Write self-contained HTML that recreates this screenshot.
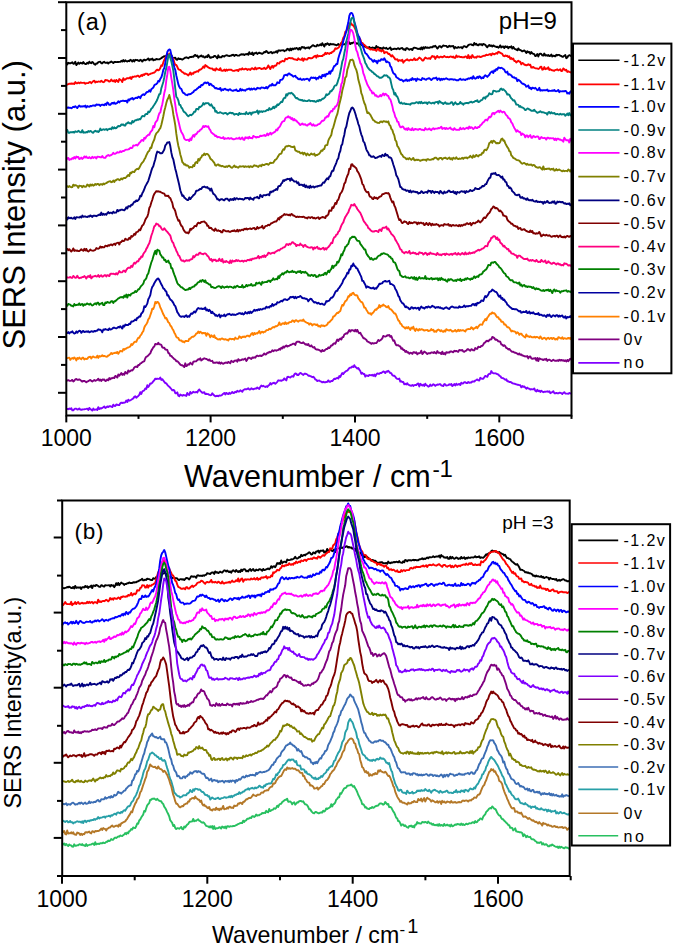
<!DOCTYPE html>
<html><head><meta charset="utf-8"><style>
html,body{margin:0;padding:0;background:#fff;overflow:hidden;width:675px;height:947px;}
svg{display:block;}
text{font-family:"Liberation Sans", sans-serif;fill:#000;}
</style></head><body>
<svg width="675" height="947" viewBox="0 0 675 947">
<rect width="675" height="947" fill="#fff"/>
<path d="M66.3 62.4 L67.3 64.4 L68.3 62.8 L69.3 63.2 L70.3 63.3 L71.3 62.8 L72.3 62.3 L73.3 63.8 L74.3 63.5 L75.3 61.8 L76.3 65.0 L77.3 63.9 L78.3 62.6 L79.3 63.8 L80.3 62.8 L81.3 63.0 L82.3 63.6 L83.3 62.1 L84.3 63.4 L85.3 64.0 L86.3 64.0 L87.3 62.7 L88.3 63.6 L89.3 61.7 L90.3 62.8 L91.3 63.2 L92.3 61.9 L93.3 62.8 L94.3 64.2 L95.3 64.8 L96.3 63.4 L97.3 63.5 L98.3 62.1 L99.3 61.9 L100.3 61.7 L101.3 63.2 L102.3 63.3 L103.3 62.2 L104.3 61.8 L105.3 62.9 L106.3 62.9 L107.3 62.5 L108.3 63.5 L109.3 62.4 L110.3 62.3 L111.3 61.4 L112.3 62.3 L113.3 63.1 L114.3 62.0 L115.3 61.9 L116.3 62.1 L117.3 61.9 L118.3 62.0 L119.3 61.9 L120.3 61.9 L121.3 60.8 L122.3 61.6 L123.3 60.1 L124.3 61.5 L125.3 60.3 L126.3 61.2 L127.3 61.5 L128.3 60.8 L129.3 61.2 L130.3 59.8 L131.3 60.4 L132.3 61.5 L133.3 60.1 L134.3 61.4 L135.3 59.8 L136.3 60.1 L137.3 59.9 L138.3 60.7 L139.3 61.0 L140.3 59.8 L141.3 60.4 L142.3 61.6 L143.3 60.1 L144.3 59.6 L145.3 60.4 L146.3 59.8 L147.3 59.4 L148.3 58.4 L149.3 60.3 L150.3 59.1 L151.3 59.5 L152.3 58.6 L153.3 60.3 L154.3 59.8 L155.3 59.9 L156.3 58.9 L157.3 59.3 L158.3 59.4 L159.3 59.4 L160.3 58.7 L161.3 58.1 L162.3 57.4 L163.3 56.7 L164.3 56.1 L165.3 56.6 L166.3 55.7 L167.3 53.9 L168.3 54.9 L169.3 55.7 L170.3 55.1 L171.3 54.9 L172.3 57.1 L173.3 58.2 L174.3 57.9 L175.3 57.6 L176.3 59.5 L177.3 59.7 L178.3 58.3 L179.3 59.0 L180.3 58.8 L181.3 59.1 L182.3 59.6 L183.3 59.0 L184.3 58.3 L185.3 57.6 L186.3 57.3 L187.3 57.7 L188.3 58.3 L189.3 57.4 L190.3 57.0 L191.3 57.0 L192.3 56.6 L193.3 56.9 L194.3 55.6 L195.3 54.9 L196.3 56.1 L197.3 55.6 L198.3 57.7 L199.3 56.4 L200.3 56.3 L201.3 55.4 L202.3 56.8 L203.3 56.2 L204.3 57.5 L205.3 57.3 L206.3 56.2 L207.3 57.1 L208.3 54.8 L209.3 56.4 L210.3 57.9 L211.3 57.5 L212.3 57.1 L213.3 57.0 L214.3 55.9 L215.3 56.0 L216.3 57.2 L217.3 58.3 L218.3 55.3 L219.3 57.3 L220.3 57.3 L221.3 57.4 L222.3 56.0 L223.3 56.2 L224.3 56.5 L225.3 55.6 L226.3 55.3 L227.3 55.4 L228.3 55.9 L229.3 56.1 L230.3 55.7 L231.3 55.6 L232.3 54.9 L233.3 54.8 L234.3 56.0 L235.3 55.0 L236.3 54.9 L237.3 55.5 L238.3 55.6 L239.3 55.5 L240.3 54.7 L241.3 54.3 L242.3 54.5 L243.3 54.3 L244.3 55.1 L245.3 54.2 L246.3 54.4 L247.3 53.8 L248.3 54.8 L249.3 52.2 L250.3 53.9 L251.3 54.1 L252.3 52.6 L253.3 55.1 L254.3 53.3 L255.3 53.2 L256.3 52.5 L257.3 53.9 L258.3 53.3 L259.3 52.6 L260.3 53.2 L261.3 53.5 L262.3 53.8 L263.3 53.0 L264.3 52.0 L265.3 52.3 L266.3 50.9 L267.3 52.0 L268.3 53.0 L269.3 52.8 L270.3 52.2 L271.3 52.0 L272.3 53.3 L273.3 52.3 L274.3 52.6 L275.3 52.1 L276.3 51.2 L277.3 52.7 L278.3 50.5 L279.3 50.4 L280.3 50.8 L281.3 50.4 L282.3 50.4 L283.3 50.2 L284.3 51.2 L285.3 50.4 L286.3 50.4 L287.3 48.8 L288.3 49.2 L289.3 50.5 L290.3 48.6 L291.3 50.3 L292.3 48.5 L293.3 49.3 L294.3 48.3 L295.3 48.9 L296.3 48.0 L297.3 48.3 L298.3 49.6 L299.3 47.9 L300.3 49.6 L301.3 47.6 L302.3 46.9 L303.3 47.7 L304.3 47.2 L305.3 48.6 L306.3 47.8 L307.3 47.9 L308.3 47.3 L309.3 48.5 L310.3 47.1 L311.3 46.7 L312.3 45.5 L313.3 45.3 L314.3 46.0 L315.3 46.4 L316.3 46.4 L317.3 44.7 L318.3 45.7 L319.3 45.4 L320.3 44.3 L321.3 45.4 L322.3 43.2 L323.3 45.0 L324.3 46.6 L325.3 43.9 L326.3 44.6 L327.3 43.2 L328.3 44.0 L329.3 45.1 L330.3 43.7 L331.3 44.4 L332.3 44.2 L333.3 44.1 L334.3 44.5 L335.3 44.7 L336.3 45.3 L337.3 44.9 L338.3 43.9 L339.3 45.3 L340.3 45.1 L341.3 42.9 L342.3 44.5 L343.3 44.4 L344.3 44.4 L345.3 43.9 L346.3 42.3 L347.3 42.9 L348.3 41.4 L349.3 42.6 L350.3 44.1 L351.3 43.0 L352.3 43.2 L353.3 42.4 L354.3 42.3 L355.3 42.5 L356.3 43.7 L357.3 43.3 L358.3 43.8 L359.3 45.5 L360.3 43.8 L361.3 44.5 L362.3 45.5 L363.3 46.3 L364.3 46.6 L365.3 46.0 L366.3 47.5 L367.3 47.5 L368.3 48.0 L369.3 47.0 L370.3 48.1 L371.3 48.1 L372.3 47.5 L373.3 47.9 L374.3 47.8 L375.3 49.3 L376.3 46.0 L377.3 47.3 L378.3 47.1 L379.3 48.2 L380.3 48.0 L381.3 48.2 L382.3 49.1 L383.3 47.4 L384.3 48.0 L385.3 48.5 L386.3 47.8 L387.3 49.0 L388.3 48.9 L389.3 48.2 L390.3 47.4 L391.3 49.9 L392.3 49.1 L393.3 49.0 L394.3 48.8 L395.3 48.7 L396.3 49.3 L397.3 48.7 L398.3 48.2 L399.3 49.2 L400.3 48.7 L401.3 48.1 L402.3 48.0 L403.3 49.6 L404.3 49.2 L405.3 50.2 L406.3 48.3 L407.3 48.1 L408.3 49.0 L409.3 49.7 L410.3 49.1 L411.3 49.0 L412.3 50.1 L413.3 48.1 L414.3 47.6 L415.3 47.9 L416.3 48.2 L417.3 48.6 L418.3 49.0 L419.3 48.5 L420.3 49.3 L421.3 47.4 L422.3 49.4 L423.3 47.2 L424.3 48.6 L425.3 47.0 L426.3 47.8 L427.3 47.5 L428.3 47.8 L429.3 47.9 L430.3 47.2 L431.3 47.2 L432.3 47.4 L433.3 46.2 L434.3 46.6 L435.3 45.8 L436.3 47.0 L437.3 48.6 L438.3 47.5 L439.3 46.2 L440.3 46.3 L441.3 47.5 L442.3 46.4 L443.3 45.5 L444.3 45.9 L445.3 45.9 L446.3 45.9 L447.3 47.2 L448.3 46.8 L449.3 45.7 L450.3 46.5 L451.3 46.1 L452.3 46.2 L453.3 46.0 L454.3 48.5 L455.3 47.0 L456.3 47.7 L457.3 47.9 L458.3 47.0 L459.3 47.6 L460.3 47.4 L461.3 47.1 L462.3 48.3 L463.3 46.7 L464.3 46.2 L465.3 46.6 L466.3 47.2 L467.3 46.4 L468.3 45.1 L469.3 44.6 L470.3 44.4 L471.3 44.4 L472.3 45.1 L473.3 45.3 L474.3 42.9 L475.3 44.6 L476.3 43.8 L477.3 45.1 L478.3 45.4 L479.3 44.1 L480.3 44.5 L481.3 44.2 L482.3 45.3 L483.3 43.9 L484.3 44.3 L485.3 44.8 L486.3 46.3 L487.3 47.3 L488.3 45.7 L489.3 44.9 L490.3 46.0 L491.3 45.4 L492.3 46.5 L493.3 45.4 L494.3 46.1 L495.3 46.5 L496.3 47.0 L497.3 46.6 L498.3 47.7 L499.3 46.9 L500.3 45.4 L501.3 47.5 L502.3 46.7 L503.3 46.4 L504.3 48.1 L505.3 46.3 L506.3 47.1 L507.3 46.5 L508.3 48.2 L509.3 46.9 L510.3 47.4 L511.3 46.3 L512.3 48.6 L513.3 46.9 L514.3 48.6 L515.3 49.1 L516.3 49.5 L517.3 50.3 L518.3 48.4 L519.3 49.9 L520.3 50.0 L521.3 50.6 L522.3 51.4 L523.3 50.9 L524.3 50.5 L525.3 51.4 L526.3 52.9 L527.3 51.2 L528.3 52.4 L529.3 52.0 L530.3 53.8 L531.3 52.1 L532.3 53.4 L533.3 53.8 L534.3 54.2 L535.3 56.1 L536.3 55.7 L537.3 54.0 L538.3 56.5 L539.3 54.1 L540.3 53.6 L541.3 54.0 L542.3 55.3 L543.3 55.6 L544.3 53.5 L545.3 55.6 L546.3 55.1 L547.3 55.8 L548.3 55.0 L549.3 56.0 L550.3 55.8 L551.3 54.5 L552.3 56.5 L553.3 55.6 L554.3 56.0 L555.3 56.4 L556.3 54.8 L557.3 55.4 L558.3 54.9 L559.3 54.9 L560.3 55.8 L561.3 55.9 L562.3 56.7 L563.3 56.7 L564.3 55.7 L565.3 55.1 L566.3 58.2 L567.3 57.5 L568.3 55.8 L569.3 55.2 L570.3 55.7 L571.3 56.2" stroke="#000000" stroke-width="1.9" fill="none" stroke-linejoin="round"/>
<path d="M66.3 84.7 L67.3 84.6 L68.3 84.2 L69.3 83.6 L70.3 83.9 L71.3 83.5 L72.3 83.7 L73.3 83.5 L74.3 84.0 L75.3 82.1 L76.3 83.2 L77.3 83.2 L78.3 82.5 L79.3 83.2 L80.3 82.5 L81.3 82.7 L82.3 82.9 L83.3 82.9 L84.3 82.6 L85.3 83.8 L86.3 83.1 L87.3 83.1 L88.3 83.0 L89.3 82.2 L90.3 82.0 L91.3 83.2 L92.3 82.2 L93.3 81.1 L94.3 80.7 L95.3 82.4 L96.3 81.6 L97.3 82.0 L98.3 81.5 L99.3 81.6 L100.3 81.7 L101.3 80.8 L102.3 81.6 L103.3 82.2 L104.3 81.9 L105.3 80.0 L106.3 80.2 L107.3 80.2 L108.3 80.9 L109.3 81.6 L110.3 81.1 L111.3 79.5 L112.3 80.8 L113.3 81.3 L114.3 80.2 L115.3 81.9 L116.3 79.9 L117.3 81.2 L118.3 81.9 L119.3 79.1 L120.3 79.7 L121.3 80.3 L122.3 82.1 L123.3 78.2 L124.3 79.9 L125.3 79.5 L126.3 78.7 L127.3 78.2 L128.3 78.2 L129.3 78.2 L130.3 77.2 L131.3 79.0 L132.3 76.8 L133.3 77.0 L134.3 76.5 L135.3 76.4 L136.3 76.6 L137.3 75.7 L138.3 75.8 L139.3 77.0 L140.3 76.3 L141.3 75.1 L142.3 75.9 L143.3 74.4 L144.3 75.0 L145.3 73.6 L146.3 73.7 L147.3 73.7 L148.3 75.1 L149.3 74.1 L150.3 74.0 L151.3 73.4 L152.3 73.2 L153.3 72.8 L154.3 72.6 L155.3 71.6 L156.3 70.2 L157.3 69.6 L158.3 70.4 L159.3 69.7 L160.3 68.1 L161.3 65.3 L162.3 65.8 L163.3 62.4 L164.3 59.8 L165.3 57.8 L166.3 56.3 L167.3 56.8 L168.3 56.0 L169.3 53.6 L170.3 54.9 L171.3 56.8 L172.3 59.5 L173.3 58.4 L174.3 62.6 L175.3 64.8 L176.3 65.0 L177.3 66.8 L178.3 69.2 L179.3 69.8 L180.3 69.9 L181.3 71.2 L182.3 72.2 L183.3 72.5 L184.3 73.7 L185.3 73.5 L186.3 74.0 L187.3 74.6 L188.3 75.4 L189.3 74.2 L190.3 72.5 L191.3 74.7 L192.3 73.2 L193.3 73.8 L194.3 72.1 L195.3 72.3 L196.3 71.6 L197.3 71.2 L198.3 71.7 L199.3 69.7 L200.3 69.7 L201.3 69.2 L202.3 68.2 L203.3 66.4 L204.3 67.8 L205.3 65.1 L206.3 65.9 L207.3 66.6 L208.3 67.4 L209.3 68.0 L210.3 68.3 L211.3 68.6 L212.3 68.4 L213.3 70.0 L214.3 69.3 L215.3 70.6 L216.3 68.3 L217.3 69.3 L218.3 69.6 L219.3 70.0 L220.3 68.2 L221.3 70.6 L222.3 70.7 L223.3 70.5 L224.3 69.6 L225.3 71.0 L226.3 69.5 L227.3 70.6 L228.3 69.8 L229.3 69.8 L230.3 69.7 L231.3 69.8 L232.3 70.6 L233.3 70.9 L234.3 70.8 L235.3 70.4 L236.3 70.2 L237.3 70.0 L238.3 71.0 L239.3 69.3 L240.3 69.1 L241.3 69.6 L242.3 68.3 L243.3 69.3 L244.3 69.4 L245.3 68.7 L246.3 69.0 L247.3 69.9 L248.3 69.1 L249.3 69.3 L250.3 70.0 L251.3 68.7 L252.3 68.2 L253.3 69.0 L254.3 69.3 L255.3 67.5 L256.3 69.3 L257.3 68.5 L258.3 68.3 L259.3 67.9 L260.3 68.3 L261.3 69.0 L262.3 68.6 L263.3 68.7 L264.3 67.7 L265.3 69.0 L266.3 68.6 L267.3 67.5 L268.3 65.4 L269.3 67.3 L270.3 69.1 L271.3 66.8 L272.3 65.9 L273.3 67.7 L274.3 65.6 L275.3 65.9 L276.3 65.4 L277.3 63.0 L278.3 63.4 L279.3 63.5 L280.3 61.6 L281.3 61.8 L282.3 60.8 L283.3 61.2 L284.3 61.4 L285.3 58.8 L286.3 59.0 L287.3 59.2 L288.3 58.2 L289.3 57.9 L290.3 58.2 L291.3 58.3 L292.3 58.1 L293.3 58.9 L294.3 59.4 L295.3 59.5 L296.3 59.6 L297.3 60.1 L298.3 58.3 L299.3 59.3 L300.3 59.6 L301.3 59.9 L302.3 58.3 L303.3 60.8 L304.3 58.6 L305.3 59.4 L306.3 59.5 L307.3 59.6 L308.3 58.0 L309.3 57.9 L310.3 58.3 L311.3 58.2 L312.3 58.1 L313.3 57.1 L314.3 56.4 L315.3 55.7 L316.3 57.7 L317.3 55.2 L318.3 56.5 L319.3 56.0 L320.3 56.1 L321.3 56.0 L322.3 56.1 L323.3 54.8 L324.3 54.9 L325.3 52.8 L326.3 54.1 L327.3 53.0 L328.3 53.3 L329.3 54.0 L330.3 52.8 L331.3 53.1 L332.3 51.7 L333.3 51.6 L334.3 50.5 L335.3 48.3 L336.3 48.9 L337.3 48.4 L338.3 47.8 L339.3 46.6 L340.3 44.9 L341.3 43.7 L342.3 41.0 L343.3 37.7 L344.3 36.2 L345.3 31.9 L346.3 31.2 L347.3 29.0 L348.3 28.0 L349.3 24.8 L350.3 22.8 L351.3 23.6 L352.3 25.3 L353.3 25.2 L354.3 27.1 L355.3 29.2 L356.3 31.7 L357.3 34.9 L358.3 37.5 L359.3 38.1 L360.3 39.4 L361.3 42.6 L362.3 42.9 L363.3 44.2 L364.3 44.9 L365.3 45.8 L366.3 47.0 L367.3 47.3 L368.3 48.4 L369.3 48.7 L370.3 49.5 L371.3 49.1 L372.3 49.5 L373.3 49.9 L374.3 49.9 L375.3 50.0 L376.3 50.9 L377.3 49.2 L378.3 48.7 L379.3 50.7 L380.3 50.1 L381.3 51.5 L382.3 50.6 L383.3 50.2 L384.3 53.2 L385.3 52.3 L386.3 52.2 L387.3 52.5 L388.3 54.1 L389.3 53.8 L390.3 55.2 L391.3 56.5 L392.3 55.2 L393.3 56.7 L394.3 57.9 L395.3 59.4 L396.3 59.6 L397.3 59.2 L398.3 61.2 L399.3 60.2 L400.3 60.4 L401.3 60.8 L402.3 59.7 L403.3 62.7 L404.3 61.3 L405.3 60.5 L406.3 59.9 L407.3 59.3 L408.3 60.4 L409.3 60.6 L410.3 59.7 L411.3 59.8 L412.3 60.2 L413.3 59.7 L414.3 58.2 L415.3 60.0 L416.3 59.6 L417.3 59.9 L418.3 58.7 L419.3 57.6 L420.3 58.2 L421.3 59.2 L422.3 60.5 L423.3 60.6 L424.3 58.9 L425.3 57.5 L426.3 58.2 L427.3 58.6 L428.3 58.5 L429.3 58.1 L430.3 58.9 L431.3 57.1 L432.3 56.0 L433.3 56.9 L434.3 56.5 L435.3 58.9 L436.3 57.0 L437.3 56.0 L438.3 57.4 L439.3 57.6 L440.3 56.8 L441.3 56.8 L442.3 57.4 L443.3 56.9 L444.3 56.0 L445.3 56.9 L446.3 57.2 L447.3 56.8 L448.3 57.2 L449.3 57.1 L450.3 56.5 L451.3 56.6 L452.3 57.3 L453.3 56.5 L454.3 57.8 L455.3 57.9 L456.3 55.5 L457.3 56.9 L458.3 56.4 L459.3 56.5 L460.3 57.1 L461.3 56.9 L462.3 57.4 L463.3 57.2 L464.3 57.3 L465.3 56.4 L466.3 56.7 L467.3 58.1 L468.3 55.1 L469.3 58.3 L470.3 56.6 L471.3 57.9 L472.3 55.1 L473.3 56.7 L474.3 57.6 L475.3 57.1 L476.3 57.8 L477.3 56.3 L478.3 56.6 L479.3 56.4 L480.3 57.1 L481.3 56.9 L482.3 56.3 L483.3 55.9 L484.3 55.6 L485.3 55.7 L486.3 54.6 L487.3 55.1 L488.3 54.8 L489.3 54.3 L490.3 54.0 L491.3 55.3 L492.3 53.4 L493.3 53.9 L494.3 54.4 L495.3 53.7 L496.3 53.0 L497.3 53.7 L498.3 51.8 L499.3 52.1 L500.3 52.9 L501.3 53.4 L502.3 53.9 L503.3 55.9 L504.3 56.2 L505.3 55.4 L506.3 56.1 L507.3 55.7 L508.3 57.1 L509.3 56.3 L510.3 58.9 L511.3 58.0 L512.3 59.3 L513.3 58.5 L514.3 61.0 L515.3 61.0 L516.3 62.5 L517.3 61.5 L518.3 60.7 L519.3 61.7 L520.3 61.8 L521.3 64.3 L522.3 63.0 L523.3 63.3 L524.3 64.7 L525.3 64.8 L526.3 65.3 L527.3 65.0 L528.3 64.2 L529.3 65.0 L530.3 64.7 L531.3 67.6 L532.3 67.6 L533.3 66.9 L534.3 67.9 L535.3 68.2 L536.3 68.4 L537.3 68.5 L538.3 69.0 L539.3 68.5 L540.3 66.9 L541.3 66.6 L542.3 69.7 L543.3 69.3 L544.3 67.1 L545.3 69.2 L546.3 68.5 L547.3 68.8 L548.3 67.3 L549.3 69.9 L550.3 69.3 L551.3 70.0 L552.3 70.3 L553.3 70.5 L554.3 70.8 L555.3 69.9 L556.3 69.9 L557.3 69.3 L558.3 70.3 L559.3 69.8 L560.3 69.2 L561.3 71.1 L562.3 70.8 L563.3 68.4 L564.3 69.2 L565.3 70.5 L566.3 69.8 L567.3 71.9 L568.3 71.3 L569.3 71.8 L570.3 72.2 L571.3 72.7" stroke="#ff0000" stroke-width="1.9" fill="none" stroke-linejoin="round"/>
<path d="M66.3 107.2 L67.3 107.8 L68.3 107.5 L69.3 107.9 L70.3 107.7 L71.3 108.3 L72.3 107.6 L73.3 106.8 L74.3 107.2 L75.3 106.2 L76.3 107.2 L77.3 108.1 L78.3 106.4 L79.3 105.6 L80.3 106.7 L81.3 106.3 L82.3 106.6 L83.3 106.1 L84.3 106.5 L85.3 105.6 L86.3 107.5 L87.3 106.1 L88.3 106.6 L89.3 106.7 L90.3 105.9 L91.3 106.3 L92.3 105.7 L93.3 105.4 L94.3 105.5 L95.3 105.9 L96.3 104.5 L97.3 104.7 L98.3 104.7 L99.3 104.7 L100.3 105.9 L101.3 104.9 L102.3 104.6 L103.3 104.8 L104.3 105.3 L105.3 103.8 L106.3 105.0 L107.3 102.4 L108.3 103.3 L109.3 104.9 L110.3 104.8 L111.3 103.6 L112.3 102.9 L113.3 103.6 L114.3 102.5 L115.3 103.8 L116.3 103.3 L117.3 102.8 L118.3 101.3 L119.3 102.5 L120.3 101.3 L121.3 101.1 L122.3 100.8 L123.3 100.8 L124.3 101.0 L125.3 101.0 L126.3 100.8 L127.3 102.5 L128.3 99.5 L129.3 100.4 L130.3 98.8 L131.3 98.9 L132.3 97.9 L133.3 99.5 L134.3 98.5 L135.3 98.1 L136.3 97.6 L137.3 98.1 L138.3 96.7 L139.3 97.0 L140.3 98.2 L141.3 95.8 L142.3 95.0 L143.3 94.2 L144.3 95.0 L145.3 93.9 L146.3 92.6 L147.3 91.9 L148.3 91.8 L149.3 90.3 L150.3 91.8 L151.3 89.3 L152.3 88.4 L153.3 87.6 L154.3 85.3 L155.3 84.5 L156.3 84.2 L157.3 83.2 L158.3 80.8 L159.3 81.5 L160.3 78.8 L161.3 77.4 L162.3 74.4 L163.3 69.8 L164.3 68.2 L165.3 62.9 L166.3 56.9 L167.3 52.0 L168.3 50.2 L169.3 49.4 L170.3 50.1 L171.3 54.7 L172.3 57.6 L173.3 63.0 L174.3 67.3 L175.3 70.0 L176.3 75.5 L177.3 79.8 L178.3 84.1 L179.3 86.8 L180.3 88.4 L181.3 88.8 L182.3 91.4 L183.3 93.0 L184.3 93.2 L185.3 94.5 L186.3 94.9 L187.3 95.2 L188.3 94.3 L189.3 94.4 L190.3 94.0 L191.3 93.6 L192.3 92.7 L193.3 92.2 L194.3 90.6 L195.3 90.1 L196.3 89.6 L197.3 88.5 L198.3 87.9 L199.3 86.6 L200.3 87.0 L201.3 84.9 L202.3 85.2 L203.3 84.3 L204.3 82.9 L205.3 82.5 L206.3 83.3 L207.3 82.5 L208.3 82.7 L209.3 85.1 L210.3 83.8 L211.3 84.4 L212.3 85.8 L213.3 85.9 L214.3 87.2 L215.3 88.4 L216.3 88.0 L217.3 88.8 L218.3 88.8 L219.3 89.2 L220.3 87.9 L221.3 90.7 L222.3 89.4 L223.3 90.0 L224.3 88.9 L225.3 88.8 L226.3 89.9 L227.3 89.7 L228.3 90.5 L229.3 89.4 L230.3 89.3 L231.3 90.4 L232.3 90.7 L233.3 90.8 L234.3 90.1 L235.3 90.4 L236.3 89.5 L237.3 91.1 L238.3 91.0 L239.3 90.9 L240.3 88.8 L241.3 90.6 L242.3 89.4 L243.3 90.2 L244.3 90.1 L245.3 90.7 L246.3 89.5 L247.3 89.3 L248.3 88.8 L249.3 88.5 L250.3 89.8 L251.3 88.6 L252.3 89.6 L253.3 88.7 L254.3 88.5 L255.3 89.5 L256.3 89.3 L257.3 87.8 L258.3 88.3 L259.3 88.3 L260.3 88.7 L261.3 87.5 L262.3 87.6 L263.3 87.7 L264.3 88.2 L265.3 88.1 L266.3 86.9 L267.3 88.4 L268.3 87.1 L269.3 85.9 L270.3 85.1 L271.3 85.6 L272.3 83.8 L273.3 85.4 L274.3 85.3 L275.3 85.4 L276.3 84.4 L277.3 82.3 L278.3 82.9 L279.3 83.0 L280.3 79.9 L281.3 79.8 L282.3 79.6 L283.3 77.9 L284.3 75.1 L285.3 75.1 L286.3 74.6 L287.3 75.6 L288.3 73.6 L289.3 73.4 L290.3 74.5 L291.3 74.9 L292.3 75.6 L293.3 76.7 L294.3 76.2 L295.3 75.8 L296.3 77.4 L297.3 77.9 L298.3 79.1 L299.3 79.4 L300.3 78.5 L301.3 79.7 L302.3 79.9 L303.3 79.0 L304.3 79.8 L305.3 79.1 L306.3 79.0 L307.3 78.7 L308.3 79.3 L309.3 80.7 L310.3 78.6 L311.3 77.4 L312.3 78.0 L313.3 77.5 L314.3 78.1 L315.3 77.5 L316.3 79.4 L317.3 77.9 L318.3 78.5 L319.3 76.4 L320.3 76.6 L321.3 78.1 L322.3 75.0 L323.3 76.1 L324.3 74.5 L325.3 76.5 L326.3 73.8 L327.3 74.2 L328.3 73.6 L329.3 71.6 L330.3 73.8 L331.3 70.7 L332.3 70.9 L333.3 68.0 L334.3 66.0 L335.3 65.7 L336.3 64.0 L337.3 64.0 L338.3 58.5 L339.3 55.0 L340.3 52.1 L341.3 49.1 L342.3 45.6 L343.3 41.0 L344.3 37.7 L345.3 34.7 L346.3 31.4 L347.3 26.4 L348.3 22.6 L349.3 15.8 L350.3 13.5 L351.3 12.9 L352.3 13.5 L353.3 16.3 L354.3 21.8 L355.3 25.0 L356.3 28.6 L357.3 32.8 L358.3 35.7 L359.3 37.1 L360.3 41.0 L361.3 43.9 L362.3 44.8 L363.3 47.6 L364.3 50.5 L365.3 53.3 L366.3 53.6 L367.3 55.0 L368.3 56.4 L369.3 58.1 L370.3 58.9 L371.3 59.2 L372.3 60.6 L373.3 61.8 L374.3 60.0 L375.3 61.5 L376.3 61.1 L377.3 63.3 L378.3 60.5 L379.3 60.7 L380.3 60.7 L381.3 59.1 L382.3 59.5 L383.3 59.9 L384.3 58.3 L385.3 60.0 L386.3 62.2 L387.3 61.5 L388.3 62.4 L389.3 62.6 L390.3 66.3 L391.3 67.2 L392.3 70.7 L393.3 73.1 L394.3 73.9 L395.3 74.6 L396.3 77.2 L397.3 77.8 L398.3 78.3 L399.3 79.4 L400.3 80.0 L401.3 79.6 L402.3 80.3 L403.3 81.5 L404.3 80.4 L405.3 80.5 L406.3 79.4 L407.3 80.9 L408.3 80.2 L409.3 80.7 L410.3 79.3 L411.3 80.1 L412.3 78.1 L413.3 79.6 L414.3 79.2 L415.3 79.0 L416.3 81.0 L417.3 78.5 L418.3 79.4 L419.3 79.4 L420.3 79.8 L421.3 80.1 L422.3 78.1 L423.3 78.8 L424.3 78.6 L425.3 79.6 L426.3 79.7 L427.3 78.6 L428.3 78.5 L429.3 78.1 L430.3 79.1 L431.3 80.1 L432.3 79.1 L433.3 78.2 L434.3 78.1 L435.3 78.2 L436.3 77.5 L437.3 80.0 L438.3 78.7 L439.3 78.4 L440.3 80.3 L441.3 78.8 L442.3 79.7 L443.3 78.8 L444.3 79.4 L445.3 78.7 L446.3 78.3 L447.3 79.0 L448.3 79.3 L449.3 79.7 L450.3 79.2 L451.3 79.1 L452.3 79.2 L453.3 79.8 L454.3 79.4 L455.3 79.6 L456.3 80.3 L457.3 80.3 L458.3 80.3 L459.3 79.3 L460.3 78.7 L461.3 79.9 L462.3 79.7 L463.3 79.3 L464.3 79.6 L465.3 80.0 L466.3 79.1 L467.3 79.4 L468.3 78.3 L469.3 78.7 L470.3 78.1 L471.3 77.5 L472.3 78.8 L473.3 76.2 L474.3 78.2 L475.3 78.7 L476.3 78.2 L477.3 76.7 L478.3 77.9 L479.3 76.2 L480.3 76.9 L481.3 78.5 L482.3 77.4 L483.3 78.1 L484.3 76.2 L485.3 75.3 L486.3 76.0 L487.3 76.9 L488.3 75.7 L489.3 74.8 L490.3 72.9 L491.3 72.0 L492.3 71.3 L493.3 73.0 L494.3 70.3 L495.3 71.0 L496.3 69.0 L497.3 69.7 L498.3 67.5 L499.3 67.7 L500.3 68.3 L501.3 67.7 L502.3 68.3 L503.3 69.1 L504.3 69.6 L505.3 72.0 L506.3 72.6 L507.3 71.6 L508.3 74.7 L509.3 74.1 L510.3 74.8 L511.3 75.4 L512.3 76.9 L513.3 77.5 L514.3 77.3 L515.3 78.4 L516.3 78.1 L517.3 81.2 L518.3 79.8 L519.3 80.4 L520.3 81.2 L521.3 82.6 L522.3 83.7 L523.3 83.6 L524.3 84.5 L525.3 84.9 L526.3 86.7 L527.3 86.4 L528.3 85.5 L529.3 88.2 L530.3 87.7 L531.3 89.2 L532.3 87.6 L533.3 88.0 L534.3 88.5 L535.3 87.8 L536.3 88.8 L537.3 90.2 L538.3 89.9 L539.3 87.8 L540.3 90.7 L541.3 90.1 L542.3 90.5 L543.3 90.1 L544.3 90.3 L545.3 90.3 L546.3 90.3 L547.3 89.6 L548.3 91.2 L549.3 90.7 L550.3 90.9 L551.3 90.9 L552.3 90.5 L553.3 90.7 L554.3 89.9 L555.3 91.1 L556.3 91.2 L557.3 90.9 L558.3 89.9 L559.3 92.2 L560.3 91.2 L561.3 91.4 L562.3 91.3 L563.3 91.1 L564.3 91.4 L565.3 90.9 L566.3 91.4 L567.3 93.5 L568.3 92.9 L569.3 93.7 L570.3 91.8 L571.3 90.9" stroke="#0000ff" stroke-width="1.9" fill="none" stroke-linejoin="round"/>
<path d="M66.3 131.0 L67.3 130.0 L68.3 132.8 L69.3 132.9 L70.3 132.1 L71.3 132.3 L72.3 132.3 L73.3 131.9 L74.3 132.6 L75.3 131.3 L76.3 131.7 L77.3 131.9 L78.3 130.8 L79.3 131.3 L80.3 132.4 L81.3 132.3 L82.3 130.2 L83.3 132.7 L84.3 132.3 L85.3 132.6 L86.3 132.0 L87.3 132.4 L88.3 131.0 L89.3 131.7 L90.3 131.0 L91.3 131.3 L92.3 132.5 L93.3 132.7 L94.3 131.3 L95.3 130.8 L96.3 131.6 L97.3 131.2 L98.3 132.1 L99.3 131.0 L100.3 128.6 L101.3 130.2 L102.3 129.8 L103.3 129.2 L104.3 129.8 L105.3 129.5 L106.3 129.0 L107.3 130.2 L108.3 129.2 L109.3 129.0 L110.3 128.6 L111.3 129.2 L112.3 127.2 L113.3 128.6 L114.3 127.3 L115.3 128.3 L116.3 128.0 L117.3 127.0 L118.3 126.0 L119.3 126.3 L120.3 126.1 L121.3 124.4 L122.3 124.9 L123.3 124.4 L124.3 125.6 L125.3 125.5 L126.3 123.4 L127.3 123.2 L128.3 122.3 L129.3 123.2 L130.3 123.3 L131.3 123.7 L132.3 121.0 L133.3 122.3 L134.3 121.1 L135.3 120.3 L136.3 120.2 L137.3 119.4 L138.3 119.9 L139.3 119.0 L140.3 119.4 L141.3 117.6 L142.3 116.0 L143.3 116.1 L144.3 116.4 L145.3 114.3 L146.3 114.0 L147.3 114.1 L148.3 111.6 L149.3 112.2 L150.3 110.7 L151.3 108.8 L152.3 107.9 L153.3 106.2 L154.3 104.8 L155.3 103.2 L156.3 101.6 L157.3 99.5 L158.3 96.8 L159.3 94.2 L160.3 93.8 L161.3 88.4 L162.3 85.3 L163.3 82.0 L164.3 77.4 L165.3 71.7 L166.3 68.3 L167.3 62.2 L168.3 56.3 L169.3 54.6 L170.3 58.0 L171.3 61.2 L172.3 65.8 L173.3 70.6 L174.3 79.0 L175.3 88.8 L176.3 96.8 L177.3 98.0 L178.3 100.3 L179.3 104.7 L180.3 104.9 L181.3 107.5 L182.3 108.5 L183.3 110.9 L184.3 112.2 L185.3 112.7 L186.3 114.0 L187.3 115.4 L188.3 116.3 L189.3 115.5 L190.3 114.7 L191.3 115.3 L192.3 114.4 L193.3 113.3 L194.3 111.6 L195.3 111.7 L196.3 108.9 L197.3 108.9 L198.3 109.4 L199.3 106.8 L200.3 107.1 L201.3 106.3 L202.3 105.4 L203.3 103.1 L204.3 104.5 L205.3 103.3 L206.3 103.3 L207.3 103.1 L208.3 103.1 L209.3 104.6 L210.3 105.6 L211.3 104.3 L212.3 106.3 L213.3 108.0 L214.3 107.8 L215.3 111.7 L216.3 111.0 L217.3 112.7 L218.3 112.9 L219.3 112.7 L220.3 112.2 L221.3 112.8 L222.3 113.2 L223.3 113.8 L224.3 113.1 L225.3 113.0 L226.3 113.2 L227.3 114.4 L228.3 113.7 L229.3 113.0 L230.3 112.6 L231.3 113.3 L232.3 113.0 L233.3 113.4 L234.3 114.7 L235.3 114.2 L236.3 113.9 L237.3 114.1 L238.3 115.1 L239.3 112.9 L240.3 114.1 L241.3 113.7 L242.3 113.9 L243.3 113.9 L244.3 113.6 L245.3 114.2 L246.3 112.1 L247.3 113.9 L248.3 114.1 L249.3 112.8 L250.3 112.7 L251.3 114.7 L252.3 112.5 L253.3 112.7 L254.3 112.2 L255.3 112.2 L256.3 111.9 L257.3 110.6 L258.3 113.8 L259.3 111.2 L260.3 111.8 L261.3 111.3 L262.3 112.1 L263.3 111.3 L264.3 111.4 L265.3 111.2 L266.3 110.7 L267.3 109.8 L268.3 110.2 L269.3 108.1 L270.3 109.6 L271.3 109.1 L272.3 108.4 L273.3 106.8 L274.3 108.3 L275.3 106.3 L276.3 106.8 L277.3 104.4 L278.3 105.1 L279.3 103.9 L280.3 102.8 L281.3 101.6 L282.3 102.0 L283.3 99.1 L284.3 97.9 L285.3 97.9 L286.3 94.1 L287.3 95.4 L288.3 93.5 L289.3 93.2 L290.3 93.5 L291.3 92.8 L292.3 93.5 L293.3 94.5 L294.3 95.6 L295.3 97.3 L296.3 98.3 L297.3 98.0 L298.3 99.2 L299.3 99.8 L300.3 99.8 L301.3 100.4 L302.3 100.0 L303.3 101.0 L304.3 100.5 L305.3 100.8 L306.3 101.1 L307.3 101.1 L308.3 100.5 L309.3 100.1 L310.3 101.2 L311.3 100.9 L312.3 100.9 L313.3 101.3 L314.3 100.9 L315.3 101.7 L316.3 101.7 L317.3 100.6 L318.3 101.3 L319.3 99.9 L320.3 100.6 L321.3 99.9 L322.3 98.8 L323.3 98.7 L324.3 98.0 L325.3 96.8 L326.3 94.3 L327.3 95.0 L328.3 94.2 L329.3 93.6 L330.3 91.2 L331.3 91.4 L332.3 89.9 L333.3 88.8 L334.3 86.4 L335.3 85.4 L336.3 85.3 L337.3 83.2 L338.3 79.8 L339.3 77.0 L340.3 72.2 L341.3 67.1 L342.3 61.5 L343.3 58.9 L344.3 53.3 L345.3 48.5 L346.3 41.8 L347.3 37.8 L348.3 33.9 L349.3 28.3 L350.3 22.9 L351.3 18.6 L352.3 17.8 L353.3 18.6 L354.3 22.2 L355.3 26.8 L356.3 30.8 L357.3 35.7 L358.3 40.3 L359.3 44.8 L360.3 47.2 L361.3 50.5 L362.3 54.2 L363.3 56.7 L364.3 59.4 L365.3 63.0 L366.3 64.3 L367.3 66.8 L368.3 68.2 L369.3 69.5 L370.3 70.3 L371.3 70.8 L372.3 72.2 L373.3 72.5 L374.3 74.1 L375.3 74.3 L376.3 75.3 L377.3 76.4 L378.3 76.5 L379.3 77.7 L380.3 77.8 L381.3 77.7 L382.3 77.1 L383.3 76.2 L384.3 75.2 L385.3 75.6 L386.3 75.3 L387.3 75.9 L388.3 77.4 L389.3 77.5 L390.3 79.3 L391.3 83.9 L392.3 88.1 L393.3 90.1 L394.3 94.6 L395.3 93.1 L396.3 95.9 L397.3 96.6 L398.3 99.0 L399.3 102.4 L400.3 103.4 L401.3 102.5 L402.3 103.7 L403.3 103.6 L404.3 103.2 L405.3 104.0 L406.3 103.8 L407.3 104.1 L408.3 104.1 L409.3 104.3 L410.3 104.7 L411.3 103.4 L412.3 103.2 L413.3 103.2 L414.3 103.4 L415.3 102.9 L416.3 102.2 L417.3 102.4 L418.3 103.3 L419.3 101.9 L420.3 103.3 L421.3 101.7 L422.3 103.2 L423.3 103.1 L424.3 102.5 L425.3 102.7 L426.3 102.5 L427.3 103.9 L428.3 102.4 L429.3 102.2 L430.3 103.0 L431.3 103.5 L432.3 102.9 L433.3 102.6 L434.3 103.5 L435.3 102.1 L436.3 102.1 L437.3 101.8 L438.3 103.6 L439.3 101.1 L440.3 101.7 L441.3 102.9 L442.3 103.0 L443.3 104.0 L444.3 103.0 L445.3 102.3 L446.3 103.7 L447.3 103.5 L448.3 103.7 L449.3 103.7 L450.3 103.4 L451.3 102.1 L452.3 102.5 L453.3 104.9 L454.3 103.6 L455.3 102.3 L456.3 103.7 L457.3 104.4 L458.3 104.0 L459.3 103.7 L460.3 101.9 L461.3 103.6 L462.3 103.4 L463.3 104.7 L464.3 103.4 L465.3 103.3 L466.3 102.9 L467.3 103.0 L468.3 103.2 L469.3 102.5 L470.3 102.1 L471.3 101.7 L472.3 102.6 L473.3 102.0 L474.3 101.9 L475.3 100.9 L476.3 101.2 L477.3 100.2 L478.3 102.1 L479.3 101.9 L480.3 100.9 L481.3 100.1 L482.3 99.9 L483.3 97.9 L484.3 97.4 L485.3 98.7 L486.3 96.4 L487.3 96.5 L488.3 95.3 L489.3 93.2 L490.3 93.8 L491.3 94.3 L492.3 94.1 L493.3 90.7 L494.3 90.9 L495.3 91.1 L496.3 91.7 L497.3 91.4 L498.3 91.3 L499.3 91.0 L500.3 89.1 L501.3 88.5 L502.3 89.9 L503.3 89.2 L504.3 90.2 L505.3 91.0 L506.3 92.3 L507.3 94.6 L508.3 94.3 L509.3 94.8 L510.3 96.7 L511.3 98.4 L512.3 99.3 L513.3 100.6 L514.3 100.3 L515.3 102.2 L516.3 104.6 L517.3 104.6 L518.3 104.9 L519.3 106.8 L520.3 106.0 L521.3 107.4 L522.3 107.4 L523.3 108.0 L524.3 108.8 L525.3 110.1 L526.3 109.7 L527.3 108.5 L528.3 108.6 L529.3 109.5 L530.3 109.9 L531.3 110.8 L532.3 110.6 L533.3 110.9 L534.3 109.7 L535.3 111.2 L536.3 111.8 L537.3 112.8 L538.3 112.3 L539.3 112.0 L540.3 111.2 L541.3 112.2 L542.3 112.3 L543.3 112.3 L544.3 112.7 L545.3 113.1 L546.3 113.1 L547.3 114.6 L548.3 112.3 L549.3 111.9 L550.3 113.5 L551.3 112.3 L552.3 113.2 L553.3 113.4 L554.3 112.9 L555.3 114.2 L556.3 114.2 L557.3 113.9 L558.3 114.3 L559.3 114.6 L560.3 113.8 L561.3 114.6 L562.3 114.3 L563.3 114.3 L564.3 114.1 L565.3 115.8 L566.3 114.9 L567.3 113.6 L568.3 115.2 L569.3 113.0 L570.3 115.2 L571.3 115.7" stroke="#008080" stroke-width="1.9" fill="none" stroke-linejoin="round"/>
<path d="M66.3 159.5 L67.3 158.6 L68.3 157.9 L69.3 159.9 L70.3 159.2 L71.3 159.3 L72.3 158.1 L73.3 158.8 L74.3 157.0 L75.3 158.6 L76.3 156.6 L77.3 157.4 L78.3 157.0 L79.3 159.0 L80.3 158.7 L81.3 157.6 L82.3 158.9 L83.3 158.0 L84.3 156.4 L85.3 157.6 L86.3 156.5 L87.3 157.8 L88.3 158.0 L89.3 157.1 L90.3 158.2 L91.3 158.3 L92.3 156.8 L93.3 157.9 L94.3 157.3 L95.3 157.1 L96.3 158.5 L97.3 156.6 L98.3 156.8 L99.3 156.9 L100.3 157.3 L101.3 157.4 L102.3 156.0 L103.3 157.6 L104.3 157.8 L105.3 157.9 L106.3 156.3 L107.3 155.6 L108.3 155.0 L109.3 155.8 L110.3 155.3 L111.3 155.0 L112.3 154.3 L113.3 152.8 L114.3 153.9 L115.3 153.7 L116.3 153.2 L117.3 152.1 L118.3 152.6 L119.3 152.3 L120.3 151.2 L121.3 152.1 L122.3 151.2 L123.3 151.0 L124.3 150.8 L125.3 149.9 L126.3 149.6 L127.3 149.6 L128.3 149.4 L129.3 149.0 L130.3 147.8 L131.3 148.0 L132.3 147.8 L133.3 145.4 L134.3 145.6 L135.3 145.3 L136.3 144.7 L137.3 145.5 L138.3 144.4 L139.3 142.7 L140.3 142.1 L141.3 140.4 L142.3 140.0 L143.3 140.9 L144.3 137.8 L145.3 138.6 L146.3 136.6 L147.3 135.8 L148.3 134.7 L149.3 134.9 L150.3 132.4 L151.3 131.1 L152.3 130.0 L153.3 125.9 L154.3 127.3 L155.3 122.8 L156.3 121.4 L157.3 120.3 L158.3 116.4 L159.3 113.3 L160.3 112.5 L161.3 107.8 L162.3 104.2 L163.3 98.8 L164.3 92.9 L165.3 88.9 L166.3 80.4 L167.3 74.5 L168.3 67.1 L169.3 66.8 L170.3 70.9 L171.3 77.8 L172.3 83.6 L173.3 90.1 L174.3 98.6 L175.3 104.8 L176.3 111.9 L177.3 116.4 L178.3 120.5 L179.3 124.7 L180.3 129.1 L181.3 131.9 L182.3 133.5 L183.3 135.4 L184.3 138.7 L185.3 139.7 L186.3 140.1 L187.3 139.9 L188.3 139.7 L189.3 141.1 L190.3 138.5 L191.3 139.9 L192.3 136.7 L193.3 135.1 L194.3 136.7 L195.3 134.1 L196.3 134.3 L197.3 132.7 L198.3 131.4 L199.3 131.4 L200.3 129.6 L201.3 129.3 L202.3 128.0 L203.3 126.0 L204.3 127.1 L205.3 126.0 L206.3 126.2 L207.3 126.9 L208.3 126.3 L209.3 128.8 L210.3 130.1 L211.3 132.5 L212.3 133.1 L213.3 134.1 L214.3 134.6 L215.3 136.1 L216.3 135.7 L217.3 137.3 L218.3 137.0 L219.3 137.1 L220.3 137.6 L221.3 138.1 L222.3 138.1 L223.3 137.1 L224.3 139.1 L225.3 138.3 L226.3 138.6 L227.3 138.5 L228.3 137.9 L229.3 138.8 L230.3 138.4 L231.3 138.1 L232.3 138.9 L233.3 139.3 L234.3 139.2 L235.3 138.9 L236.3 138.3 L237.3 138.5 L238.3 138.6 L239.3 137.6 L240.3 139.2 L241.3 138.6 L242.3 137.5 L243.3 139.5 L244.3 139.8 L245.3 137.3 L246.3 138.0 L247.3 137.4 L248.3 138.5 L249.3 136.8 L250.3 138.1 L251.3 137.9 L252.3 138.3 L253.3 135.9 L254.3 136.6 L255.3 136.9 L256.3 137.6 L257.3 136.9 L258.3 137.2 L259.3 136.8 L260.3 135.7 L261.3 136.1 L262.3 135.7 L263.3 135.6 L264.3 135.0 L265.3 136.0 L266.3 135.4 L267.3 133.5 L268.3 135.2 L269.3 133.9 L270.3 132.8 L271.3 134.4 L272.3 133.1 L273.3 132.9 L274.3 132.1 L275.3 131.6 L276.3 129.5 L277.3 130.3 L278.3 128.0 L279.3 127.2 L280.3 125.7 L281.3 123.5 L282.3 121.8 L283.3 121.2 L284.3 121.0 L285.3 118.4 L286.3 117.4 L287.3 117.2 L288.3 116.3 L289.3 117.7 L290.3 117.2 L291.3 119.2 L292.3 118.1 L293.3 120.3 L294.3 119.1 L295.3 120.6 L296.3 120.5 L297.3 121.9 L298.3 122.7 L299.3 124.0 L300.3 125.1 L301.3 124.2 L302.3 123.4 L303.3 124.5 L304.3 124.5 L305.3 124.3 L306.3 125.4 L307.3 125.6 L308.3 124.3 L309.3 124.3 L310.3 123.0 L311.3 124.5 L312.3 125.6 L313.3 124.3 L314.3 125.7 L315.3 125.5 L316.3 125.5 L317.3 125.2 L318.3 124.1 L319.3 124.1 L320.3 123.2 L321.3 121.8 L322.3 120.6 L323.3 120.7 L324.3 120.0 L325.3 117.5 L326.3 117.6 L327.3 116.0 L328.3 116.6 L329.3 113.6 L330.3 112.2 L331.3 110.9 L332.3 111.3 L333.3 108.7 L334.3 108.8 L335.3 106.5 L336.3 106.3 L337.3 104.5 L338.3 101.2 L339.3 94.9 L340.3 90.5 L341.3 84.1 L342.3 82.2 L343.3 73.8 L344.3 68.1 L345.3 62.8 L346.3 57.2 L347.3 49.3 L348.3 42.2 L349.3 35.5 L350.3 29.7 L351.3 29.9 L352.3 31.1 L353.3 33.5 L354.3 38.4 L355.3 45.2 L356.3 50.1 L357.3 52.1 L358.3 56.2 L359.3 59.1 L360.3 63.1 L361.3 64.4 L362.3 67.9 L363.3 73.1 L364.3 75.6 L365.3 79.1 L366.3 81.6 L367.3 84.5 L368.3 86.3 L369.3 87.9 L370.3 90.1 L371.3 90.7 L372.3 93.4 L373.3 92.6 L374.3 93.9 L375.3 95.7 L376.3 95.3 L377.3 96.6 L378.3 96.9 L379.3 96.2 L380.3 95.0 L381.3 96.3 L382.3 94.8 L383.3 93.4 L384.3 95.3 L385.3 93.8 L386.3 94.4 L387.3 95.6 L388.3 96.0 L389.3 98.7 L390.3 99.3 L391.3 102.4 L392.3 105.9 L393.3 110.9 L394.3 113.2 L395.3 117.0 L396.3 118.5 L397.3 121.6 L398.3 121.9 L399.3 125.2 L400.3 127.2 L401.3 127.2 L402.3 126.4 L403.3 126.9 L404.3 128.8 L405.3 129.5 L406.3 128.4 L407.3 130.0 L408.3 128.0 L409.3 129.5 L410.3 129.4 L411.3 130.1 L412.3 128.2 L413.3 130.2 L414.3 129.6 L415.3 128.9 L416.3 129.3 L417.3 129.5 L418.3 129.9 L419.3 129.0 L420.3 129.0 L421.3 129.7 L422.3 129.6 L423.3 130.0 L424.3 130.2 L425.3 128.1 L426.3 129.3 L427.3 129.5 L428.3 129.3 L429.3 128.4 L430.3 129.6 L431.3 130.3 L432.3 128.8 L433.3 128.2 L434.3 129.3 L435.3 128.6 L436.3 128.6 L437.3 128.6 L438.3 128.0 L439.3 128.3 L440.3 127.7 L441.3 126.7 L442.3 128.9 L443.3 128.3 L444.3 128.0 L445.3 129.0 L446.3 127.9 L447.3 128.9 L448.3 128.8 L449.3 128.2 L450.3 127.6 L451.3 129.2 L452.3 129.2 L453.3 130.0 L454.3 128.2 L455.3 129.4 L456.3 129.8 L457.3 129.9 L458.3 129.7 L459.3 129.8 L460.3 127.7 L461.3 129.2 L462.3 128.8 L463.3 128.1 L464.3 129.2 L465.3 128.7 L466.3 128.0 L467.3 127.7 L468.3 128.8 L469.3 126.5 L470.3 128.1 L471.3 127.2 L472.3 127.9 L473.3 129.0 L474.3 128.1 L475.3 127.0 L476.3 128.0 L477.3 128.0 L478.3 127.0 L479.3 127.1 L480.3 125.2 L481.3 124.8 L482.3 123.4 L483.3 122.2 L484.3 121.6 L485.3 120.0 L486.3 119.6 L487.3 120.4 L488.3 118.4 L489.3 116.8 L490.3 117.3 L491.3 116.1 L492.3 113.3 L493.3 112.9 L494.3 114.3 L495.3 112.6 L496.3 112.4 L497.3 111.5 L498.3 110.8 L499.3 112.2 L500.3 110.6 L501.3 111.5 L502.3 112.4 L503.3 111.7 L504.3 111.9 L505.3 113.8 L506.3 115.2 L507.3 116.0 L508.3 118.0 L509.3 118.3 L510.3 119.6 L511.3 122.3 L512.3 123.3 L513.3 125.9 L514.3 127.9 L515.3 129.5 L516.3 131.7 L517.3 130.3 L518.3 131.4 L519.3 132.0 L520.3 132.2 L521.3 135.1 L522.3 133.5 L523.3 134.4 L524.3 134.9 L525.3 137.3 L526.3 135.5 L527.3 135.5 L528.3 137.2 L529.3 136.0 L530.3 135.1 L531.3 137.7 L532.3 137.7 L533.3 136.0 L534.3 136.3 L535.3 137.3 L536.3 136.7 L537.3 136.4 L538.3 136.7 L539.3 139.1 L540.3 138.6 L541.3 137.0 L542.3 137.8 L543.3 138.1 L544.3 137.8 L545.3 138.1 L546.3 139.6 L547.3 137.8 L548.3 137.8 L549.3 138.5 L550.3 138.1 L551.3 138.3 L552.3 138.4 L553.3 138.1 L554.3 139.9 L555.3 138.6 L556.3 140.2 L557.3 138.6 L558.3 138.7 L559.3 139.7 L560.3 139.4 L561.3 140.3 L562.3 140.3 L563.3 141.7 L564.3 137.7 L565.3 139.3 L566.3 140.2 L567.3 140.1 L568.3 140.3 L569.3 142.5 L570.3 138.8 L571.3 141.2" stroke="#ff00ff" stroke-width="1.9" fill="none" stroke-linejoin="round"/>
<path d="M66.3 186.0 L67.3 186.2 L68.3 187.0 L69.3 186.1 L70.3 186.8 L71.3 187.2 L72.3 187.1 L73.3 184.7 L74.3 185.7 L75.3 185.1 L76.3 185.5 L77.3 186.0 L78.3 187.8 L79.3 185.7 L80.3 185.9 L81.3 186.0 L82.3 187.3 L83.3 185.7 L84.3 186.5 L85.3 186.8 L86.3 186.6 L87.3 184.5 L88.3 185.0 L89.3 186.5 L90.3 184.5 L91.3 185.5 L92.3 184.4 L93.3 185.7 L94.3 185.2 L95.3 183.9 L96.3 184.7 L97.3 183.9 L98.3 184.0 L99.3 185.2 L100.3 184.3 L101.3 184.1 L102.3 184.8 L103.3 183.5 L104.3 184.3 L105.3 183.4 L106.3 183.1 L107.3 182.4 L108.3 181.8 L109.3 181.4 L110.3 181.3 L111.3 182.2 L112.3 181.8 L113.3 180.6 L114.3 182.0 L115.3 180.3 L116.3 180.2 L117.3 179.1 L118.3 179.2 L119.3 180.2 L120.3 179.6 L121.3 178.4 L122.3 179.4 L123.3 178.1 L124.3 177.8 L125.3 178.1 L126.3 177.1 L127.3 176.0 L128.3 174.9 L129.3 176.1 L130.3 172.6 L131.3 173.3 L132.3 171.7 L133.3 171.8 L134.3 172.1 L135.3 170.3 L136.3 169.4 L137.3 168.7 L138.3 169.3 L139.3 167.9 L140.3 165.9 L141.3 163.9 L142.3 162.7 L143.3 161.7 L144.3 159.6 L145.3 157.9 L146.3 155.4 L147.3 153.3 L148.3 151.6 L149.3 150.7 L150.3 147.7 L151.3 148.0 L152.3 144.0 L153.3 141.6 L154.3 139.5 L155.3 135.6 L156.3 133.4 L157.3 132.4 L158.3 131.3 L159.3 129.5 L160.3 128.2 L161.3 125.0 L162.3 120.7 L163.3 116.3 L164.3 111.1 L165.3 107.3 L166.3 103.1 L167.3 99.7 L168.3 98.0 L169.3 95.0 L170.3 99.1 L171.3 103.6 L172.3 107.4 L173.3 114.2 L174.3 119.5 L175.3 125.4 L176.3 133.7 L177.3 140.3 L178.3 145.7 L179.3 149.5 L180.3 154.4 L181.3 157.8 L182.3 162.0 L183.3 163.1 L184.3 164.7 L185.3 164.3 L186.3 165.6 L187.3 165.4 L188.3 166.0 L189.3 167.7 L190.3 167.0 L191.3 167.1 L192.3 167.3 L193.3 165.1 L194.3 166.0 L195.3 162.8 L196.3 162.1 L197.3 163.0 L198.3 159.0 L199.3 160.5 L200.3 158.3 L201.3 157.4 L202.3 155.2 L203.3 155.3 L204.3 153.6 L205.3 154.9 L206.3 153.9 L207.3 153.9 L208.3 154.8 L209.3 156.2 L210.3 158.5 L211.3 159.5 L212.3 160.3 L213.3 161.7 L214.3 162.9 L215.3 165.3 L216.3 165.7 L217.3 164.7 L218.3 164.4 L219.3 165.7 L220.3 165.4 L221.3 166.3 L222.3 165.9 L223.3 166.4 L224.3 166.8 L225.3 167.0 L226.3 166.2 L227.3 166.9 L228.3 166.0 L229.3 165.6 L230.3 166.7 L231.3 167.5 L232.3 167.7 L233.3 166.7 L234.3 165.5 L235.3 167.0 L236.3 166.6 L237.3 167.3 L238.3 167.7 L239.3 166.5 L240.3 166.3 L241.3 166.6 L242.3 166.4 L243.3 166.2 L244.3 167.1 L245.3 166.3 L246.3 166.7 L247.3 166.6 L248.3 166.3 L249.3 167.2 L250.3 166.3 L251.3 166.5 L252.3 167.1 L253.3 166.3 L254.3 165.2 L255.3 165.8 L256.3 165.7 L257.3 166.4 L258.3 167.0 L259.3 165.7 L260.3 165.3 L261.3 166.3 L262.3 164.5 L263.3 165.0 L264.3 165.0 L265.3 164.3 L266.3 164.0 L267.3 164.0 L268.3 164.8 L269.3 163.8 L270.3 162.6 L271.3 163.0 L272.3 162.9 L273.3 162.8 L274.3 161.1 L275.3 159.6 L276.3 159.3 L277.3 157.8 L278.3 156.1 L279.3 154.4 L280.3 153.9 L281.3 153.6 L282.3 150.9 L283.3 149.3 L284.3 149.7 L285.3 147.0 L286.3 146.2 L287.3 146.3 L288.3 145.8 L289.3 145.9 L290.3 146.2 L291.3 146.9 L292.3 147.0 L293.3 147.1 L294.3 146.4 L295.3 150.3 L296.3 150.8 L297.3 151.5 L298.3 151.8 L299.3 151.8 L300.3 153.3 L301.3 153.2 L302.3 152.5 L303.3 154.4 L304.3 152.7 L305.3 153.6 L306.3 155.4 L307.3 153.6 L308.3 154.4 L309.3 155.2 L310.3 154.5 L311.3 153.5 L312.3 154.3 L313.3 154.6 L314.3 153.6 L315.3 155.8 L316.3 155.0 L317.3 155.0 L318.3 154.3 L319.3 153.7 L320.3 152.3 L321.3 150.5 L322.3 150.9 L323.3 149.2 L324.3 149.0 L325.3 145.6 L326.3 145.1 L327.3 145.1 L328.3 140.6 L329.3 138.4 L330.3 136.8 L331.3 135.0 L332.3 129.7 L333.3 127.3 L334.3 123.7 L335.3 119.9 L336.3 116.6 L337.3 114.2 L338.3 109.6 L339.3 104.3 L340.3 100.4 L341.3 96.3 L342.3 90.6 L343.3 86.7 L344.3 82.7 L345.3 77.5 L346.3 76.6 L347.3 69.8 L348.3 66.9 L349.3 63.1 L350.3 60.0 L351.3 60.0 L352.3 59.5 L353.3 60.8 L354.3 65.1 L355.3 67.6 L356.3 69.8 L357.3 73.4 L358.3 79.6 L359.3 83.2 L360.3 87.0 L361.3 93.1 L362.3 95.5 L363.3 99.7 L364.3 103.0 L365.3 105.0 L366.3 109.2 L367.3 113.1 L368.3 112.4 L369.3 113.7 L370.3 114.7 L371.3 116.6 L372.3 118.5 L373.3 120.2 L374.3 120.6 L375.3 121.9 L376.3 122.1 L377.3 122.7 L378.3 122.9 L379.3 123.0 L380.3 121.7 L381.3 121.5 L382.3 122.2 L383.3 121.3 L384.3 121.3 L385.3 121.7 L386.3 121.5 L387.3 122.3 L388.3 121.3 L389.3 124.7 L390.3 125.6 L391.3 128.9 L392.3 129.9 L393.3 133.1 L394.3 135.4 L395.3 140.2 L396.3 141.3 L397.3 146.0 L398.3 147.2 L399.3 149.1 L400.3 151.9 L401.3 154.2 L402.3 154.9 L403.3 156.7 L404.3 157.4 L405.3 157.8 L406.3 159.2 L407.3 158.4 L408.3 159.3 L409.3 158.0 L410.3 158.9 L411.3 159.9 L412.3 159.0 L413.3 157.9 L414.3 160.2 L415.3 160.2 L416.3 159.6 L417.3 160.0 L418.3 159.7 L419.3 160.3 L420.3 160.9 L421.3 160.3 L422.3 160.0 L423.3 159.7 L424.3 159.9 L425.3 159.6 L426.3 160.7 L427.3 159.1 L428.3 159.3 L429.3 159.9 L430.3 159.8 L431.3 159.6 L432.3 159.0 L433.3 159.3 L434.3 158.0 L435.3 157.8 L436.3 157.8 L437.3 158.9 L438.3 159.6 L439.3 158.1 L440.3 157.9 L441.3 158.0 L442.3 159.5 L443.3 158.3 L444.3 158.1 L445.3 157.6 L446.3 158.4 L447.3 159.0 L448.3 158.2 L449.3 157.6 L450.3 159.2 L451.3 158.3 L452.3 159.7 L453.3 157.7 L454.3 158.4 L455.3 158.8 L456.3 157.3 L457.3 158.7 L458.3 159.1 L459.3 158.5 L460.3 158.9 L461.3 158.6 L462.3 157.8 L463.3 158.9 L464.3 157.7 L465.3 157.9 L466.3 157.5 L467.3 158.4 L468.3 157.4 L469.3 157.2 L470.3 155.8 L471.3 157.0 L472.3 157.8 L473.3 155.3 L474.3 156.9 L475.3 156.4 L476.3 154.9 L477.3 155.7 L478.3 156.4 L479.3 155.2 L480.3 154.8 L481.3 154.7 L482.3 152.8 L483.3 152.8 L484.3 150.2 L485.3 149.6 L486.3 150.2 L487.3 148.7 L488.3 146.6 L489.3 143.0 L490.3 142.5 L491.3 141.0 L492.3 142.9 L493.3 140.7 L494.3 141.1 L495.3 142.1 L496.3 143.3 L497.3 143.0 L498.3 143.3 L499.3 143.1 L500.3 141.7 L501.3 139.0 L502.3 138.5 L503.3 140.7 L504.3 140.5 L505.3 143.4 L506.3 145.2 L507.3 147.1 L508.3 148.3 L509.3 151.1 L510.3 151.6 L511.3 155.5 L512.3 156.2 L513.3 157.9 L514.3 158.4 L515.3 158.9 L516.3 159.8 L517.3 160.1 L518.3 160.3 L519.3 160.6 L520.3 161.9 L521.3 163.0 L522.3 163.8 L523.3 163.2 L524.3 162.9 L525.3 163.7 L526.3 164.7 L527.3 163.8 L528.3 164.8 L529.3 164.6 L530.3 164.7 L531.3 164.5 L532.3 165.7 L533.3 164.9 L534.3 165.1 L535.3 166.4 L536.3 167.2 L537.3 167.5 L538.3 167.7 L539.3 167.1 L540.3 167.5 L541.3 168.7 L542.3 169.7 L543.3 166.4 L544.3 169.5 L545.3 169.0 L546.3 169.0 L547.3 168.6 L548.3 168.8 L549.3 168.5 L550.3 169.7 L551.3 168.9 L552.3 169.5 L553.3 168.6 L554.3 170.7 L555.3 170.4 L556.3 169.1 L557.3 170.3 L558.3 169.8 L559.3 169.5 L560.3 170.2 L561.3 170.8 L562.3 171.4 L563.3 170.5 L564.3 171.2 L565.3 170.9 L566.3 170.9 L567.3 171.2 L568.3 169.4 L569.3 170.2 L570.3 171.6 L571.3 169.5" stroke="#808000" stroke-width="1.9" fill="none" stroke-linejoin="round"/>
<path d="M66.3 217.4 L67.3 219.5 L68.3 217.3 L69.3 218.1 L70.3 218.2 L71.3 217.7 L72.3 218.6 L73.3 218.5 L74.3 217.3 L75.3 219.0 L76.3 217.1 L77.3 217.3 L78.3 217.4 L79.3 217.6 L80.3 216.6 L81.3 217.5 L82.3 215.6 L83.3 216.8 L84.3 216.4 L85.3 216.5 L86.3 216.9 L87.3 217.0 L88.3 216.2 L89.3 216.6 L90.3 215.4 L91.3 216.1 L92.3 216.9 L93.3 215.6 L94.3 215.7 L95.3 215.8 L96.3 216.2 L97.3 215.7 L98.3 215.2 L99.3 214.4 L100.3 215.1 L101.3 212.6 L102.3 214.9 L103.3 213.8 L104.3 214.7 L105.3 214.0 L106.3 214.8 L107.3 213.2 L108.3 212.0 L109.3 213.3 L110.3 212.7 L111.3 212.8 L112.3 213.5 L113.3 211.7 L114.3 212.7 L115.3 212.6 L116.3 212.5 L117.3 209.9 L118.3 211.2 L119.3 210.3 L120.3 210.3 L121.3 209.6 L122.3 209.6 L123.3 210.1 L124.3 210.3 L125.3 209.1 L126.3 207.3 L127.3 208.6 L128.3 206.2 L129.3 206.2 L130.3 206.6 L131.3 204.7 L132.3 204.9 L133.3 203.3 L134.3 201.8 L135.3 201.9 L136.3 200.4 L137.3 201.1 L138.3 200.1 L139.3 198.8 L140.3 195.6 L141.3 196.2 L142.3 193.3 L143.3 191.5 L144.3 189.2 L145.3 186.4 L146.3 184.6 L147.3 182.8 L148.3 180.8 L149.3 177.6 L150.3 174.4 L151.3 170.9 L152.3 167.9 L153.3 166.2 L154.3 162.5 L155.3 159.2 L156.3 154.5 L157.3 151.6 L158.3 152.1 L159.3 152.3 L160.3 153.3 L161.3 153.3 L162.3 153.0 L163.3 151.3 L164.3 149.5 L165.3 145.4 L166.3 144.4 L167.3 142.4 L168.3 142.6 L169.3 142.0 L170.3 146.1 L171.3 152.4 L172.3 157.0 L173.3 159.3 L174.3 164.2 L175.3 168.9 L176.3 172.6 L177.3 177.1 L178.3 181.0 L179.3 185.3 L180.3 190.3 L181.3 193.2 L182.3 195.9 L183.3 195.4 L184.3 197.6 L185.3 198.3 L186.3 199.3 L187.3 200.0 L188.3 200.0 L189.3 197.4 L190.3 199.1 L191.3 197.7 L192.3 196.7 L193.3 195.2 L194.3 194.7 L195.3 193.2 L196.3 190.6 L197.3 190.7 L198.3 190.3 L199.3 189.6 L200.3 188.9 L201.3 189.0 L202.3 187.2 L203.3 187.0 L204.3 186.5 L205.3 187.1 L206.3 187.6 L207.3 187.0 L208.3 188.5 L209.3 188.4 L210.3 190.6 L211.3 188.6 L212.3 191.4 L213.3 193.8 L214.3 194.3 L215.3 195.5 L216.3 197.2 L217.3 199.4 L218.3 199.2 L219.3 200.5 L220.3 199.7 L221.3 199.2 L222.3 199.3 L223.3 200.0 L224.3 200.4 L225.3 199.0 L226.3 198.7 L227.3 198.6 L228.3 199.8 L229.3 200.8 L230.3 199.0 L231.3 199.9 L232.3 199.0 L233.3 200.0 L234.3 198.1 L235.3 199.6 L236.3 198.2 L237.3 198.4 L238.3 199.3 L239.3 198.8 L240.3 198.8 L241.3 199.2 L242.3 198.9 L243.3 199.8 L244.3 199.2 L245.3 197.9 L246.3 198.4 L247.3 198.0 L248.3 198.0 L249.3 199.6 L250.3 197.5 L251.3 198.9 L252.3 199.0 L253.3 199.8 L254.3 197.6 L255.3 197.6 L256.3 197.5 L257.3 196.8 L258.3 198.2 L259.3 198.2 L260.3 194.8 L261.3 196.1 L262.3 197.0 L263.3 195.1 L264.3 195.1 L265.3 195.3 L266.3 195.0 L267.3 194.6 L268.3 194.3 L269.3 195.3 L270.3 191.6 L271.3 192.3 L272.3 191.2 L273.3 191.5 L274.3 190.2 L275.3 190.1 L276.3 188.9 L277.3 189.8 L278.3 186.3 L279.3 186.0 L280.3 185.8 L281.3 183.6 L282.3 182.7 L283.3 180.2 L284.3 180.9 L285.3 179.6 L286.3 179.9 L287.3 178.8 L288.3 179.1 L289.3 178.8 L290.3 180.7 L291.3 178.2 L292.3 180.0 L293.3 180.3 L294.3 181.6 L295.3 181.6 L296.3 181.3 L297.3 183.3 L298.3 182.3 L299.3 185.1 L300.3 184.7 L301.3 184.6 L302.3 185.0 L303.3 186.0 L304.3 184.5 L305.3 187.2 L306.3 185.6 L307.3 187.4 L308.3 186.5 L309.3 188.0 L310.3 185.7 L311.3 187.4 L312.3 186.8 L313.3 186.4 L314.3 187.6 L315.3 186.8 L316.3 186.4 L317.3 186.6 L318.3 185.9 L319.3 185.9 L320.3 185.4 L321.3 185.5 L322.3 183.8 L323.3 182.4 L324.3 182.7 L325.3 180.9 L326.3 179.4 L327.3 178.2 L328.3 179.3 L329.3 176.5 L330.3 176.3 L331.3 172.7 L332.3 170.8 L333.3 170.9 L334.3 167.3 L335.3 165.2 L336.3 162.8 L337.3 159.8 L338.3 158.4 L339.3 153.3 L340.3 151.0 L341.3 145.6 L342.3 144.2 L343.3 138.6 L344.3 134.9 L345.3 129.0 L346.3 126.7 L347.3 121.6 L348.3 117.0 L349.3 113.0 L350.3 111.0 L351.3 108.3 L352.3 107.5 L353.3 108.5 L354.3 110.5 L355.3 113.5 L356.3 117.1 L357.3 120.1 L358.3 124.0 L359.3 126.4 L360.3 131.1 L361.3 134.6 L362.3 136.9 L363.3 141.3 L364.3 142.3 L365.3 145.6 L366.3 149.3 L367.3 151.3 L368.3 152.8 L369.3 155.3 L370.3 155.5 L371.3 156.9 L372.3 156.9 L373.3 156.3 L374.3 157.1 L375.3 158.1 L376.3 157.7 L377.3 157.6 L378.3 156.8 L379.3 156.4 L380.3 156.0 L381.3 156.9 L382.3 154.8 L383.3 155.5 L384.3 156.1 L385.3 153.7 L386.3 155.4 L387.3 154.9 L388.3 156.3 L389.3 157.6 L390.3 157.5 L391.3 158.3 L392.3 161.1 L393.3 164.5 L394.3 167.5 L395.3 170.7 L396.3 175.4 L397.3 176.8 L398.3 179.1 L399.3 182.9 L400.3 187.0 L401.3 187.1 L402.3 189.1 L403.3 189.3 L404.3 189.9 L405.3 189.7 L406.3 191.0 L407.3 190.5 L408.3 190.6 L409.3 192.1 L410.3 190.4 L411.3 192.4 L412.3 191.6 L413.3 191.2 L414.3 191.9 L415.3 191.8 L416.3 192.3 L417.3 191.9 L418.3 193.6 L419.3 193.0 L420.3 193.0 L421.3 191.2 L422.3 191.9 L423.3 193.1 L424.3 192.6 L425.3 192.1 L426.3 192.0 L427.3 192.9 L428.3 190.6 L429.3 191.4 L430.3 191.0 L431.3 192.9 L432.3 190.9 L433.3 191.8 L434.3 193.0 L435.3 191.7 L436.3 192.1 L437.3 191.9 L438.3 192.4 L439.3 193.5 L440.3 190.9 L441.3 191.8 L442.3 193.1 L443.3 193.6 L444.3 191.6 L445.3 192.8 L446.3 192.3 L447.3 192.3 L448.3 190.8 L449.3 190.6 L450.3 192.0 L451.3 191.9 L452.3 192.0 L453.3 191.2 L454.3 193.2 L455.3 192.0 L456.3 194.2 L457.3 192.0 L458.3 192.4 L459.3 192.7 L460.3 191.8 L461.3 191.2 L462.3 191.5 L463.3 191.8 L464.3 191.3 L465.3 193.1 L466.3 191.1 L467.3 191.9 L468.3 191.7 L469.3 191.1 L470.3 189.9 L471.3 190.9 L472.3 191.1 L473.3 190.3 L474.3 189.9 L475.3 188.0 L476.3 188.6 L477.3 189.0 L478.3 189.0 L479.3 189.0 L480.3 187.7 L481.3 187.5 L482.3 185.9 L483.3 186.4 L484.3 185.7 L485.3 184.2 L486.3 184.1 L487.3 181.7 L488.3 179.7 L489.3 177.9 L490.3 177.8 L491.3 173.6 L492.3 174.0 L493.3 173.3 L494.3 173.8 L495.3 172.8 L496.3 174.8 L497.3 175.2 L498.3 174.9 L499.3 175.4 L500.3 176.4 L501.3 177.7 L502.3 176.5 L503.3 179.6 L504.3 179.5 L505.3 181.8 L506.3 182.1 L507.3 185.8 L508.3 185.9 L509.3 188.2 L510.3 187.6 L511.3 188.8 L512.3 191.3 L513.3 192.1 L514.3 193.0 L515.3 194.7 L516.3 195.0 L517.3 195.2 L518.3 194.6 L519.3 194.8 L520.3 197.5 L521.3 197.8 L522.3 197.1 L523.3 198.5 L524.3 198.3 L525.3 198.8 L526.3 199.8 L527.3 198.2 L528.3 199.9 L529.3 200.3 L530.3 200.0 L531.3 200.5 L532.3 199.7 L533.3 200.9 L534.3 201.4 L535.3 201.7 L536.3 200.7 L537.3 202.0 L538.3 201.7 L539.3 202.1 L540.3 201.7 L541.3 202.2 L542.3 202.0 L543.3 203.7 L544.3 201.7 L545.3 202.8 L546.3 202.0 L547.3 200.9 L548.3 202.4 L549.3 203.0 L550.3 202.7 L551.3 202.8 L552.3 201.6 L553.3 202.5 L554.3 201.2 L555.3 203.7 L556.3 203.5 L557.3 201.6 L558.3 202.2 L559.3 201.6 L560.3 202.0 L561.3 202.4 L562.3 201.9 L563.3 202.6 L564.3 203.6 L565.3 203.1 L566.3 204.1 L567.3 203.7 L568.3 204.1 L569.3 203.3 L570.3 205.3 L571.3 203.9" stroke="#000080" stroke-width="1.9" fill="none" stroke-linejoin="round"/>
<path d="M66.3 249.6 L67.3 248.9 L68.3 250.3 L69.3 249.2 L70.3 250.5 L71.3 251.5 L72.3 250.4 L73.3 248.4 L74.3 250.9 L75.3 250.3 L76.3 250.7 L77.3 250.5 L78.3 251.1 L79.3 251.0 L80.3 250.2 L81.3 249.3 L82.3 250.2 L83.3 250.8 L84.3 248.8 L85.3 250.4 L86.3 248.9 L87.3 251.0 L88.3 251.5 L89.3 250.7 L90.3 249.6 L91.3 250.4 L92.3 250.6 L93.3 250.7 L94.3 250.3 L95.3 249.9 L96.3 248.1 L97.3 248.6 L98.3 248.8 L99.3 248.2 L100.3 246.5 L101.3 247.6 L102.3 246.9 L103.3 247.4 L104.3 247.3 L105.3 245.7 L106.3 245.9 L107.3 246.4 L108.3 245.2 L109.3 245.7 L110.3 244.7 L111.3 244.5 L112.3 245.4 L113.3 244.3 L114.3 243.7 L115.3 244.9 L116.3 243.1 L117.3 242.9 L118.3 242.6 L119.3 244.5 L120.3 242.2 L121.3 242.0 L122.3 240.6 L123.3 241.1 L124.3 240.9 L125.3 238.7 L126.3 239.4 L127.3 239.9 L128.3 239.5 L129.3 237.8 L130.3 238.8 L131.3 236.0 L132.3 236.7 L133.3 235.7 L134.3 233.8 L135.3 234.7 L136.3 232.1 L137.3 231.8 L138.3 231.3 L139.3 229.5 L140.3 230.2 L141.3 227.6 L142.3 225.5 L143.3 224.8 L144.3 222.7 L145.3 219.8 L146.3 218.0 L147.3 216.7 L148.3 213.5 L149.3 208.0 L150.3 206.1 L151.3 202.5 L152.3 199.7 L153.3 196.2 L154.3 193.8 L155.3 192.5 L156.3 191.2 L157.3 191.5 L158.3 191.3 L159.3 191.7 L160.3 191.7 L161.3 192.5 L162.3 193.0 L163.3 193.3 L164.3 193.6 L165.3 195.8 L166.3 195.8 L167.3 196.0 L168.3 195.7 L169.3 197.6 L170.3 198.1 L171.3 200.6 L172.3 202.9 L173.3 207.7 L174.3 209.0 L175.3 211.2 L176.3 215.3 L177.3 218.0 L178.3 220.8 L179.3 220.3 L180.3 223.8 L181.3 225.7 L182.3 226.5 L183.3 229.2 L184.3 230.9 L185.3 232.3 L186.3 232.9 L187.3 232.5 L188.3 233.4 L189.3 231.9 L190.3 228.8 L191.3 229.7 L192.3 228.3 L193.3 228.0 L194.3 226.4 L195.3 225.7 L196.3 226.3 L197.3 223.9 L198.3 222.7 L199.3 223.2 L200.3 223.0 L201.3 222.0 L202.3 221.9 L203.3 221.6 L204.3 221.5 L205.3 222.6 L206.3 223.2 L207.3 225.9 L208.3 225.8 L209.3 228.1 L210.3 227.8 L211.3 228.0 L212.3 229.5 L213.3 229.8 L214.3 230.9 L215.3 228.6 L216.3 230.1 L217.3 230.9 L218.3 230.3 L219.3 231.1 L220.3 230.9 L221.3 232.4 L222.3 232.3 L223.3 229.9 L224.3 230.3 L225.3 230.9 L226.3 231.4 L227.3 231.3 L228.3 231.0 L229.3 231.8 L230.3 231.9 L231.3 231.2 L232.3 230.8 L233.3 231.0 L234.3 230.2 L235.3 231.3 L236.3 231.2 L237.3 229.7 L238.3 231.4 L239.3 230.1 L240.3 230.7 L241.3 229.9 L242.3 229.6 L243.3 230.2 L244.3 228.8 L245.3 229.2 L246.3 228.4 L247.3 229.5 L248.3 228.9 L249.3 228.7 L250.3 228.4 L251.3 229.1 L252.3 228.7 L253.3 228.2 L254.3 227.9 L255.3 229.4 L256.3 229.1 L257.3 226.9 L258.3 228.5 L259.3 227.8 L260.3 227.4 L261.3 227.3 L262.3 225.8 L263.3 228.5 L264.3 227.9 L265.3 226.1 L266.3 225.9 L267.3 225.7 L268.3 224.7 L269.3 225.3 L270.3 224.4 L271.3 223.1 L272.3 223.0 L273.3 222.3 L274.3 221.8 L275.3 221.4 L276.3 221.5 L277.3 220.0 L278.3 218.1 L279.3 219.4 L280.3 216.8 L281.3 217.3 L282.3 215.6 L283.3 215.3 L284.3 214.0 L285.3 214.8 L286.3 214.4 L287.3 214.7 L288.3 215.2 L289.3 214.6 L290.3 215.6 L291.3 214.0 L292.3 214.3 L293.3 215.6 L294.3 215.8 L295.3 216.5 L296.3 217.1 L297.3 216.5 L298.3 217.0 L299.3 216.8 L300.3 216.9 L301.3 216.9 L302.3 217.1 L303.3 216.7 L304.3 217.1 L305.3 217.9 L306.3 217.8 L307.3 218.4 L308.3 217.2 L309.3 217.4 L310.3 218.0 L311.3 217.1 L312.3 217.1 L313.3 218.3 L314.3 217.7 L315.3 218.6 L316.3 218.1 L317.3 217.7 L318.3 217.3 L319.3 219.0 L320.3 218.1 L321.3 217.5 L322.3 217.0 L323.3 217.2 L324.3 217.5 L325.3 218.1 L326.3 215.7 L327.3 215.7 L328.3 214.5 L329.3 210.5 L330.3 210.7 L331.3 210.8 L332.3 207.2 L333.3 208.0 L334.3 205.7 L335.3 202.9 L336.3 203.9 L337.3 200.6 L338.3 199.8 L339.3 196.6 L340.3 193.6 L341.3 192.6 L342.3 190.7 L343.3 187.9 L344.3 183.6 L345.3 182.5 L346.3 178.5 L347.3 175.8 L348.3 173.9 L349.3 168.7 L350.3 169.1 L351.3 164.4 L352.3 164.3 L353.3 166.2 L354.3 166.3 L355.3 167.5 L356.3 168.3 L357.3 171.1 L358.3 172.3 L359.3 174.4 L360.3 176.8 L361.3 179.5 L362.3 183.8 L363.3 184.8 L364.3 187.8 L365.3 190.3 L366.3 191.8 L367.3 192.4 L368.3 192.0 L369.3 195.6 L370.3 196.9 L371.3 197.1 L372.3 198.8 L373.3 199.0 L374.3 197.1 L375.3 198.2 L376.3 197.7 L377.3 198.9 L378.3 198.1 L379.3 196.8 L380.3 196.5 L381.3 196.1 L382.3 194.3 L383.3 194.1 L384.3 193.7 L385.3 193.1 L386.3 193.0 L387.3 193.5 L388.3 193.0 L389.3 194.4 L390.3 197.6 L391.3 200.1 L392.3 202.4 L393.3 201.6 L394.3 205.5 L395.3 207.4 L396.3 210.7 L397.3 214.1 L398.3 217.5 L399.3 220.1 L400.3 219.5 L401.3 221.7 L402.3 223.1 L403.3 222.5 L404.3 221.3 L405.3 221.8 L406.3 222.0 L407.3 223.5 L408.3 224.1 L409.3 221.9 L410.3 223.2 L411.3 222.6 L412.3 223.3 L413.3 222.7 L414.3 222.1 L415.3 222.5 L416.3 222.5 L417.3 224.2 L418.3 222.5 L419.3 223.6 L420.3 222.6 L421.3 222.8 L422.3 223.5 L423.3 223.0 L424.3 225.0 L425.3 224.6 L426.3 222.9 L427.3 224.2 L428.3 225.1 L429.3 223.1 L430.3 223.8 L431.3 225.4 L432.3 223.7 L433.3 225.0 L434.3 224.5 L435.3 224.8 L436.3 224.0 L437.3 224.8 L438.3 224.6 L439.3 226.4 L440.3 225.6 L441.3 225.2 L442.3 225.2 L443.3 225.8 L444.3 224.0 L445.3 224.5 L446.3 224.6 L447.3 224.7 L448.3 224.0 L449.3 225.7 L450.3 224.9 L451.3 226.2 L452.3 225.2 L453.3 225.0 L454.3 225.6 L455.3 225.6 L456.3 225.1 L457.3 225.7 L458.3 226.2 L459.3 224.9 L460.3 226.2 L461.3 225.0 L462.3 225.7 L463.3 224.9 L464.3 224.5 L465.3 224.9 L466.3 223.7 L467.3 223.2 L468.3 224.2 L469.3 223.9 L470.3 223.0 L471.3 225.3 L472.3 223.8 L473.3 222.7 L474.3 223.4 L475.3 223.2 L476.3 222.2 L477.3 222.1 L478.3 220.5 L479.3 221.7 L480.3 222.4 L481.3 221.3 L482.3 220.5 L483.3 218.5 L484.3 217.4 L485.3 218.1 L486.3 216.7 L487.3 215.1 L488.3 213.6 L489.3 213.0 L490.3 211.2 L491.3 209.0 L492.3 208.2 L493.3 206.5 L494.3 206.8 L495.3 208.4 L496.3 208.0 L497.3 208.3 L498.3 209.8 L499.3 211.3 L500.3 210.5 L501.3 211.7 L502.3 212.6 L503.3 215.6 L504.3 215.6 L505.3 216.3 L506.3 216.4 L507.3 219.6 L508.3 220.9 L509.3 221.7 L510.3 222.5 L511.3 223.8 L512.3 223.8 L513.3 225.3 L514.3 225.8 L515.3 226.0 L516.3 226.9 L517.3 226.4 L518.3 228.9 L519.3 228.3 L520.3 227.9 L521.3 229.8 L522.3 229.9 L523.3 229.4 L524.3 229.1 L525.3 230.3 L526.3 231.0 L527.3 231.4 L528.3 231.9 L529.3 232.1 L530.3 230.6 L531.3 232.1 L532.3 230.9 L533.3 233.3 L534.3 233.1 L535.3 233.8 L536.3 233.3 L537.3 233.5 L538.3 233.3 L539.3 231.9 L540.3 234.0 L541.3 236.3 L542.3 235.6 L543.3 234.6 L544.3 235.2 L545.3 235.5 L546.3 234.8 L547.3 235.4 L548.3 235.8 L549.3 235.2 L550.3 236.0 L551.3 236.7 L552.3 236.5 L553.3 236.1 L554.3 235.9 L555.3 236.6 L556.3 235.7 L557.3 235.7 L558.3 237.2 L559.3 236.0 L560.3 235.4 L561.3 237.1 L562.3 237.0 L563.3 237.4 L564.3 236.5 L565.3 237.5 L566.3 236.5 L567.3 235.9 L568.3 236.5 L569.3 236.9 L570.3 235.9 L571.3 236.6" stroke="#800000" stroke-width="1.9" fill="none" stroke-linejoin="round"/>
<path d="M66.3 277.8 L67.3 277.3 L68.3 277.6 L69.3 277.5 L70.3 276.9 L71.3 277.7 L72.3 277.9 L73.3 275.9 L74.3 276.9 L75.3 277.9 L76.3 277.6 L77.3 275.8 L78.3 277.4 L79.3 278.2 L80.3 277.8 L81.3 277.7 L82.3 277.0 L83.3 277.1 L84.3 276.1 L85.3 276.9 L86.3 278.6 L87.3 276.8 L88.3 276.1 L89.3 277.1 L90.3 275.2 L91.3 278.4 L92.3 277.1 L93.3 276.4 L94.3 276.2 L95.3 275.8 L96.3 276.5 L97.3 276.4 L98.3 275.1 L99.3 276.9 L100.3 275.9 L101.3 275.2 L102.3 276.7 L103.3 276.4 L104.3 275.3 L105.3 275.2 L106.3 276.4 L107.3 275.1 L108.3 275.4 L109.3 276.1 L110.3 274.0 L111.3 273.6 L112.3 273.9 L113.3 273.8 L114.3 274.0 L115.3 274.5 L116.3 273.2 L117.3 274.5 L118.3 273.0 L119.3 271.1 L120.3 272.2 L121.3 272.4 L122.3 272.4 L123.3 270.6 L124.3 270.7 L125.3 272.0 L126.3 270.0 L127.3 268.6 L128.3 267.6 L129.3 267.7 L130.3 267.7 L131.3 265.8 L132.3 266.9 L133.3 264.5 L134.3 262.7 L135.3 263.7 L136.3 262.3 L137.3 261.2 L138.3 261.3 L139.3 258.8 L140.3 258.7 L141.3 256.5 L142.3 256.8 L143.3 254.1 L144.3 252.5 L145.3 251.3 L146.3 248.9 L147.3 247.4 L148.3 244.9 L149.3 243.3 L150.3 239.8 L151.3 235.8 L152.3 233.0 L153.3 229.8 L154.3 226.3 L155.3 225.6 L156.3 223.5 L157.3 224.1 L158.3 224.5 L159.3 226.4 L160.3 226.2 L161.3 228.3 L162.3 229.7 L163.3 229.7 L164.3 228.2 L165.3 229.6 L166.3 230.8 L167.3 231.9 L168.3 233.2 L169.3 234.3 L170.3 235.6 L171.3 239.3 L172.3 241.9 L173.3 243.0 L174.3 246.2 L175.3 248.0 L176.3 250.7 L177.3 252.5 L178.3 255.3 L179.3 255.8 L180.3 258.3 L181.3 260.4 L182.3 260.8 L183.3 260.4 L184.3 261.6 L185.3 261.0 L186.3 260.1 L187.3 260.7 L188.3 260.3 L189.3 260.7 L190.3 259.5 L191.3 259.4 L192.3 258.9 L193.3 256.1 L194.3 257.3 L195.3 255.8 L196.3 254.5 L197.3 254.7 L198.3 254.8 L199.3 253.0 L200.3 252.7 L201.3 253.8 L202.3 253.9 L203.3 254.3 L204.3 253.4 L205.3 253.4 L206.3 254.3 L207.3 255.8 L208.3 256.3 L209.3 258.4 L210.3 260.0 L211.3 259.0 L212.3 261.4 L213.3 259.8 L214.3 260.0 L215.3 259.6 L216.3 261.2 L217.3 260.7 L218.3 260.8 L219.3 258.7 L220.3 260.5 L221.3 261.2 L222.3 259.0 L223.3 262.5 L224.3 261.4 L225.3 262.0 L226.3 261.0 L227.3 261.9 L228.3 262.2 L229.3 263.2 L230.3 260.5 L231.3 262.9 L232.3 260.5 L233.3 261.5 L234.3 261.0 L235.3 261.2 L236.3 259.9 L237.3 261.0 L238.3 260.3 L239.3 261.0 L240.3 261.2 L241.3 261.0 L242.3 260.7 L243.3 261.7 L244.3 260.8 L245.3 260.8 L246.3 261.2 L247.3 260.0 L248.3 260.0 L249.3 260.2 L250.3 259.3 L251.3 260.2 L252.3 258.6 L253.3 258.7 L254.3 258.5 L255.3 258.2 L256.3 258.2 L257.3 257.6 L258.3 255.9 L259.3 258.3 L260.3 256.9 L261.3 257.5 L262.3 255.9 L263.3 256.9 L264.3 255.3 L265.3 257.0 L266.3 255.5 L267.3 255.0 L268.3 252.8 L269.3 252.9 L270.3 253.8 L271.3 253.3 L272.3 252.9 L273.3 252.6 L274.3 253.3 L275.3 251.8 L276.3 251.4 L277.3 250.7 L278.3 250.0 L279.3 250.5 L280.3 249.3 L281.3 248.6 L282.3 248.4 L283.3 247.4 L284.3 247.2 L285.3 246.4 L286.3 244.3 L287.3 244.1 L288.3 245.0 L289.3 243.8 L290.3 244.5 L291.3 243.4 L292.3 242.2 L293.3 242.5 L294.3 243.7 L295.3 243.9 L296.3 246.1 L297.3 245.0 L298.3 245.1 L299.3 245.4 L300.3 243.6 L301.3 245.0 L302.3 245.1 L303.3 246.9 L304.3 245.2 L305.3 245.0 L306.3 246.6 L307.3 246.8 L308.3 247.3 L309.3 247.6 L310.3 247.7 L311.3 247.2 L312.3 247.4 L313.3 249.5 L314.3 247.4 L315.3 248.3 L316.3 247.3 L317.3 246.8 L318.3 248.8 L319.3 248.3 L320.3 249.2 L321.3 249.0 L322.3 248.4 L323.3 247.7 L324.3 249.7 L325.3 248.3 L326.3 249.5 L327.3 247.8 L328.3 247.2 L329.3 245.9 L330.3 244.5 L331.3 242.7 L332.3 243.1 L333.3 239.2 L334.3 237.1 L335.3 236.9 L336.3 234.6 L337.3 234.3 L338.3 231.8 L339.3 231.0 L340.3 228.3 L341.3 225.6 L342.3 223.8 L343.3 222.4 L344.3 219.3 L345.3 217.0 L346.3 215.4 L347.3 213.8 L348.3 212.4 L349.3 209.4 L350.3 207.4 L351.3 204.8 L352.3 205.2 L353.3 205.5 L354.3 204.0 L355.3 205.8 L356.3 207.0 L357.3 209.0 L358.3 210.3 L359.3 211.7 L360.3 212.8 L361.3 215.1 L362.3 217.4 L363.3 220.2 L364.3 221.9 L365.3 223.1 L366.3 224.7 L367.3 225.5 L368.3 228.2 L369.3 228.7 L370.3 230.0 L371.3 230.9 L372.3 231.5 L373.3 231.4 L374.3 231.5 L375.3 230.9 L376.3 230.9 L377.3 231.3 L378.3 232.1 L379.3 229.6 L380.3 229.5 L381.3 231.1 L382.3 228.3 L383.3 227.6 L384.3 227.7 L385.3 227.5 L386.3 226.6 L387.3 229.4 L388.3 228.4 L389.3 230.5 L390.3 231.9 L391.3 233.9 L392.3 234.7 L393.3 235.8 L394.3 237.0 L395.3 239.6 L396.3 241.1 L397.3 242.9 L398.3 244.6 L399.3 246.9 L400.3 249.4 L401.3 249.6 L402.3 251.9 L403.3 252.4 L404.3 253.3 L405.3 252.1 L406.3 251.9 L407.3 252.7 L408.3 252.5 L409.3 250.9 L410.3 253.8 L411.3 253.1 L412.3 253.1 L413.3 252.4 L414.3 253.3 L415.3 252.9 L416.3 254.3 L417.3 253.7 L418.3 254.3 L419.3 252.3 L420.3 252.6 L421.3 253.0 L422.3 252.9 L423.3 254.6 L424.3 253.8 L425.3 252.7 L426.3 253.4 L427.3 255.0 L428.3 253.5 L429.3 254.2 L430.3 252.6 L431.3 253.5 L432.3 253.8 L433.3 253.8 L434.3 254.1 L435.3 254.4 L436.3 255.0 L437.3 252.9 L438.3 254.3 L439.3 254.9 L440.3 254.5 L441.3 255.2 L442.3 254.3 L443.3 254.1 L444.3 253.8 L445.3 255.1 L446.3 253.5 L447.3 254.1 L448.3 254.4 L449.3 254.9 L450.3 254.2 L451.3 253.8 L452.3 254.9 L453.3 253.6 L454.3 253.9 L455.3 253.0 L456.3 254.6 L457.3 254.6 L458.3 253.1 L459.3 254.2 L460.3 254.7 L461.3 253.8 L462.3 252.9 L463.3 254.0 L464.3 254.4 L465.3 252.4 L466.3 254.3 L467.3 253.5 L468.3 254.0 L469.3 252.4 L470.3 253.6 L471.3 253.0 L472.3 253.1 L473.3 252.3 L474.3 252.8 L475.3 251.7 L476.3 251.2 L477.3 250.5 L478.3 249.8 L479.3 250.6 L480.3 249.8 L481.3 249.4 L482.3 248.6 L483.3 248.4 L484.3 247.3 L485.3 246.0 L486.3 246.1 L487.3 246.2 L488.3 242.9 L489.3 241.6 L490.3 240.5 L491.3 237.7 L492.3 237.8 L493.3 236.3 L494.3 236.1 L495.3 236.8 L496.3 239.0 L497.3 237.6 L498.3 240.1 L499.3 239.5 L500.3 242.7 L501.3 243.4 L502.3 244.5 L503.3 246.4 L504.3 245.7 L505.3 247.5 L506.3 248.0 L507.3 249.3 L508.3 249.0 L509.3 251.3 L510.3 251.1 L511.3 253.3 L512.3 253.7 L513.3 253.7 L514.3 254.7 L515.3 255.2 L516.3 255.5 L517.3 257.8 L518.3 255.6 L519.3 255.6 L520.3 256.0 L521.3 257.2 L522.3 257.7 L523.3 258.6 L524.3 259.1 L525.3 258.9 L526.3 259.1 L527.3 258.6 L528.3 260.2 L529.3 260.8 L530.3 259.9 L531.3 260.7 L532.3 259.9 L533.3 260.5 L534.3 260.8 L535.3 261.5 L536.3 259.9 L537.3 261.2 L538.3 262.0 L539.3 261.7 L540.3 262.1 L541.3 259.9 L542.3 261.2 L543.3 261.7 L544.3 261.6 L545.3 260.5 L546.3 263.2 L547.3 262.7 L548.3 261.2 L549.3 262.4 L550.3 262.9 L551.3 263.8 L552.3 263.7 L553.3 262.6 L554.3 263.0 L555.3 263.8 L556.3 264.5 L557.3 263.5 L558.3 263.5 L559.3 264.5 L560.3 264.3 L561.3 265.4 L562.3 264.9 L563.3 265.4 L564.3 263.3 L565.3 263.8 L566.3 263.8 L567.3 264.6 L568.3 265.5 L569.3 265.1 L570.3 265.8 L571.3 265.0" stroke="#ff0080" stroke-width="1.9" fill="none" stroke-linejoin="round"/>
<path d="M66.3 306.0 L67.3 305.9 L68.3 303.9 L69.3 304.4 L70.3 304.7 L71.3 305.8 L72.3 305.7 L73.3 306.5 L74.3 304.0 L75.3 305.2 L76.3 305.0 L77.3 304.8 L78.3 304.9 L79.3 303.4 L80.3 305.1 L81.3 304.5 L82.3 303.9 L83.3 305.8 L84.3 304.2 L85.3 304.9 L86.3 304.1 L87.3 303.4 L88.3 304.2 L89.3 304.7 L90.3 303.6 L91.3 304.7 L92.3 305.5 L93.3 305.0 L94.3 303.8 L95.3 303.3 L96.3 304.5 L97.3 302.6 L98.3 302.8 L99.3 304.8 L100.3 303.6 L101.3 303.6 L102.3 302.8 L103.3 305.1 L104.3 305.1 L105.3 302.5 L106.3 303.1 L107.3 302.0 L108.3 302.4 L109.3 302.8 L110.3 302.5 L111.3 301.1 L112.3 301.3 L113.3 302.9 L114.3 301.2 L115.3 301.2 L116.3 300.3 L117.3 299.4 L118.3 298.3 L119.3 298.0 L120.3 297.1 L121.3 297.2 L122.3 297.0 L123.3 297.8 L124.3 295.6 L125.3 296.8 L126.3 294.6 L127.3 297.6 L128.3 294.8 L129.3 294.9 L130.3 295.6 L131.3 293.6 L132.3 293.3 L133.3 292.8 L134.3 292.5 L135.3 291.0 L136.3 292.0 L137.3 290.8 L138.3 289.3 L139.3 289.2 L140.3 287.2 L141.3 285.8 L142.3 284.8 L143.3 283.7 L144.3 280.5 L145.3 279.6 L146.3 278.2 L147.3 274.8 L148.3 273.5 L149.3 269.5 L150.3 266.1 L151.3 262.5 L152.3 260.0 L153.3 256.6 L154.3 253.2 L155.3 250.8 L156.3 254.3 L157.3 249.6 L158.3 250.3 L159.3 250.7 L160.3 254.4 L161.3 255.6 L162.3 257.5 L163.3 257.5 L164.3 260.3 L165.3 259.8 L166.3 262.0 L167.3 261.6 L168.3 260.6 L169.3 263.2 L170.3 263.8 L171.3 268.4 L172.3 268.2 L173.3 271.9 L174.3 274.6 L175.3 277.1 L176.3 280.1 L177.3 282.9 L178.3 284.5 L179.3 285.1 L180.3 286.3 L181.3 287.4 L182.3 287.5 L183.3 288.6 L184.3 289.2 L185.3 290.1 L186.3 289.8 L187.3 289.5 L188.3 289.6 L189.3 287.9 L190.3 289.0 L191.3 287.5 L192.3 287.3 L193.3 286.5 L194.3 286.6 L195.3 284.8 L196.3 284.8 L197.3 283.2 L198.3 282.2 L199.3 282.1 L200.3 280.5 L201.3 281.7 L202.3 280.0 L203.3 280.3 L204.3 281.9 L205.3 280.4 L206.3 282.8 L207.3 282.9 L208.3 283.7 L209.3 284.6 L210.3 284.5 L211.3 287.2 L212.3 286.9 L213.3 287.5 L214.3 287.9 L215.3 288.0 L216.3 287.5 L217.3 286.6 L218.3 286.3 L219.3 286.2 L220.3 286.9 L221.3 288.0 L222.3 286.3 L223.3 287.0 L224.3 287.7 L225.3 287.0 L226.3 287.1 L227.3 286.4 L228.3 287.4 L229.3 286.8 L230.3 286.7 L231.3 286.9 L232.3 287.5 L233.3 288.0 L234.3 286.4 L235.3 287.6 L236.3 286.4 L237.3 285.7 L238.3 286.6 L239.3 287.1 L240.3 286.9 L241.3 287.1 L242.3 285.1 L243.3 287.6 L244.3 287.0 L245.3 286.8 L246.3 284.9 L247.3 286.2 L248.3 285.3 L249.3 285.1 L250.3 285.3 L251.3 283.9 L252.3 285.7 L253.3 285.5 L254.3 285.1 L255.3 285.3 L256.3 282.7 L257.3 283.5 L258.3 283.3 L259.3 282.4 L260.3 283.7 L261.3 284.8 L262.3 281.8 L263.3 282.8 L264.3 282.2 L265.3 282.1 L266.3 281.8 L267.3 282.0 L268.3 280.7 L269.3 280.6 L270.3 281.9 L271.3 280.3 L272.3 280.0 L273.3 278.3 L274.3 279.7 L275.3 279.4 L276.3 278.8 L277.3 279.3 L278.3 276.2 L279.3 277.9 L280.3 275.2 L281.3 274.8 L282.3 273.2 L283.3 274.5 L284.3 273.1 L285.3 272.3 L286.3 272.5 L287.3 270.8 L288.3 271.8 L289.3 272.4 L290.3 271.7 L291.3 272.0 L292.3 270.8 L293.3 272.1 L294.3 271.7 L295.3 272.1 L296.3 273.1 L297.3 271.9 L298.3 271.4 L299.3 272.1 L300.3 271.0 L301.3 273.1 L302.3 271.9 L303.3 272.0 L304.3 272.7 L305.3 271.7 L306.3 273.0 L307.3 273.3 L308.3 275.5 L309.3 275.3 L310.3 275.9 L311.3 274.8 L312.3 275.1 L313.3 276.1 L314.3 275.0 L315.3 275.1 L316.3 277.1 L317.3 276.4 L318.3 276.5 L319.3 274.8 L320.3 275.6 L321.3 275.3 L322.3 274.7 L323.3 275.1 L324.3 273.6 L325.3 272.8 L326.3 274.5 L327.3 272.6 L328.3 270.7 L329.3 272.2 L330.3 270.1 L331.3 269.0 L332.3 265.7 L333.3 267.9 L334.3 265.8 L335.3 265.6 L336.3 264.9 L337.3 261.6 L338.3 262.6 L339.3 260.3 L340.3 257.9 L341.3 254.2 L342.3 255.3 L343.3 252.0 L344.3 250.2 L345.3 246.9 L346.3 246.4 L347.3 244.8 L348.3 244.0 L349.3 240.6 L350.3 238.1 L351.3 237.9 L352.3 236.6 L353.3 237.0 L354.3 236.7 L355.3 237.5 L356.3 239.2 L357.3 240.8 L358.3 240.9 L359.3 241.2 L360.3 243.8 L361.3 245.1 L362.3 246.5 L363.3 247.8 L364.3 249.5 L365.3 249.5 L366.3 253.3 L367.3 254.9 L368.3 256.4 L369.3 257.4 L370.3 259.2 L371.3 258.0 L372.3 259.4 L373.3 259.9 L374.3 258.8 L375.3 258.6 L376.3 258.8 L377.3 257.2 L378.3 256.0 L379.3 255.5 L380.3 255.4 L381.3 253.7 L382.3 254.0 L383.3 253.3 L384.3 253.4 L385.3 253.9 L386.3 254.2 L387.3 254.4 L388.3 255.3 L389.3 256.8 L390.3 256.7 L391.3 258.6 L392.3 258.8 L393.3 261.8 L394.3 262.3 L395.3 263.1 L396.3 265.6 L397.3 268.7 L398.3 270.4 L399.3 271.0 L400.3 275.4 L401.3 275.7 L402.3 276.9 L403.3 277.0 L404.3 276.7 L405.3 276.3 L406.3 277.6 L407.3 277.6 L408.3 277.5 L409.3 278.3 L410.3 278.0 L411.3 277.1 L412.3 277.6 L413.3 278.8 L414.3 277.0 L415.3 279.6 L416.3 277.7 L417.3 280.0 L418.3 278.5 L419.3 277.0 L420.3 278.6 L421.3 278.4 L422.3 278.0 L423.3 278.5 L424.3 278.5 L425.3 276.1 L426.3 279.1 L427.3 278.4 L428.3 278.7 L429.3 279.2 L430.3 278.7 L431.3 277.9 L432.3 279.4 L433.3 278.6 L434.3 279.1 L435.3 278.4 L436.3 278.9 L437.3 278.3 L438.3 280.2 L439.3 278.3 L440.3 279.9 L441.3 277.8 L442.3 279.5 L443.3 279.1 L444.3 280.1 L445.3 279.6 L446.3 281.2 L447.3 281.7 L448.3 279.2 L449.3 280.3 L450.3 279.1 L451.3 279.2 L452.3 280.0 L453.3 280.8 L454.3 280.7 L455.3 280.1 L456.3 281.1 L457.3 279.4 L458.3 279.6 L459.3 280.2 L460.3 278.8 L461.3 281.1 L462.3 279.9 L463.3 279.6 L464.3 280.1 L465.3 278.6 L466.3 279.4 L467.3 278.0 L468.3 278.9 L469.3 278.9 L470.3 279.8 L471.3 278.4 L472.3 279.1 L473.3 277.9 L474.3 276.4 L475.3 277.9 L476.3 277.0 L477.3 276.2 L478.3 277.0 L479.3 274.8 L480.3 274.5 L481.3 274.4 L482.3 273.5 L483.3 271.3 L484.3 271.0 L485.3 269.8 L486.3 269.3 L487.3 267.6 L488.3 265.0 L489.3 265.1 L490.3 265.3 L491.3 262.6 L492.3 262.4 L493.3 262.8 L494.3 262.0 L495.3 261.9 L496.3 263.5 L497.3 264.6 L498.3 265.4 L499.3 267.3 L500.3 267.8 L501.3 269.0 L502.3 270.5 L503.3 272.2 L504.3 273.3 L505.3 273.9 L506.3 276.2 L507.3 276.8 L508.3 277.4 L509.3 279.1 L510.3 280.2 L511.3 280.3 L512.3 280.1 L513.3 281.7 L514.3 282.4 L515.3 282.4 L516.3 282.4 L517.3 283.2 L518.3 283.7 L519.3 282.4 L520.3 285.4 L521.3 284.6 L522.3 286.4 L523.3 285.3 L524.3 285.0 L525.3 286.5 L526.3 286.3 L527.3 287.1 L528.3 286.4 L529.3 286.7 L530.3 286.8 L531.3 287.0 L532.3 288.1 L533.3 287.1 L534.3 288.5 L535.3 289.4 L536.3 288.2 L537.3 289.0 L538.3 288.8 L539.3 289.4 L540.3 290.0 L541.3 290.6 L542.3 290.9 L543.3 290.0 L544.3 291.1 L545.3 290.3 L546.3 290.0 L547.3 290.3 L548.3 289.6 L549.3 291.1 L550.3 289.7 L551.3 291.2 L552.3 293.1 L553.3 290.4 L554.3 289.5 L555.3 291.4 L556.3 290.3 L557.3 291.1 L558.3 291.1 L559.3 291.3 L560.3 292.8 L561.3 291.3 L562.3 291.3 L563.3 291.0 L564.3 290.6 L565.3 290.6 L566.3 290.3 L567.3 291.7 L568.3 291.0 L569.3 291.6 L570.3 291.4 L571.3 292.8" stroke="#008000" stroke-width="1.9" fill="none" stroke-linejoin="round"/>
<path d="M66.3 332.5 L67.3 333.0 L68.3 332.1 L69.3 333.4 L70.3 332.3 L71.3 332.4 L72.3 331.3 L73.3 332.7 L74.3 333.5 L75.3 333.2 L76.3 331.4 L77.3 332.8 L78.3 331.5 L79.3 330.8 L80.3 331.0 L81.3 332.8 L82.3 331.6 L83.3 330.9 L84.3 332.0 L85.3 331.9 L86.3 331.4 L87.3 331.9 L88.3 331.2 L89.3 332.3 L90.3 331.9 L91.3 331.2 L92.3 331.5 L93.3 331.8 L94.3 331.0 L95.3 331.4 L96.3 330.8 L97.3 330.6 L98.3 329.3 L99.3 329.7 L100.3 329.8 L101.3 330.5 L102.3 332.3 L103.3 329.5 L104.3 329.8 L105.3 329.0 L106.3 329.6 L107.3 329.6 L108.3 330.1 L109.3 328.4 L110.3 329.6 L111.3 329.3 L112.3 328.7 L113.3 327.8 L114.3 327.7 L115.3 328.1 L116.3 328.4 L117.3 327.7 L118.3 326.9 L119.3 327.5 L120.3 326.2 L121.3 327.3 L122.3 328.6 L123.3 325.6 L124.3 326.5 L125.3 324.6 L126.3 325.0 L127.3 324.9 L128.3 325.0 L129.3 323.6 L130.3 324.0 L131.3 321.5 L132.3 321.6 L133.3 321.1 L134.3 320.5 L135.3 319.5 L136.3 320.2 L137.3 317.7 L138.3 317.8 L139.3 316.4 L140.3 316.6 L141.3 313.6 L142.3 312.8 L143.3 311.0 L144.3 306.3 L145.3 307.1 L146.3 305.4 L147.3 303.6 L148.3 299.3 L149.3 297.4 L150.3 295.2 L151.3 289.8 L152.3 286.8 L153.3 285.5 L154.3 283.2 L155.3 281.6 L156.3 280.0 L157.3 278.9 L158.3 278.5 L159.3 280.0 L160.3 282.1 L161.3 284.3 L162.3 286.0 L163.3 288.5 L164.3 288.9 L165.3 290.7 L166.3 291.5 L167.3 295.5 L168.3 295.3 L169.3 297.7 L170.3 299.4 L171.3 300.2 L172.3 301.4 L173.3 302.9 L174.3 305.1 L175.3 306.1 L176.3 309.1 L177.3 312.1 L178.3 313.5 L179.3 315.4 L180.3 316.4 L181.3 316.8 L182.3 316.4 L183.3 316.4 L184.3 317.0 L185.3 316.0 L186.3 315.3 L187.3 316.9 L188.3 316.2 L189.3 316.7 L190.3 314.8 L191.3 313.4 L192.3 313.8 L193.3 312.6 L194.3 311.5 L195.3 312.6 L196.3 310.8 L197.3 308.9 L198.3 308.0 L199.3 308.6 L200.3 308.7 L201.3 308.4 L202.3 309.1 L203.3 308.6 L204.3 309.0 L205.3 307.5 L206.3 310.4 L207.3 309.5 L208.3 311.1 L209.3 309.8 L210.3 310.9 L211.3 313.1 L212.3 311.8 L213.3 313.5 L214.3 313.6 L215.3 315.7 L216.3 315.1 L217.3 316.2 L218.3 315.5 L219.3 314.5 L220.3 317.4 L221.3 315.4 L222.3 315.9 L223.3 315.8 L224.3 314.6 L225.3 316.3 L226.3 315.4 L227.3 314.3 L228.3 314.4 L229.3 313.7 L230.3 314.7 L231.3 315.0 L232.3 314.3 L233.3 314.9 L234.3 314.5 L235.3 315.0 L236.3 314.5 L237.3 314.2 L238.3 313.6 L239.3 313.1 L240.3 313.2 L241.3 314.0 L242.3 313.2 L243.3 314.5 L244.3 313.9 L245.3 312.1 L246.3 313.2 L247.3 313.6 L248.3 312.0 L249.3 313.2 L250.3 311.5 L251.3 313.0 L252.3 312.0 L253.3 311.1 L254.3 309.8 L255.3 310.7 L256.3 309.9 L257.3 310.5 L258.3 309.3 L259.3 310.0 L260.3 309.0 L261.3 309.5 L262.3 309.4 L263.3 308.6 L264.3 308.5 L265.3 308.6 L266.3 306.7 L267.3 307.6 L268.3 307.0 L269.3 307.6 L270.3 305.9 L271.3 306.4 L272.3 304.0 L273.3 305.8 L274.3 304.8 L275.3 304.3 L276.3 304.3 L277.3 302.2 L278.3 302.6 L279.3 302.4 L280.3 301.5 L281.3 300.8 L282.3 301.4 L283.3 300.1 L284.3 299.4 L285.3 299.2 L286.3 299.9 L287.3 300.1 L288.3 299.3 L289.3 298.6 L290.3 297.0 L291.3 297.4 L292.3 297.0 L293.3 296.8 L294.3 298.3 L295.3 296.8 L296.3 298.2 L297.3 297.2 L298.3 297.0 L299.3 296.9 L300.3 296.0 L301.3 296.9 L302.3 298.0 L303.3 298.2 L304.3 298.1 L305.3 298.8 L306.3 298.8 L307.3 299.4 L308.3 301.3 L309.3 299.9 L310.3 298.8 L311.3 298.9 L312.3 300.3 L313.3 301.5 L314.3 302.5 L315.3 302.2 L316.3 302.7 L317.3 303.5 L318.3 302.7 L319.3 303.7 L320.3 304.2 L321.3 303.8 L322.3 303.6 L323.3 304.6 L324.3 304.8 L325.3 303.5 L326.3 301.1 L327.3 301.5 L328.3 300.9 L329.3 300.6 L330.3 298.8 L331.3 297.7 L332.3 297.5 L333.3 296.4 L334.3 294.3 L335.3 292.1 L336.3 290.8 L337.3 290.9 L338.3 288.6 L339.3 287.7 L340.3 286.0 L341.3 284.6 L342.3 283.0 L343.3 280.1 L344.3 278.6 L345.3 277.4 L346.3 275.5 L347.3 272.7 L348.3 273.5 L349.3 269.4 L350.3 269.6 L351.3 265.7 L352.3 266.2 L353.3 263.5 L354.3 265.9 L355.3 266.3 L356.3 268.2 L357.3 268.5 L358.3 270.8 L359.3 272.7 L360.3 274.9 L361.3 276.9 L362.3 280.9 L363.3 280.9 L364.3 283.1 L365.3 284.7 L366.3 287.7 L367.3 286.4 L368.3 287.0 L369.3 287.4 L370.3 288.0 L371.3 288.3 L372.3 288.2 L373.3 287.5 L374.3 288.9 L375.3 288.2 L376.3 288.7 L377.3 287.1 L378.3 285.8 L379.3 283.8 L380.3 284.0 L381.3 283.4 L382.3 283.3 L383.3 281.6 L384.3 281.4 L385.3 280.9 L386.3 281.6 L387.3 281.5 L388.3 281.2 L389.3 280.8 L390.3 284.1 L391.3 284.0 L392.3 284.5 L393.3 285.2 L394.3 286.2 L395.3 289.0 L396.3 290.3 L397.3 292.8 L398.3 295.9 L399.3 297.0 L400.3 300.2 L401.3 301.8 L402.3 303.3 L403.3 303.5 L404.3 305.2 L405.3 307.2 L406.3 306.5 L407.3 307.6 L408.3 307.7 L409.3 309.3 L410.3 308.9 L411.3 307.3 L412.3 307.4 L413.3 308.6 L414.3 307.9 L415.3 307.8 L416.3 308.6 L417.3 308.1 L418.3 307.7 L419.3 309.9 L420.3 307.9 L421.3 306.5 L422.3 307.7 L423.3 307.7 L424.3 308.7 L425.3 307.6 L426.3 306.9 L427.3 307.6 L428.3 306.4 L429.3 307.0 L430.3 307.6 L431.3 306.7 L432.3 305.8 L433.3 306.6 L434.3 306.8 L435.3 307.9 L436.3 307.2 L437.3 307.5 L438.3 306.9 L439.3 307.8 L440.3 307.3 L441.3 308.3 L442.3 308.1 L443.3 309.0 L444.3 308.4 L445.3 307.7 L446.3 307.3 L447.3 308.1 L448.3 308.5 L449.3 309.1 L450.3 307.5 L451.3 306.9 L452.3 306.5 L453.3 307.0 L454.3 307.6 L455.3 307.5 L456.3 307.4 L457.3 307.6 L458.3 307.8 L459.3 306.2 L460.3 307.4 L461.3 307.1 L462.3 307.0 L463.3 306.7 L464.3 305.4 L465.3 307.0 L466.3 306.1 L467.3 306.2 L468.3 306.3 L469.3 305.9 L470.3 305.9 L471.3 305.7 L472.3 304.4 L473.3 304.0 L474.3 305.2 L475.3 303.7 L476.3 305.5 L477.3 302.8 L478.3 303.3 L479.3 302.6 L480.3 302.2 L481.3 300.5 L482.3 300.6 L483.3 301.0 L484.3 298.2 L485.3 296.0 L486.3 297.2 L487.3 295.8 L488.3 294.5 L489.3 292.0 L490.3 291.6 L491.3 291.1 L492.3 289.6 L493.3 290.2 L494.3 291.0 L495.3 291.9 L496.3 292.0 L497.3 293.3 L498.3 295.7 L499.3 296.8 L500.3 295.4 L501.3 298.8 L502.3 297.9 L503.3 300.1 L504.3 299.6 L505.3 301.5 L506.3 302.4 L507.3 304.7 L508.3 305.3 L509.3 306.5 L510.3 307.4 L511.3 308.0 L512.3 309.1 L513.3 308.9 L514.3 309.2 L515.3 309.1 L516.3 309.2 L517.3 309.8 L518.3 310.8 L519.3 311.5 L520.3 310.9 L521.3 312.7 L522.3 312.4 L523.3 311.7 L524.3 312.1 L525.3 312.0 L526.3 310.9 L527.3 313.0 L528.3 312.8 L529.3 311.5 L530.3 313.6 L531.3 312.7 L532.3 313.2 L533.3 312.3 L534.3 313.7 L535.3 314.2 L536.3 313.8 L537.3 314.2 L538.3 313.0 L539.3 315.0 L540.3 314.7 L541.3 314.8 L542.3 315.5 L543.3 315.9 L544.3 315.2 L545.3 316.1 L546.3 316.9 L547.3 314.8 L548.3 315.8 L549.3 314.6 L550.3 316.1 L551.3 317.0 L552.3 315.9 L553.3 315.2 L554.3 315.8 L555.3 316.5 L556.3 315.2 L557.3 315.3 L558.3 316.8 L559.3 315.5 L560.3 316.6 L561.3 315.8 L562.3 315.4 L563.3 317.3 L564.3 317.6 L565.3 316.2 L566.3 318.5 L567.3 317.0 L568.3 317.3 L569.3 317.0 L570.3 316.1 L571.3 317.7" stroke="#0000a0" stroke-width="1.9" fill="none" stroke-linejoin="round"/>
<path d="M66.3 357.6 L67.3 358.1 L68.3 357.9 L69.3 357.6 L70.3 359.8 L71.3 358.5 L72.3 358.0 L73.3 358.8 L74.3 357.4 L75.3 358.6 L76.3 360.4 L77.3 357.9 L78.3 358.8 L79.3 357.6 L80.3 358.5 L81.3 359.3 L82.3 357.7 L83.3 357.8 L84.3 359.4 L85.3 358.7 L86.3 359.0 L87.3 358.9 L88.3 357.4 L89.3 357.0 L90.3 356.8 L91.3 358.5 L92.3 356.9 L93.3 356.5 L94.3 357.2 L95.3 357.4 L96.3 357.5 L97.3 355.7 L98.3 357.9 L99.3 356.0 L100.3 356.6 L101.3 356.2 L102.3 355.3 L103.3 356.2 L104.3 355.9 L105.3 356.3 L106.3 356.7 L107.3 356.6 L108.3 355.5 L109.3 355.1 L110.3 354.1 L111.3 352.9 L112.3 354.1 L113.3 353.1 L114.3 353.1 L115.3 352.6 L116.3 353.0 L117.3 352.0 L118.3 353.8 L119.3 352.3 L120.3 350.9 L121.3 351.2 L122.3 351.5 L123.3 349.1 L124.3 349.8 L125.3 348.7 L126.3 348.6 L127.3 347.6 L128.3 347.5 L129.3 347.0 L130.3 346.4 L131.3 344.1 L132.3 344.9 L133.3 343.5 L134.3 342.1 L135.3 341.6 L136.3 341.8 L137.3 339.4 L138.3 337.7 L139.3 337.8 L140.3 335.7 L141.3 334.7 L142.3 332.5 L143.3 331.2 L144.3 327.5 L145.3 325.5 L146.3 324.3 L147.3 322.6 L148.3 319.3 L149.3 318.1 L150.3 315.2 L151.3 312.4 L152.3 308.6 L153.3 309.0 L154.3 306.2 L155.3 301.9 L156.3 303.2 L157.3 301.9 L158.3 302.4 L159.3 304.3 L160.3 307.5 L161.3 309.4 L162.3 311.8 L163.3 314.3 L164.3 316.0 L165.3 318.4 L166.3 318.0 L167.3 320.0 L168.3 322.3 L169.3 323.0 L170.3 325.5 L171.3 326.5 L172.3 328.7 L173.3 330.1 L174.3 332.7 L175.3 334.3 L176.3 336.8 L177.3 337.7 L178.3 338.0 L179.3 340.2 L180.3 340.5 L181.3 340.4 L182.3 341.7 L183.3 341.5 L184.3 342.4 L185.3 341.0 L186.3 340.9 L187.3 341.1 L188.3 341.1 L189.3 338.6 L190.3 338.7 L191.3 337.5 L192.3 336.6 L193.3 336.8 L194.3 336.0 L195.3 335.1 L196.3 333.4 L197.3 333.3 L198.3 331.6 L199.3 333.0 L200.3 331.7 L201.3 332.5 L202.3 333.5 L203.3 332.9 L204.3 333.4 L205.3 333.0 L206.3 335.8 L207.3 333.3 L208.3 334.1 L209.3 334.8 L210.3 337.3 L211.3 335.3 L212.3 336.2 L213.3 337.1 L214.3 335.3 L215.3 338.0 L216.3 338.0 L217.3 339.2 L218.3 339.5 L219.3 339.0 L220.3 339.7 L221.3 338.6 L222.3 338.4 L223.3 339.2 L224.3 339.6 L225.3 339.2 L226.3 339.7 L227.3 339.8 L228.3 340.6 L229.3 339.0 L230.3 338.7 L231.3 339.3 L232.3 338.9 L233.3 339.0 L234.3 339.7 L235.3 337.6 L236.3 338.6 L237.3 338.9 L238.3 338.6 L239.3 336.3 L240.3 337.0 L241.3 338.0 L242.3 336.8 L243.3 337.0 L244.3 336.4 L245.3 337.2 L246.3 336.2 L247.3 335.6 L248.3 335.7 L249.3 336.5 L250.3 335.5 L251.3 333.7 L252.3 333.1 L253.3 335.0 L254.3 332.9 L255.3 334.0 L256.3 333.1 L257.3 333.5 L258.3 332.5 L259.3 331.0 L260.3 333.5 L261.3 332.1 L262.3 331.7 L263.3 332.7 L264.3 331.7 L265.3 331.7 L266.3 330.3 L267.3 330.1 L268.3 330.0 L269.3 328.7 L270.3 329.3 L271.3 328.6 L272.3 327.6 L273.3 327.0 L274.3 327.5 L275.3 326.3 L276.3 326.3 L277.3 325.8 L278.3 325.0 L279.3 322.4 L280.3 324.8 L281.3 324.8 L282.3 323.4 L283.3 323.2 L284.3 324.1 L285.3 322.3 L286.3 323.9 L287.3 323.1 L288.3 323.5 L289.3 322.2 L290.3 322.1 L291.3 322.0 L292.3 320.4 L293.3 320.7 L294.3 322.0 L295.3 320.5 L296.3 320.2 L297.3 321.0 L298.3 321.7 L299.3 320.6 L300.3 320.4 L301.3 320.5 L302.3 320.9 L303.3 319.6 L304.3 321.3 L305.3 321.7 L306.3 322.5 L307.3 323.0 L308.3 323.1 L309.3 324.6 L310.3 323.5 L311.3 323.8 L312.3 325.4 L313.3 324.5 L314.3 324.2 L315.3 324.5 L316.3 325.1 L317.3 324.4 L318.3 326.3 L319.3 326.0 L320.3 326.9 L321.3 325.2 L322.3 325.8 L323.3 325.5 L324.3 326.2 L325.3 325.6 L326.3 325.3 L327.3 324.5 L328.3 322.4 L329.3 322.4 L330.3 321.2 L331.3 320.1 L332.3 319.3 L333.3 316.4 L334.3 316.2 L335.3 315.3 L336.3 313.8 L337.3 312.6 L338.3 313.0 L339.3 311.7 L340.3 310.9 L341.3 307.5 L342.3 304.9 L343.3 305.5 L344.3 303.2 L345.3 301.1 L346.3 300.7 L347.3 298.9 L348.3 296.3 L349.3 296.5 L350.3 294.2 L351.3 295.1 L352.3 293.2 L353.3 292.8 L354.3 294.5 L355.3 295.2 L356.3 295.2 L357.3 295.7 L358.3 298.4 L359.3 299.5 L360.3 301.1 L361.3 302.0 L362.3 302.4 L363.3 304.6 L364.3 307.6 L365.3 307.7 L366.3 309.7 L367.3 311.2 L368.3 313.2 L369.3 313.5 L370.3 313.2 L371.3 314.8 L372.3 313.1 L373.3 312.6 L374.3 311.0 L375.3 309.5 L376.3 309.9 L377.3 308.4 L378.3 307.9 L379.3 305.1 L380.3 307.3 L381.3 305.6 L382.3 305.9 L383.3 304.5 L384.3 305.6 L385.3 305.9 L386.3 307.1 L387.3 307.4 L388.3 306.0 L389.3 308.4 L390.3 309.2 L391.3 309.7 L392.3 310.9 L393.3 312.1 L394.3 313.5 L395.3 313.5 L396.3 315.4 L397.3 318.0 L398.3 320.4 L399.3 321.1 L400.3 323.6 L401.3 324.1 L402.3 326.2 L403.3 326.8 L404.3 327.6 L405.3 328.5 L406.3 327.2 L407.3 328.3 L408.3 327.0 L409.3 328.6 L410.3 329.9 L411.3 327.6 L412.3 328.5 L413.3 326.7 L414.3 329.5 L415.3 330.9 L416.3 328.7 L417.3 329.7 L418.3 330.6 L419.3 329.1 L420.3 329.9 L421.3 329.2 L422.3 329.5 L423.3 329.9 L424.3 330.6 L425.3 330.2 L426.3 330.1 L427.3 330.0 L428.3 331.0 L429.3 330.7 L430.3 330.6 L431.3 329.0 L432.3 330.3 L433.3 329.7 L434.3 331.8 L435.3 331.1 L436.3 331.7 L437.3 330.0 L438.3 329.5 L439.3 330.1 L440.3 331.2 L441.3 330.2 L442.3 331.3 L443.3 331.8 L444.3 330.6 L445.3 331.6 L446.3 329.2 L447.3 329.9 L448.3 330.3 L449.3 330.5 L450.3 329.7 L451.3 330.5 L452.3 331.5 L453.3 331.3 L454.3 330.9 L455.3 329.9 L456.3 331.6 L457.3 331.0 L458.3 329.7 L459.3 331.1 L460.3 330.0 L461.3 330.6 L462.3 330.3 L463.3 330.3 L464.3 330.9 L465.3 331.5 L466.3 329.7 L467.3 329.3 L468.3 329.0 L469.3 329.1 L470.3 329.0 L471.3 327.3 L472.3 328.1 L473.3 329.5 L474.3 328.1 L475.3 328.0 L476.3 326.8 L477.3 328.2 L478.3 326.6 L479.3 325.4 L480.3 324.4 L481.3 324.6 L482.3 324.7 L483.3 322.0 L484.3 320.9 L485.3 319.0 L486.3 320.3 L487.3 317.7 L488.3 316.5 L489.3 314.8 L490.3 313.6 L491.3 313.9 L492.3 312.4 L493.3 313.3 L494.3 313.2 L495.3 314.3 L496.3 316.2 L497.3 317.4 L498.3 317.2 L499.3 319.3 L500.3 319.5 L501.3 321.7 L502.3 321.6 L503.3 322.3 L504.3 324.5 L505.3 324.4 L506.3 325.8 L507.3 327.2 L508.3 327.1 L509.3 328.0 L510.3 329.5 L511.3 331.4 L512.3 330.7 L513.3 331.4 L514.3 331.4 L515.3 331.8 L516.3 333.5 L517.3 332.3 L518.3 332.8 L519.3 334.8 L520.3 333.6 L521.3 333.6 L522.3 335.3 L523.3 336.0 L524.3 336.9 L525.3 337.5 L526.3 334.4 L527.3 336.2 L528.3 336.3 L529.3 337.0 L530.3 336.2 L531.3 337.0 L532.3 337.3 L533.3 337.4 L534.3 336.7 L535.3 337.6 L536.3 336.9 L537.3 337.0 L538.3 337.5 L539.3 338.4 L540.3 336.4 L541.3 337.9 L542.3 339.1 L543.3 338.2 L544.3 337.8 L545.3 338.4 L546.3 339.5 L547.3 338.2 L548.3 337.8 L549.3 339.0 L550.3 338.2 L551.3 337.9 L552.3 339.1 L553.3 337.9 L554.3 338.3 L555.3 339.6 L556.3 338.7 L557.3 339.6 L558.3 337.3 L559.3 337.5 L560.3 338.1 L561.3 338.6 L562.3 337.3 L563.3 338.9 L564.3 338.3 L565.3 338.4 L566.3 338.8 L567.3 338.6 L568.3 337.9 L569.3 338.6 L570.3 337.9 L571.3 339.8" stroke="#ff8000" stroke-width="1.9" fill="none" stroke-linejoin="round"/>
<path d="M66.3 380.3 L67.3 380.5 L68.3 380.2 L69.3 380.7 L70.3 380.9 L71.3 380.6 L72.3 379.9 L73.3 381.5 L74.3 380.7 L75.3 379.3 L76.3 379.0 L77.3 379.8 L78.3 379.8 L79.3 379.4 L80.3 380.0 L81.3 380.9 L82.3 381.6 L83.3 380.9 L84.3 380.9 L85.3 381.5 L86.3 382.3 L87.3 381.5 L88.3 381.1 L89.3 380.5 L90.3 379.9 L91.3 380.9 L92.3 381.5 L93.3 380.7 L94.3 380.0 L95.3 380.9 L96.3 380.3 L97.3 379.8 L98.3 378.7 L99.3 380.6 L100.3 379.6 L101.3 380.9 L102.3 379.5 L103.3 379.9 L104.3 379.4 L105.3 381.0 L106.3 380.6 L107.3 379.4 L108.3 380.3 L109.3 378.1 L110.3 379.3 L111.3 378.1 L112.3 378.2 L113.3 377.6 L114.3 378.1 L115.3 375.9 L116.3 376.6 L117.3 377.6 L118.3 374.5 L119.3 375.7 L120.3 374.4 L121.3 373.0 L122.3 374.9 L123.3 373.8 L124.3 374.8 L125.3 371.9 L126.3 373.2 L127.3 373.6 L128.3 370.4 L129.3 371.7 L130.3 371.2 L131.3 370.2 L132.3 370.5 L133.3 369.3 L134.3 367.5 L135.3 366.8 L136.3 366.5 L137.3 367.1 L138.3 365.0 L139.3 365.0 L140.3 363.4 L141.3 363.1 L142.3 362.1 L143.3 361.7 L144.3 361.1 L145.3 358.3 L146.3 356.7 L147.3 356.4 L148.3 355.3 L149.3 354.3 L150.3 353.4 L151.3 350.6 L152.3 349.1 L153.3 347.3 L154.3 346.5 L155.3 343.9 L156.3 344.2 L157.3 344.3 L158.3 342.8 L159.3 344.4 L160.3 344.4 L161.3 344.8 L162.3 347.4 L163.3 347.8 L164.3 347.8 L165.3 349.5 L166.3 349.6 L167.3 350.0 L168.3 353.0 L169.3 353.4 L170.3 355.9 L171.3 355.9 L172.3 357.2 L173.3 358.0 L174.3 359.2 L175.3 359.6 L176.3 361.2 L177.3 361.2 L178.3 362.2 L179.3 363.4 L180.3 364.6 L181.3 365.3 L182.3 365.2 L183.3 366.2 L184.3 367.1 L185.3 363.3 L186.3 366.1 L187.3 365.5 L188.3 364.2 L189.3 364.6 L190.3 362.7 L191.3 363.6 L192.3 364.5 L193.3 361.7 L194.3 361.5 L195.3 361.4 L196.3 361.2 L197.3 360.1 L198.3 359.1 L199.3 359.6 L200.3 358.3 L201.3 360.5 L202.3 359.6 L203.3 358.9 L204.3 358.3 L205.3 358.7 L206.3 358.9 L207.3 359.5 L208.3 360.4 L209.3 359.4 L210.3 360.9 L211.3 361.1 L212.3 360.8 L213.3 362.8 L214.3 362.6 L215.3 362.8 L216.3 362.4 L217.3 362.5 L218.3 363.3 L219.3 362.2 L220.3 363.7 L221.3 362.6 L222.3 363.4 L223.3 363.8 L224.3 363.1 L225.3 362.7 L226.3 362.5 L227.3 363.0 L228.3 361.9 L229.3 362.6 L230.3 363.2 L231.3 360.8 L232.3 361.5 L233.3 362.1 L234.3 360.8 L235.3 360.7 L236.3 360.3 L237.3 361.7 L238.3 359.2 L239.3 360.5 L240.3 360.2 L241.3 360.1 L242.3 359.3 L243.3 359.7 L244.3 359.1 L245.3 358.6 L246.3 361.0 L247.3 359.6 L248.3 357.8 L249.3 357.8 L250.3 358.4 L251.3 359.0 L252.3 357.5 L253.3 357.9 L254.3 357.3 L255.3 357.7 L256.3 356.2 L257.3 355.7 L258.3 356.2 L259.3 355.9 L260.3 355.5 L261.3 356.1 L262.3 355.4 L263.3 354.7 L264.3 353.4 L265.3 354.5 L266.3 354.3 L267.3 352.8 L268.3 352.9 L269.3 351.8 L270.3 352.3 L271.3 351.7 L272.3 350.2 L273.3 351.2 L274.3 350.5 L275.3 350.2 L276.3 350.8 L277.3 350.1 L278.3 350.0 L279.3 348.8 L280.3 349.7 L281.3 347.7 L282.3 348.5 L283.3 346.5 L284.3 347.5 L285.3 346.2 L286.3 345.4 L287.3 346.6 L288.3 345.9 L289.3 345.7 L290.3 345.0 L291.3 344.8 L292.3 344.2 L293.3 343.7 L294.3 343.6 L295.3 344.9 L296.3 342.2 L297.3 341.6 L298.3 341.8 L299.3 341.8 L300.3 342.7 L301.3 343.0 L302.3 343.1 L303.3 342.3 L304.3 343.3 L305.3 344.5 L306.3 344.1 L307.3 345.1 L308.3 343.9 L309.3 345.9 L310.3 346.3 L311.3 345.3 L312.3 346.7 L313.3 347.6 L314.3 347.0 L315.3 348.9 L316.3 349.5 L317.3 349.5 L318.3 349.7 L319.3 350.1 L320.3 350.8 L321.3 351.7 L322.3 349.9 L323.3 351.0 L324.3 350.9 L325.3 349.7 L326.3 348.9 L327.3 349.1 L328.3 347.4 L329.3 348.1 L330.3 346.9 L331.3 345.4 L332.3 345.4 L333.3 343.9 L334.3 343.2 L335.3 343.8 L336.3 341.6 L337.3 339.5 L338.3 341.0 L339.3 339.2 L340.3 338.5 L341.3 339.5 L342.3 337.3 L343.3 337.1 L344.3 334.5 L345.3 333.9 L346.3 333.2 L347.3 333.6 L348.3 331.8 L349.3 330.1 L350.3 331.6 L351.3 330.1 L352.3 330.2 L353.3 330.4 L354.3 331.3 L355.3 329.7 L356.3 331.4 L357.3 329.9 L358.3 332.1 L359.3 333.3 L360.3 332.7 L361.3 334.8 L362.3 336.2 L363.3 338.2 L364.3 338.3 L365.3 339.1 L366.3 339.7 L367.3 341.4 L368.3 341.8 L369.3 342.5 L370.3 342.9 L371.3 343.9 L372.3 343.0 L373.3 343.5 L374.3 343.3 L375.3 343.1 L376.3 343.0 L377.3 341.9 L378.3 339.9 L379.3 340.9 L380.3 340.3 L381.3 339.5 L382.3 338.4 L383.3 335.9 L384.3 336.4 L385.3 336.6 L386.3 336.2 L387.3 335.3 L388.3 335.5 L389.3 334.9 L390.3 336.8 L391.3 336.0 L392.3 338.6 L393.3 340.8 L394.3 340.5 L395.3 343.6 L396.3 345.3 L397.3 345.2 L398.3 345.2 L399.3 346.1 L400.3 346.5 L401.3 348.8 L402.3 348.3 L403.3 350.1 L404.3 350.0 L405.3 351.9 L406.3 351.0 L407.3 352.5 L408.3 352.3 L409.3 353.8 L410.3 352.8 L411.3 352.9 L412.3 353.9 L413.3 352.2 L414.3 352.1 L415.3 353.0 L416.3 352.3 L417.3 354.3 L418.3 353.2 L419.3 353.2 L420.3 352.8 L421.3 350.7 L422.3 354.0 L423.3 353.0 L424.3 351.5 L425.3 352.2 L426.3 353.0 L427.3 354.0 L428.3 353.3 L429.3 353.3 L430.3 353.3 L431.3 352.4 L432.3 352.5 L433.3 353.0 L434.3 352.0 L435.3 353.0 L436.3 353.4 L437.3 351.1 L438.3 352.7 L439.3 352.6 L440.3 352.9 L441.3 354.1 L442.3 351.7 L443.3 354.1 L444.3 353.1 L445.3 354.4 L446.3 352.2 L447.3 352.7 L448.3 352.3 L449.3 352.6 L450.3 351.5 L451.3 351.4 L452.3 351.8 L453.3 352.3 L454.3 350.7 L455.3 351.3 L456.3 350.9 L457.3 351.5 L458.3 351.8 L459.3 349.9 L460.3 350.1 L461.3 350.5 L462.3 349.9 L463.3 351.6 L464.3 351.7 L465.3 350.9 L466.3 350.6 L467.3 349.3 L468.3 349.2 L469.3 350.1 L470.3 350.8 L471.3 349.2 L472.3 349.6 L473.3 350.4 L474.3 350.3 L475.3 348.0 L476.3 348.7 L477.3 348.8 L478.3 346.7 L479.3 347.1 L480.3 347.1 L481.3 345.9 L482.3 345.9 L483.3 344.5 L484.3 342.8 L485.3 342.4 L486.3 341.0 L487.3 340.8 L488.3 341.3 L489.3 340.1 L490.3 339.4 L491.3 339.3 L492.3 337.0 L493.3 337.4 L494.3 338.1 L495.3 339.8 L496.3 339.5 L497.3 340.1 L498.3 341.4 L499.3 341.5 L500.3 341.7 L501.3 344.5 L502.3 344.6 L503.3 345.9 L504.3 345.3 L505.3 346.2 L506.3 348.1 L507.3 348.3 L508.3 349.5 L509.3 348.9 L510.3 350.1 L511.3 351.2 L512.3 351.9 L513.3 351.7 L514.3 352.5 L515.3 352.7 L516.3 353.2 L517.3 353.7 L518.3 354.4 L519.3 353.5 L520.3 354.8 L521.3 354.4 L522.3 355.5 L523.3 355.6 L524.3 356.3 L525.3 356.3 L526.3 356.6 L527.3 356.0 L528.3 358.4 L529.3 356.6 L530.3 356.4 L531.3 358.4 L532.3 358.8 L533.3 358.5 L534.3 358.5 L535.3 358.1 L536.3 360.5 L537.3 358.0 L538.3 361.1 L539.3 358.3 L540.3 358.8 L541.3 359.4 L542.3 359.4 L543.3 360.1 L544.3 359.2 L545.3 359.7 L546.3 358.8 L547.3 360.9 L548.3 359.9 L549.3 359.6 L550.3 360.2 L551.3 361.0 L552.3 360.6 L553.3 359.8 L554.3 360.5 L555.3 360.7 L556.3 360.8 L557.3 360.3 L558.3 361.0 L559.3 359.7 L560.3 360.6 L561.3 359.9 L562.3 360.6 L563.3 360.1 L564.3 361.1 L565.3 360.3 L566.3 361.5 L567.3 359.9 L568.3 361.3 L569.3 359.9 L570.3 358.7 L571.3 359.8" stroke="#800080" stroke-width="1.9" fill="none" stroke-linejoin="round"/>
<path d="M66.3 409.3 L67.3 408.9 L68.3 409.2 L69.3 408.5 L70.3 409.1 L71.3 408.2 L72.3 410.3 L73.3 410.2 L74.3 409.3 L75.3 408.6 L76.3 408.6 L77.3 409.5 L78.3 409.3 L79.3 408.4 L80.3 409.6 L81.3 409.8 L82.3 409.5 L83.3 409.4 L84.3 409.3 L85.3 409.1 L86.3 408.9 L87.3 408.6 L88.3 410.0 L89.3 407.9 L90.3 409.1 L91.3 409.6 L92.3 410.6 L93.3 408.6 L94.3 409.8 L95.3 409.6 L96.3 409.3 L97.3 409.9 L98.3 407.2 L99.3 409.1 L100.3 408.2 L101.3 408.5 L102.3 407.9 L103.3 407.3 L104.3 406.4 L105.3 408.0 L106.3 407.4 L107.3 406.4 L108.3 407.1 L109.3 406.2 L110.3 406.2 L111.3 406.7 L112.3 407.0 L113.3 404.7 L114.3 405.8 L115.3 406.1 L116.3 404.4 L117.3 404.8 L118.3 405.0 L119.3 405.1 L120.3 403.2 L121.3 402.6 L122.3 403.0 L123.3 402.7 L124.3 402.7 L125.3 402.4 L126.3 400.5 L127.3 402.0 L128.3 399.7 L129.3 400.7 L130.3 400.3 L131.3 399.7 L132.3 399.0 L133.3 398.4 L134.3 396.9 L135.3 396.2 L136.3 397.8 L137.3 396.7 L138.3 395.9 L139.3 394.8 L140.3 392.2 L141.3 394.0 L142.3 391.5 L143.3 390.8 L144.3 390.4 L145.3 388.4 L146.3 388.9 L147.3 385.2 L148.3 387.0 L149.3 385.5 L150.3 383.4 L151.3 383.6 L152.3 382.6 L153.3 381.2 L154.3 380.3 L155.3 378.6 L156.3 379.0 L157.3 378.7 L158.3 378.9 L159.3 378.8 L160.3 377.5 L161.3 379.9 L162.3 379.2 L163.3 380.5 L164.3 381.9 L165.3 383.0 L166.3 383.4 L167.3 384.8 L168.3 385.9 L169.3 386.7 L170.3 387.8 L171.3 389.0 L172.3 390.3 L173.3 390.0 L174.3 390.4 L175.3 393.2 L176.3 393.3 L177.3 392.3 L178.3 395.7 L179.3 396.3 L180.3 394.5 L181.3 395.2 L182.3 395.7 L183.3 395.0 L184.3 395.3 L185.3 395.4 L186.3 395.9 L187.3 392.9 L188.3 394.5 L189.3 394.9 L190.3 391.9 L191.3 393.5 L192.3 392.7 L193.3 391.8 L194.3 392.4 L195.3 392.4 L196.3 391.9 L197.3 392.5 L198.3 390.4 L199.3 389.5 L200.3 390.9 L201.3 391.7 L202.3 392.8 L203.3 392.7 L204.3 392.2 L205.3 394.1 L206.3 393.8 L207.3 394.0 L208.3 394.1 L209.3 394.9 L210.3 395.2 L211.3 395.0 L212.3 393.3 L213.3 394.5 L214.3 395.5 L215.3 396.3 L216.3 396.0 L217.3 395.8 L218.3 396.2 L219.3 395.4 L220.3 395.7 L221.3 395.4 L222.3 394.7 L223.3 393.7 L224.3 392.9 L225.3 394.4 L226.3 392.9 L227.3 393.6 L228.3 394.1 L229.3 392.8 L230.3 393.8 L231.3 393.0 L232.3 392.0 L233.3 393.0 L234.3 392.9 L235.3 391.7 L236.3 392.3 L237.3 390.8 L238.3 391.6 L239.3 391.5 L240.3 390.3 L241.3 391.0 L242.3 391.8 L243.3 390.0 L244.3 389.5 L245.3 389.1 L246.3 389.4 L247.3 388.9 L248.3 388.3 L249.3 389.5 L250.3 389.5 L251.3 388.3 L252.3 388.9 L253.3 389.4 L254.3 388.8 L255.3 388.5 L256.3 388.6 L257.3 387.4 L258.3 388.4 L259.3 388.9 L260.3 386.8 L261.3 385.6 L262.3 386.3 L263.3 385.8 L264.3 386.5 L265.3 387.0 L266.3 386.3 L267.3 386.9 L268.3 385.6 L269.3 385.0 L270.3 383.1 L271.3 384.5 L272.3 383.3 L273.3 383.0 L274.3 382.8 L275.3 383.8 L276.3 382.8 L277.3 381.8 L278.3 380.3 L279.3 380.6 L280.3 380.4 L281.3 380.9 L282.3 380.3 L283.3 379.9 L284.3 378.4 L285.3 379.5 L286.3 380.4 L287.3 376.9 L288.3 376.8 L289.3 377.2 L290.3 377.5 L291.3 376.6 L292.3 376.1 L293.3 376.8 L294.3 374.5 L295.3 373.5 L296.3 373.6 L297.3 375.1 L298.3 375.1 L299.3 373.9 L300.3 373.0 L301.3 373.4 L302.3 374.3 L303.3 374.9 L304.3 373.8 L305.3 373.8 L306.3 374.0 L307.3 374.5 L308.3 375.7 L309.3 375.6 L310.3 376.2 L311.3 376.5 L312.3 377.2 L313.3 376.8 L314.3 377.7 L315.3 379.4 L316.3 379.9 L317.3 381.0 L318.3 380.6 L319.3 380.5 L320.3 381.4 L321.3 381.6 L322.3 382.4 L323.3 381.8 L324.3 382.3 L325.3 382.2 L326.3 382.0 L327.3 381.9 L328.3 380.4 L329.3 381.7 L330.3 381.8 L331.3 380.9 L332.3 381.1 L333.3 379.8 L334.3 378.7 L335.3 379.1 L336.3 378.3 L337.3 377.8 L338.3 378.6 L339.3 376.1 L340.3 376.9 L341.3 374.8 L342.3 373.1 L343.3 374.0 L344.3 372.6 L345.3 371.8 L346.3 370.9 L347.3 370.6 L348.3 369.3 L349.3 368.1 L350.3 367.6 L351.3 367.5 L352.3 366.4 L353.3 367.0 L354.3 365.2 L355.3 366.9 L356.3 367.5 L357.3 368.6 L358.3 368.1 L359.3 369.6 L360.3 371.0 L361.3 373.8 L362.3 372.8 L363.3 374.0 L364.3 373.9 L365.3 376.6 L366.3 375.4 L367.3 375.7 L368.3 376.1 L369.3 375.0 L370.3 375.1 L371.3 375.4 L372.3 374.8 L373.3 375.9 L374.3 374.5 L375.3 376.3 L376.3 374.5 L377.3 373.4 L378.3 373.7 L379.3 373.8 L380.3 372.9 L381.3 373.0 L382.3 372.2 L383.3 371.5 L384.3 371.9 L385.3 373.1 L386.3 371.4 L387.3 371.7 L388.3 370.8 L389.3 371.8 L390.3 373.1 L391.3 373.3 L392.3 375.1 L393.3 375.8 L394.3 375.7 L395.3 376.8 L396.3 378.3 L397.3 378.9 L398.3 379.1 L399.3 378.6 L400.3 381.6 L401.3 381.2 L402.3 382.0 L403.3 382.0 L404.3 384.3 L405.3 383.7 L406.3 384.4 L407.3 383.2 L408.3 384.7 L409.3 385.1 L410.3 385.5 L411.3 385.7 L412.3 385.0 L413.3 385.9 L414.3 385.1 L415.3 385.0 L416.3 385.1 L417.3 383.9 L418.3 383.5 L419.3 386.5 L420.3 383.8 L421.3 384.7 L422.3 385.6 L423.3 384.6 L424.3 385.9 L425.3 383.7 L426.3 385.2 L427.3 385.6 L428.3 386.7 L429.3 386.2 L430.3 384.6 L431.3 385.8 L432.3 385.3 L433.3 384.2 L434.3 384.8 L435.3 385.9 L436.3 385.0 L437.3 384.5 L438.3 384.7 L439.3 384.3 L440.3 384.1 L441.3 385.5 L442.3 385.6 L443.3 386.0 L444.3 384.1 L445.3 384.5 L446.3 385.6 L447.3 385.4 L448.3 385.1 L449.3 384.3 L450.3 384.9 L451.3 384.0 L452.3 386.1 L453.3 385.3 L454.3 384.0 L455.3 385.5 L456.3 383.7 L457.3 384.8 L458.3 384.4 L459.3 383.9 L460.3 385.0 L461.3 382.7 L462.3 383.5 L463.3 383.3 L464.3 382.1 L465.3 382.1 L466.3 383.1 L467.3 383.0 L468.3 381.9 L469.3 382.8 L470.3 382.5 L471.3 382.5 L472.3 381.5 L473.3 381.4 L474.3 381.6 L475.3 380.5 L476.3 380.0 L477.3 379.4 L478.3 380.4 L479.3 380.5 L480.3 377.8 L481.3 378.5 L482.3 378.7 L483.3 378.7 L484.3 377.3 L485.3 375.9 L486.3 376.4 L487.3 376.8 L488.3 374.5 L489.3 373.9 L490.3 373.9 L491.3 371.1 L492.3 372.7 L493.3 373.3 L494.3 373.4 L495.3 373.3 L496.3 373.6 L497.3 374.2 L498.3 374.4 L499.3 375.8 L500.3 376.1 L501.3 377.6 L502.3 378.1 L503.3 378.3 L504.3 379.0 L505.3 379.8 L506.3 379.3 L507.3 381.2 L508.3 381.3 L509.3 382.1 L510.3 381.9 L511.3 382.4 L512.3 383.1 L513.3 383.5 L514.3 383.6 L515.3 384.0 L516.3 384.3 L517.3 384.7 L518.3 384.8 L519.3 385.1 L520.3 385.3 L521.3 387.3 L522.3 386.1 L523.3 386.9 L524.3 386.5 L525.3 387.6 L526.3 388.7 L527.3 387.6 L528.3 388.5 L529.3 388.6 L530.3 389.5 L531.3 389.1 L532.3 389.3 L533.3 389.4 L534.3 388.4 L535.3 390.8 L536.3 391.4 L537.3 389.8 L538.3 391.2 L539.3 390.7 L540.3 391.9 L541.3 390.7 L542.3 391.5 L543.3 392.2 L544.3 391.8 L545.3 391.7 L546.3 391.6 L547.3 391.3 L548.3 391.9 L549.3 391.2 L550.3 393.2 L551.3 392.5 L552.3 392.1 L553.3 391.2 L554.3 393.2 L555.3 393.4 L556.3 392.9 L557.3 393.3 L558.3 393.4 L559.3 392.8 L560.3 392.8 L561.3 393.1 L562.3 394.0 L563.3 392.8 L564.3 392.2 L565.3 393.5 L566.3 393.6 L567.3 393.6 L568.3 393.8 L569.3 393.0 L570.3 393.3 L571.3 393.7" stroke="#8000ff" stroke-width="1.9" fill="none" stroke-linejoin="round"/>
<path d="M66.3 2.2 H571.5 V415.4 H66.3 Z" stroke="#000" stroke-width="2" fill="none"/>
<path d="M58.0 2.2 H66.3" stroke="#000" stroke-width="2"/>
<path d="M58.0 58.0 H66.3" stroke="#000" stroke-width="2"/>
<path d="M58.0 113.8 H66.3" stroke="#000" stroke-width="2"/>
<path d="M58.0 169.59999999999997 H66.3" stroke="#000" stroke-width="2"/>
<path d="M58.0 225.39999999999998 H66.3" stroke="#000" stroke-width="2"/>
<path d="M58.0 281.2 H66.3" stroke="#000" stroke-width="2"/>
<path d="M58.0 336.99999999999994 H66.3" stroke="#000" stroke-width="2"/>
<path d="M58.0 392.79999999999995 H66.3" stroke="#000" stroke-width="2"/>
<path d="M61.0 30.099999999999998 H66.3" stroke="#000" stroke-width="2"/>
<path d="M61.0 85.89999999999999 H66.3" stroke="#000" stroke-width="2"/>
<path d="M61.0 141.7 H66.3" stroke="#000" stroke-width="2"/>
<path d="M61.0 197.49999999999997 H66.3" stroke="#000" stroke-width="2"/>
<path d="M61.0 253.29999999999998 H66.3" stroke="#000" stroke-width="2"/>
<path d="M61.0 309.09999999999997 H66.3" stroke="#000" stroke-width="2"/>
<path d="M61.0 364.9 H66.3" stroke="#000" stroke-width="2"/>
<path d="M66.3 415.4 V422.4" stroke="#000" stroke-width="2"/>
<text x="66.3" y="446" font-size="23" text-anchor="middle" >1000</text>
<path d="M138.5 415.4 V418.9" stroke="#000" stroke-width="2"/>
<path d="M210.6 415.4 V422.4" stroke="#000" stroke-width="2"/>
<text x="210.6" y="446" font-size="23" text-anchor="middle" >1200</text>
<path d="M282.8 415.4 V418.9" stroke="#000" stroke-width="2"/>
<path d="M355.0 415.4 V422.4" stroke="#000" stroke-width="2"/>
<text x="355.0" y="446" font-size="23" text-anchor="middle" >1400</text>
<path d="M427.2 415.4 V418.9" stroke="#000" stroke-width="2"/>
<path d="M499.3 415.4 V422.4" stroke="#000" stroke-width="2"/>
<text x="499.3" y="446" font-size="23" text-anchor="middle" >1600</text>
<path d="M571.5 415.4 V418.9" stroke="#000" stroke-width="2"/>
<rect x="573" y="43.6" width="98.39999999999998" height="329.7" fill="#fff" stroke="#000" stroke-width="2"/>
<path d="M578.3 60.3 H619.5" stroke="#000000" stroke-width="1.6"/>
<text x="623.6" y="65.8" font-size="16" letter-spacing="1.5">-1.2v</text>
<path d="M578.3 84.4 H619.5" stroke="#ff0000" stroke-width="1.6"/>
<text x="623.6" y="89.9" font-size="16" letter-spacing="1.5">-1.1v</text>
<path d="M578.3 106.9 H619.5" stroke="#0000ff" stroke-width="1.6"/>
<text x="623.6" y="112.4" font-size="16" letter-spacing="1.5">-1.0v</text>
<path d="M578.3 130.0 H619.5" stroke="#008080" stroke-width="1.6"/>
<text x="623.6" y="135.5" font-size="16" letter-spacing="1.5">-0.9v</text>
<path d="M578.3 152.9 H619.5" stroke="#ff00ff" stroke-width="1.6"/>
<text x="623.6" y="158.4" font-size="16" letter-spacing="1.5">-0.8v</text>
<path d="M578.3 176.6 H619.5" stroke="#808000" stroke-width="1.6"/>
<text x="623.6" y="182.1" font-size="16" letter-spacing="1.5">-0.7v</text>
<path d="M578.3 200.4 H619.5" stroke="#000080" stroke-width="1.6"/>
<text x="623.6" y="205.9" font-size="16" letter-spacing="1.5">-0.6v</text>
<path d="M578.3 223.3 H619.5" stroke="#800000" stroke-width="1.6"/>
<text x="623.6" y="228.8" font-size="16" letter-spacing="1.5">-0.5v</text>
<path d="M578.3 246.6 H619.5" stroke="#ff0080" stroke-width="1.6"/>
<text x="623.6" y="252.1" font-size="16" letter-spacing="1.5">-0.4v</text>
<path d="M578.3 269.1 H619.5" stroke="#008000" stroke-width="1.6"/>
<text x="623.6" y="274.6" font-size="16" letter-spacing="1.5">-0.3v</text>
<path d="M578.3 292.8 H619.5" stroke="#0000a0" stroke-width="1.6"/>
<text x="623.6" y="298.3" font-size="16" letter-spacing="1.5">-0.2v</text>
<path d="M578.3 316.6 H619.5" stroke="#ff8000" stroke-width="1.6"/>
<text x="623.6" y="322.1" font-size="16" letter-spacing="1.5">-0.1v</text>
<path d="M578.3 339.4 H619.5" stroke="#800080" stroke-width="1.6"/>
<text x="623.6" y="344.9" font-size="16" letter-spacing="1.6">0v</text>
<path d="M578.3 362.9 H619.5" stroke="#8000ff" stroke-width="1.6"/>
<text x="623.6" y="368.4" font-size="16" letter-spacing="2.6">no</text>
<path d="M62.2 587.7 L63.2 588.1 L64.2 588.3 L65.2 587.9 L66.2 587.6 L67.2 587.0 L68.2 587.4 L69.2 586.6 L70.2 587.2 L71.2 588.0 L72.2 588.0 L73.2 586.9 L74.2 588.4 L75.2 585.9 L76.2 587.9 L77.2 587.5 L78.2 587.4 L79.2 587.8 L80.2 587.2 L81.2 589.0 L82.2 587.1 L83.2 587.1 L84.2 587.5 L85.2 585.9 L86.2 587.1 L87.2 586.2 L88.2 588.0 L89.2 586.7 L90.2 586.9 L91.2 585.6 L92.2 588.1 L93.2 585.5 L94.2 585.6 L95.2 586.0 L96.2 584.9 L97.2 585.4 L98.2 586.0 L99.2 586.9 L100.2 586.9 L101.2 585.2 L102.2 585.5 L103.2 586.3 L104.2 586.6 L105.2 585.1 L106.2 585.4 L107.2 585.4 L108.2 585.4 L109.2 585.1 L110.2 586.4 L111.2 584.9 L112.2 585.8 L113.2 585.2 L114.2 587.2 L115.2 585.7 L116.2 583.2 L117.2 584.9 L118.2 582.9 L119.2 585.2 L120.2 583.9 L121.2 582.6 L122.2 583.3 L123.2 583.7 L124.2 584.9 L125.2 583.9 L126.2 584.1 L127.2 583.2 L128.2 583.2 L129.2 582.4 L130.2 583.0 L131.2 583.0 L132.2 583.0 L133.2 582.3 L134.2 582.5 L135.2 582.1 L136.2 582.4 L137.2 581.5 L138.2 581.3 L139.2 580.6 L140.2 580.1 L141.2 579.7 L142.2 578.8 L143.2 580.4 L144.2 580.2 L145.2 579.7 L146.2 580.0 L147.2 578.6 L148.2 579.0 L149.2 579.1 L150.2 579.6 L151.2 580.0 L152.2 580.1 L153.2 578.2 L154.2 578.6 L155.2 578.7 L156.2 577.0 L157.2 577.0 L158.2 574.8 L159.2 575.5 L160.2 574.7 L161.2 572.6 L162.2 573.8 L163.2 573.6 L164.2 573.1 L165.2 572.7 L166.2 573.8 L167.2 574.4 L168.2 576.0 L169.2 576.5 L170.2 577.6 L171.2 577.0 L172.2 578.1 L173.2 577.6 L174.2 577.6 L175.2 578.4 L176.2 578.1 L177.2 578.4 L178.2 579.8 L179.2 580.0 L180.2 579.1 L181.2 579.1 L182.2 579.6 L183.2 579.2 L184.2 580.0 L185.2 579.0 L186.2 578.0 L187.2 578.0 L188.2 578.6 L189.2 579.4 L190.2 578.0 L191.2 576.3 L192.2 576.4 L193.2 576.9 L194.2 576.5 L195.2 576.6 L196.2 577.8 L197.2 575.4 L198.2 575.3 L199.2 575.9 L200.2 575.8 L201.2 575.7 L202.2 576.0 L203.2 575.2 L204.2 575.8 L205.2 574.9 L206.2 574.8 L207.2 573.1 L208.2 573.5 L209.2 573.6 L210.2 574.1 L211.2 572.9 L212.2 572.5 L213.2 572.4 L214.2 573.9 L215.2 571.4 L216.2 572.5 L217.2 572.2 L218.2 573.1 L219.2 572.4 L220.2 571.6 L221.2 572.3 L222.2 572.6 L223.2 571.3 L224.2 570.3 L225.2 570.6 L226.2 571.4 L227.2 570.6 L228.2 571.4 L229.2 572.1 L230.2 571.4 L231.2 572.7 L232.2 571.0 L233.2 570.2 L234.2 571.2 L235.2 571.7 L236.2 570.0 L237.2 571.2 L238.2 572.1 L239.2 571.0 L240.2 572.1 L241.2 569.6 L242.2 571.1 L243.2 569.4 L244.2 569.3 L245.2 569.5 L246.2 571.3 L247.2 570.7 L248.2 571.4 L249.2 569.8 L250.2 569.1 L251.2 570.9 L252.2 569.8 L253.2 569.1 L254.2 570.7 L255.2 570.9 L256.2 569.5 L257.2 570.1 L258.2 570.3 L259.2 569.2 L260.2 569.2 L261.2 569.9 L262.2 570.8 L263.2 568.9 L264.2 570.1 L265.2 569.8 L266.2 569.4 L267.2 569.0 L268.2 568.4 L269.2 569.3 L270.2 568.4 L271.2 566.2 L272.2 567.8 L273.2 566.4 L274.2 566.3 L275.2 567.2 L276.2 565.4 L277.2 563.1 L278.2 563.8 L279.2 562.9 L280.2 564.1 L281.2 560.5 L282.2 563.0 L283.2 562.2 L284.2 561.6 L285.2 561.8 L286.2 562.5 L287.2 559.5 L288.2 560.1 L289.2 560.1 L290.2 559.9 L291.2 559.3 L292.2 559.5 L293.2 559.0 L294.2 558.2 L295.2 556.8 L296.2 558.3 L297.2 558.6 L298.2 558.0 L299.2 557.0 L300.2 557.2 L301.2 554.8 L302.2 556.1 L303.2 555.4 L304.2 554.8 L305.2 555.4 L306.2 554.1 L307.2 553.8 L308.2 553.1 L309.2 552.3 L310.2 553.1 L311.2 554.5 L312.2 554.4 L313.2 552.4 L314.2 552.7 L315.2 553.5 L316.2 551.4 L317.2 551.6 L318.2 550.6 L319.2 552.7 L320.2 550.8 L321.2 550.8 L322.2 550.9 L323.2 550.2 L324.2 552.6 L325.2 551.5 L326.2 552.1 L327.2 548.9 L328.2 550.9 L329.2 550.2 L330.2 549.4 L331.2 550.2 L332.2 551.2 L333.2 550.8 L334.2 549.4 L335.2 552.2 L336.2 550.3 L337.2 548.6 L338.2 548.4 L339.2 548.3 L340.2 548.5 L341.2 547.9 L342.2 547.5 L343.2 548.3 L344.2 546.8 L345.2 547.1 L346.2 546.3 L347.2 546.5 L348.2 547.6 L349.2 546.9 L350.2 547.7 L351.2 547.4 L352.2 548.7 L353.2 548.2 L354.2 549.7 L355.2 548.7 L356.2 551.4 L357.2 551.9 L358.2 551.8 L359.2 552.9 L360.2 552.6 L361.2 554.5 L362.2 555.5 L363.2 555.5 L364.2 557.2 L365.2 555.3 L366.2 557.2 L367.2 556.9 L368.2 557.9 L369.2 559.4 L370.2 559.2 L371.2 560.8 L372.2 559.9 L373.2 560.2 L374.2 561.0 L375.2 560.6 L376.2 561.6 L377.2 562.6 L378.2 563.7 L379.2 562.4 L380.2 562.7 L381.2 562.2 L382.2 562.3 L383.2 563.2 L384.2 563.3 L385.2 563.4 L386.2 562.9 L387.2 563.8 L388.2 561.6 L389.2 562.8 L390.2 563.2 L391.2 562.4 L392.2 562.8 L393.2 562.2 L394.2 562.0 L395.2 562.3 L396.2 561.7 L397.2 562.0 L398.2 562.4 L399.2 561.1 L400.2 562.3 L401.2 562.6 L402.2 562.9 L403.2 561.3 L404.2 562.3 L405.2 560.0 L406.2 560.3 L407.2 561.2 L408.2 560.3 L409.2 560.3 L410.2 560.1 L411.2 560.5 L412.2 560.2 L413.2 559.8 L414.2 560.4 L415.2 559.9 L416.2 560.2 L417.2 560.3 L418.2 560.3 L419.2 559.5 L420.2 559.2 L421.2 559.0 L422.2 558.3 L423.2 559.2 L424.2 558.5 L425.2 559.1 L426.2 558.3 L427.2 557.5 L428.2 558.3 L429.2 557.2 L430.2 557.2 L431.2 557.4 L432.2 557.1 L433.2 556.2 L434.2 557.2 L435.2 556.8 L436.2 556.5 L437.2 556.4 L438.2 556.7 L439.2 555.5 L440.2 557.7 L441.2 555.0 L442.2 556.2 L443.2 556.4 L444.2 557.6 L445.2 557.5 L446.2 557.9 L447.2 556.9 L448.2 558.9 L449.2 558.8 L450.2 556.7 L451.2 558.5 L452.2 556.9 L453.2 558.0 L454.2 558.8 L455.2 558.4 L456.2 557.4 L457.2 557.8 L458.2 559.0 L459.2 558.3 L460.2 558.7 L461.2 556.9 L462.2 558.4 L463.2 558.1 L464.2 557.2 L465.2 558.9 L466.2 557.8 L467.2 558.4 L468.2 557.3 L469.2 557.9 L470.2 557.9 L471.2 557.4 L472.2 557.4 L473.2 557.5 L474.2 557.2 L475.2 556.2 L476.2 557.3 L477.2 556.9 L478.2 557.1 L479.2 556.3 L480.2 557.9 L481.2 557.3 L482.2 557.6 L483.2 557.8 L484.2 556.9 L485.2 555.6 L486.2 554.2 L487.2 555.1 L488.2 553.6 L489.2 553.1 L490.2 552.8 L491.2 551.2 L492.2 550.4 L493.2 551.4 L494.2 551.0 L495.2 550.9 L496.2 552.0 L497.2 551.9 L498.2 552.8 L499.2 552.0 L500.2 553.0 L501.2 553.3 L502.2 554.0 L503.2 554.1 L504.2 555.6 L505.2 554.8 L506.2 556.8 L507.2 558.1 L508.2 558.1 L509.2 558.9 L510.2 559.1 L511.2 560.7 L512.2 561.7 L513.2 562.3 L514.2 563.2 L515.2 564.1 L516.2 564.7 L517.2 564.1 L518.2 565.5 L519.2 567.2 L520.2 569.7 L521.2 569.8 L522.2 569.9 L523.2 570.5 L524.2 571.0 L525.2 572.3 L526.2 572.1 L527.2 572.8 L528.2 572.5 L529.2 573.3 L530.2 573.2 L531.2 573.8 L532.2 574.4 L533.2 575.9 L534.2 575.6 L535.2 576.4 L536.2 575.6 L537.2 576.4 L538.2 576.1 L539.2 576.6 L540.2 576.9 L541.2 576.1 L542.2 577.5 L543.2 576.8 L544.2 578.1 L545.2 577.5 L546.2 577.0 L547.2 577.4 L548.2 577.7 L549.2 579.5 L550.2 577.8 L551.2 578.5 L552.2 579.0 L553.2 578.9 L554.2 579.1 L555.2 579.8 L556.2 578.9 L557.2 580.7 L558.2 580.6 L559.2 579.8 L560.2 580.8 L561.2 580.0 L562.2 579.6 L563.2 579.2 L564.2 579.6 L565.2 580.5 L566.2 580.4 L567.2 581.3 L568.2 581.3 L569.2 580.8" stroke="#000000" stroke-width="1.9" fill="none" stroke-linejoin="round"/>
<path d="M62.2 603.9 L63.2 605.0 L64.2 603.7 L65.2 602.1 L66.2 603.6 L67.2 604.1 L68.2 604.1 L69.2 604.1 L70.2 604.2 L71.2 601.8 L72.2 605.2 L73.2 604.0 L74.2 603.6 L75.2 602.1 L76.2 604.1 L77.2 602.7 L78.2 602.0 L79.2 603.8 L80.2 603.7 L81.2 603.2 L82.2 602.6 L83.2 603.5 L84.2 603.2 L85.2 603.3 L86.2 603.3 L87.2 601.8 L88.2 603.1 L89.2 601.8 L90.2 602.9 L91.2 602.2 L92.2 602.0 L93.2 603.4 L94.2 602.3 L95.2 602.2 L96.2 602.5 L97.2 603.3 L98.2 599.6 L99.2 601.9 L100.2 601.4 L101.2 602.1 L102.2 601.1 L103.2 600.9 L104.2 601.2 L105.2 600.6 L106.2 599.8 L107.2 600.3 L108.2 601.4 L109.2 600.3 L110.2 598.0 L111.2 599.4 L112.2 598.5 L113.2 599.7 L114.2 598.0 L115.2 598.5 L116.2 598.7 L117.2 598.7 L118.2 597.5 L119.2 597.9 L120.2 599.1 L121.2 596.8 L122.2 597.1 L123.2 596.3 L124.2 596.6 L125.2 596.8 L126.2 596.3 L127.2 596.5 L128.2 594.9 L129.2 595.6 L130.2 595.0 L131.2 592.9 L132.2 595.5 L133.2 594.4 L134.2 593.5 L135.2 594.2 L136.2 593.3 L137.2 590.1 L138.2 590.5 L139.2 590.5 L140.2 588.0 L141.2 587.7 L142.2 585.3 L143.2 585.4 L144.2 585.5 L145.2 587.5 L146.2 587.5 L147.2 585.1 L148.2 587.7 L149.2 585.5 L150.2 585.7 L151.2 585.9 L152.2 584.7 L153.2 584.4 L154.2 583.6 L155.2 583.0 L156.2 579.3 L157.2 575.8 L158.2 572.2 L159.2 571.2 L160.2 567.1 L161.2 564.5 L162.2 562.2 L163.2 560.6 L164.2 561.1 L165.2 560.9 L166.2 561.4 L167.2 563.2 L168.2 568.8 L169.2 568.6 L170.2 570.8 L171.2 572.9 L172.2 575.4 L173.2 575.5 L174.2 578.2 L175.2 580.7 L176.2 581.4 L177.2 584.4 L178.2 586.9 L179.2 587.3 L180.2 587.9 L181.2 588.7 L182.2 588.7 L183.2 588.5 L184.2 588.3 L185.2 589.3 L186.2 587.2 L187.2 587.3 L188.2 588.6 L189.2 588.6 L190.2 587.5 L191.2 586.5 L192.2 585.6 L193.2 586.9 L194.2 586.0 L195.2 585.5 L196.2 584.8 L197.2 583.0 L198.2 582.5 L199.2 582.4 L200.2 582.0 L201.2 580.7 L202.2 581.0 L203.2 581.8 L204.2 583.0 L205.2 583.8 L206.2 582.3 L207.2 581.9 L208.2 582.4 L209.2 582.3 L210.2 581.6 L211.2 579.9 L212.2 582.5 L213.2 582.0 L214.2 582.5 L215.2 581.8 L216.2 582.4 L217.2 582.8 L218.2 581.7 L219.2 582.2 L220.2 583.2 L221.2 583.3 L222.2 581.4 L223.2 583.3 L224.2 583.6 L225.2 582.8 L226.2 582.8 L227.2 582.4 L228.2 582.5 L229.2 581.7 L230.2 582.8 L231.2 581.7 L232.2 580.5 L233.2 581.8 L234.2 581.9 L235.2 581.4 L236.2 580.2 L237.2 581.2 L238.2 578.4 L239.2 581.7 L240.2 580.7 L241.2 578.8 L242.2 578.5 L243.2 581.8 L244.2 580.0 L245.2 579.2 L246.2 579.9 L247.2 579.4 L248.2 579.3 L249.2 579.6 L250.2 579.5 L251.2 578.4 L252.2 579.3 L253.2 579.1 L254.2 578.1 L255.2 579.5 L256.2 579.1 L257.2 577.8 L258.2 579.8 L259.2 578.7 L260.2 579.2 L261.2 577.5 L262.2 577.5 L263.2 577.8 L264.2 577.1 L265.2 577.2 L266.2 576.1 L267.2 578.5 L268.2 577.1 L269.2 577.4 L270.2 577.3 L271.2 575.4 L272.2 576.3 L273.2 572.3 L274.2 572.9 L275.2 571.9 L276.2 571.4 L277.2 569.7 L278.2 570.3 L279.2 570.3 L280.2 568.3 L281.2 567.9 L282.2 565.3 L283.2 566.0 L284.2 566.4 L285.2 565.2 L286.2 565.6 L287.2 564.7 L288.2 565.0 L289.2 563.3 L290.2 564.5 L291.2 564.9 L292.2 564.0 L293.2 564.8 L294.2 562.9 L295.2 563.4 L296.2 561.5 L297.2 562.9 L298.2 562.3 L299.2 561.5 L300.2 562.3 L301.2 560.4 L302.2 560.9 L303.2 561.1 L304.2 559.9 L305.2 559.7 L306.2 560.9 L307.2 559.7 L308.2 558.9 L309.2 559.1 L310.2 558.9 L311.2 558.5 L312.2 559.1 L313.2 557.9 L314.2 557.4 L315.2 558.3 L316.2 558.0 L317.2 558.7 L318.2 556.5 L319.2 556.8 L320.2 557.7 L321.2 556.8 L322.2 555.8 L323.2 555.1 L324.2 555.8 L325.2 554.6 L326.2 553.3 L327.2 552.8 L328.2 552.0 L329.2 552.0 L330.2 548.3 L331.2 548.6 L332.2 548.7 L333.2 545.3 L334.2 544.6 L335.2 543.4 L336.2 539.4 L337.2 537.3 L338.2 534.3 L339.2 532.3 L340.2 528.7 L341.2 524.8 L342.2 522.0 L343.2 519.0 L344.2 517.4 L345.2 514.4 L346.2 512.8 L347.2 511.2 L348.2 511.8 L349.2 512.1 L350.2 511.7 L351.2 512.4 L352.2 517.6 L353.2 517.0 L354.2 520.5 L355.2 525.7 L356.2 532.1 L357.2 536.0 L358.2 540.0 L359.2 545.4 L360.2 547.7 L361.2 550.6 L362.2 551.2 L363.2 554.2 L364.2 554.9 L365.2 555.2 L366.2 555.4 L367.2 558.5 L368.2 558.9 L369.2 558.5 L370.2 559.3 L371.2 560.2 L372.2 560.9 L373.2 561.5 L374.2 562.1 L375.2 562.6 L376.2 562.6 L377.2 564.9 L378.2 563.6 L379.2 563.7 L380.2 564.9 L381.2 564.2 L382.2 565.6 L383.2 565.7 L384.2 566.8 L385.2 565.7 L386.2 565.5 L387.2 568.3 L388.2 567.8 L389.2 569.8 L390.2 569.6 L391.2 569.2 L392.2 570.3 L393.2 569.7 L394.2 570.2 L395.2 571.2 L396.2 571.5 L397.2 570.3 L398.2 572.1 L399.2 571.8 L400.2 572.1 L401.2 570.1 L402.2 571.4 L403.2 570.3 L404.2 570.2 L405.2 571.1 L406.2 570.1 L407.2 570.1 L408.2 570.1 L409.2 570.0 L410.2 568.1 L411.2 567.8 L412.2 568.5 L413.2 568.4 L414.2 567.2 L415.2 567.8 L416.2 566.7 L417.2 567.0 L418.2 566.9 L419.2 567.0 L420.2 567.1 L421.2 566.2 L422.2 566.4 L423.2 565.5 L424.2 566.5 L425.2 566.2 L426.2 565.2 L427.2 566.9 L428.2 565.3 L429.2 565.0 L430.2 564.8 L431.2 565.2 L432.2 565.0 L433.2 564.3 L434.2 565.1 L435.2 565.4 L436.2 565.7 L437.2 565.1 L438.2 564.5 L439.2 564.2 L440.2 565.3 L441.2 566.0 L442.2 566.9 L443.2 565.2 L444.2 564.9 L445.2 565.2 L446.2 566.3 L447.2 566.7 L448.2 565.9 L449.2 565.7 L450.2 565.3 L451.2 567.3 L452.2 565.7 L453.2 567.2 L454.2 566.6 L455.2 565.2 L456.2 565.6 L457.2 567.0 L458.2 566.0 L459.2 565.6 L460.2 566.3 L461.2 565.1 L462.2 565.0 L463.2 564.7 L464.2 564.4 L465.2 564.9 L466.2 563.6 L467.2 564.6 L468.2 564.8 L469.2 563.3 L470.2 564.0 L471.2 563.0 L472.2 564.0 L473.2 565.0 L474.2 565.0 L475.2 564.2 L476.2 565.0 L477.2 565.0 L478.2 564.7 L479.2 564.5 L480.2 565.3 L481.2 561.3 L482.2 562.0 L483.2 562.2 L484.2 560.7 L485.2 560.1 L486.2 558.9 L487.2 557.0 L488.2 555.5 L489.2 553.4 L490.2 552.5 L491.2 552.1 L492.2 551.9 L493.2 551.6 L494.2 551.3 L495.2 551.5 L496.2 550.9 L497.2 552.5 L498.2 552.5 L499.2 553.5 L500.2 554.9 L501.2 556.6 L502.2 558.2 L503.2 559.6 L504.2 560.2 L505.2 562.0 L506.2 564.0 L507.2 564.7 L508.2 566.4 L509.2 567.4 L510.2 569.7 L511.2 571.0 L512.2 572.9 L513.2 571.8 L514.2 573.8 L515.2 573.2 L516.2 575.6 L517.2 576.4 L518.2 576.7 L519.2 578.9 L520.2 578.9 L521.2 578.4 L522.2 581.4 L523.2 581.1 L524.2 582.3 L525.2 581.8 L526.2 582.2 L527.2 582.3 L528.2 582.9 L529.2 584.7 L530.2 585.0 L531.2 583.8 L532.2 585.4 L533.2 585.8 L534.2 585.6 L535.2 586.8 L536.2 586.3 L537.2 587.9 L538.2 587.3 L539.2 588.0 L540.2 585.6 L541.2 588.0 L542.2 588.6 L543.2 588.4 L544.2 588.9 L545.2 588.6 L546.2 590.1 L547.2 588.9 L548.2 589.6 L549.2 591.1 L550.2 591.1 L551.2 590.4 L552.2 589.7 L553.2 589.4 L554.2 591.3 L555.2 591.3 L556.2 591.1 L557.2 591.2 L558.2 593.1 L559.2 592.4 L560.2 591.9 L561.2 591.8 L562.2 591.8 L563.2 592.4 L564.2 592.1 L565.2 592.4 L566.2 592.1 L567.2 593.0 L568.2 592.7 L569.2 591.7" stroke="#ff0000" stroke-width="1.9" fill="none" stroke-linejoin="round"/>
<path d="M62.2 625.4 L63.2 623.5 L64.2 622.9 L65.2 622.3 L66.2 623.3 L67.2 622.7 L68.2 624.4 L69.2 623.5 L70.2 622.7 L71.2 621.8 L72.2 623.6 L73.2 621.8 L74.2 623.3 L75.2 623.0 L76.2 620.8 L77.2 622.6 L78.2 623.9 L79.2 622.0 L80.2 621.0 L81.2 621.3 L82.2 622.5 L83.2 622.7 L84.2 623.0 L85.2 622.5 L86.2 621.6 L87.2 621.8 L88.2 621.9 L89.2 621.9 L90.2 621.0 L91.2 622.3 L92.2 622.5 L93.2 621.5 L94.2 621.6 L95.2 620.4 L96.2 621.4 L97.2 620.5 L98.2 620.3 L99.2 621.4 L100.2 620.8 L101.2 620.2 L102.2 619.2 L103.2 620.2 L104.2 621.3 L105.2 620.1 L106.2 619.8 L107.2 620.3 L108.2 620.7 L109.2 619.4 L110.2 619.5 L111.2 618.6 L112.2 618.5 L113.2 618.2 L114.2 618.4 L115.2 617.0 L116.2 617.3 L117.2 617.0 L118.2 616.4 L119.2 615.7 L120.2 616.4 L121.2 615.2 L122.2 614.0 L123.2 615.4 L124.2 613.5 L125.2 614.7 L126.2 611.9 L127.2 613.3 L128.2 614.2 L129.2 612.2 L130.2 612.6 L131.2 610.7 L132.2 609.5 L133.2 608.8 L134.2 608.6 L135.2 607.7 L136.2 606.5 L137.2 604.5 L138.2 602.3 L139.2 599.4 L140.2 598.9 L141.2 599.0 L142.2 595.6 L143.2 597.0 L144.2 597.0 L145.2 595.4 L146.2 596.9 L147.2 596.3 L148.2 596.6 L149.2 595.3 L150.2 593.6 L151.2 591.8 L152.2 589.9 L153.2 591.6 L154.2 588.2 L155.2 586.6 L156.2 583.8 L157.2 580.0 L158.2 574.2 L159.2 568.7 L160.2 560.6 L161.2 555.4 L162.2 552.8 L163.2 551.8 L164.2 550.0 L165.2 552.3 L166.2 556.6 L167.2 561.2 L168.2 565.6 L169.2 568.0 L170.2 574.0 L171.2 578.0 L172.2 583.0 L173.2 585.2 L174.2 588.4 L175.2 592.9 L176.2 594.1 L177.2 598.3 L178.2 600.0 L179.2 599.6 L180.2 602.1 L181.2 602.7 L182.2 602.6 L183.2 602.6 L184.2 604.4 L185.2 603.7 L186.2 603.9 L187.2 603.4 L188.2 603.6 L189.2 603.7 L190.2 603.4 L191.2 602.6 L192.2 601.3 L193.2 600.9 L194.2 600.7 L195.2 600.3 L196.2 598.3 L197.2 596.4 L198.2 596.7 L199.2 596.2 L200.2 594.8 L201.2 595.8 L202.2 594.6 L203.2 595.2 L204.2 595.8 L205.2 597.1 L206.2 595.5 L207.2 597.3 L208.2 598.0 L209.2 597.9 L210.2 599.3 L211.2 598.6 L212.2 598.7 L213.2 599.1 L214.2 599.8 L215.2 599.8 L216.2 601.1 L217.2 600.7 L218.2 599.6 L219.2 601.9 L220.2 600.8 L221.2 599.3 L222.2 599.1 L223.2 600.4 L224.2 601.3 L225.2 599.9 L226.2 600.8 L227.2 601.1 L228.2 600.3 L229.2 599.3 L230.2 598.4 L231.2 598.8 L232.2 600.1 L233.2 599.0 L234.2 598.0 L235.2 598.3 L236.2 598.3 L237.2 599.1 L238.2 597.7 L239.2 599.4 L240.2 598.0 L241.2 597.9 L242.2 596.6 L243.2 597.7 L244.2 597.4 L245.2 597.6 L246.2 596.4 L247.2 596.9 L248.2 595.5 L249.2 595.7 L250.2 598.1 L251.2 595.8 L252.2 595.4 L253.2 596.5 L254.2 595.5 L255.2 597.5 L256.2 595.4 L257.2 595.7 L258.2 594.7 L259.2 595.6 L260.2 594.5 L261.2 596.3 L262.2 593.5 L263.2 594.1 L264.2 594.0 L265.2 592.3 L266.2 592.5 L267.2 591.9 L268.2 590.9 L269.2 592.1 L270.2 589.2 L271.2 589.8 L272.2 589.3 L273.2 589.6 L274.2 588.4 L275.2 588.4 L276.2 587.6 L277.2 585.7 L278.2 583.7 L279.2 583.2 L280.2 579.6 L281.2 577.7 L282.2 577.0 L283.2 578.2 L284.2 579.3 L285.2 578.5 L286.2 577.5 L287.2 578.8 L288.2 579.3 L289.2 577.8 L290.2 578.6 L291.2 578.0 L292.2 577.9 L293.2 578.3 L294.2 578.2 L295.2 577.4 L296.2 577.8 L297.2 576.7 L298.2 577.4 L299.2 577.6 L300.2 577.0 L301.2 576.1 L302.2 576.6 L303.2 577.4 L304.2 577.7 L305.2 577.6 L306.2 577.5 L307.2 577.9 L308.2 576.1 L309.2 577.1 L310.2 575.4 L311.2 577.0 L312.2 576.2 L313.2 574.3 L314.2 575.3 L315.2 575.1 L316.2 573.4 L317.2 573.8 L318.2 573.7 L319.2 573.9 L320.2 571.6 L321.2 572.6 L322.2 570.1 L323.2 569.6 L324.2 570.4 L325.2 569.1 L326.2 566.9 L327.2 567.4 L328.2 565.2 L329.2 563.5 L330.2 561.5 L331.2 557.9 L332.2 557.9 L333.2 556.5 L334.2 553.0 L335.2 549.9 L336.2 545.0 L337.2 541.5 L338.2 533.7 L339.2 531.9 L340.2 526.5 L341.2 522.8 L342.2 518.7 L343.2 515.2 L344.2 512.2 L345.2 510.2 L346.2 506.4 L347.2 505.8 L348.2 503.4 L349.2 505.8 L350.2 506.0 L351.2 510.5 L352.2 512.7 L353.2 515.5 L354.2 519.7 L355.2 526.2 L356.2 531.9 L357.2 537.0 L358.2 542.5 L359.2 544.9 L360.2 549.2 L361.2 551.3 L362.2 554.0 L363.2 559.4 L364.2 560.6 L365.2 563.1 L366.2 563.8 L367.2 565.3 L368.2 566.3 L369.2 568.3 L370.2 567.8 L371.2 567.8 L372.2 568.0 L373.2 568.4 L374.2 569.3 L375.2 568.8 L376.2 569.1 L377.2 570.3 L378.2 570.3 L379.2 570.5 L380.2 571.7 L381.2 570.6 L382.2 570.4 L383.2 570.7 L384.2 572.6 L385.2 573.6 L386.2 575.0 L387.2 574.0 L388.2 574.9 L389.2 576.6 L390.2 577.5 L391.2 577.8 L392.2 580.0 L393.2 582.0 L394.2 582.6 L395.2 585.8 L396.2 585.9 L397.2 585.9 L398.2 587.3 L399.2 587.2 L400.2 590.5 L401.2 588.9 L402.2 588.9 L403.2 589.6 L404.2 588.7 L405.2 588.3 L406.2 588.5 L407.2 589.1 L408.2 588.8 L409.2 586.7 L410.2 586.2 L411.2 587.5 L412.2 586.7 L413.2 586.3 L414.2 587.2 L415.2 586.5 L416.2 585.7 L417.2 586.4 L418.2 585.2 L419.2 585.2 L420.2 586.9 L421.2 585.2 L422.2 585.6 L423.2 584.9 L424.2 584.7 L425.2 584.0 L426.2 583.8 L427.2 585.5 L428.2 586.2 L429.2 584.9 L430.2 584.7 L431.2 583.8 L432.2 584.1 L433.2 585.2 L434.2 586.0 L435.2 584.6 L436.2 584.3 L437.2 584.8 L438.2 584.1 L439.2 583.5 L440.2 583.5 L441.2 584.0 L442.2 584.0 L443.2 582.7 L444.2 583.2 L445.2 585.3 L446.2 585.6 L447.2 585.6 L448.2 584.9 L449.2 584.6 L450.2 585.2 L451.2 585.5 L452.2 584.9 L453.2 586.1 L454.2 584.8 L455.2 583.5 L456.2 585.8 L457.2 585.9 L458.2 585.0 L459.2 585.9 L460.2 585.9 L461.2 583.0 L462.2 585.2 L463.2 583.9 L464.2 585.2 L465.2 584.8 L466.2 585.1 L467.2 584.1 L468.2 583.7 L469.2 584.3 L470.2 585.7 L471.2 584.1 L472.2 582.8 L473.2 583.3 L474.2 583.0 L475.2 583.8 L476.2 582.4 L477.2 581.5 L478.2 581.2 L479.2 579.7 L480.2 579.8 L481.2 577.8 L482.2 577.4 L483.2 576.7 L484.2 574.0 L485.2 572.4 L486.2 571.0 L487.2 570.8 L488.2 568.5 L489.2 566.2 L490.2 565.5 L491.2 564.2 L492.2 562.3 L493.2 561.7 L494.2 563.6 L495.2 562.6 L496.2 564.3 L497.2 563.5 L498.2 565.6 L499.2 565.9 L500.2 568.6 L501.2 570.0 L502.2 571.1 L503.2 572.7 L504.2 573.0 L505.2 575.0 L506.2 576.6 L507.2 577.1 L508.2 579.9 L509.2 581.4 L510.2 583.3 L511.2 584.5 L512.2 586.4 L513.2 588.4 L514.2 589.6 L515.2 591.2 L516.2 591.0 L517.2 594.0 L518.2 593.8 L519.2 596.4 L520.2 595.6 L521.2 597.2 L522.2 598.8 L523.2 599.8 L524.2 599.9 L525.2 600.2 L526.2 601.9 L527.2 602.7 L528.2 601.8 L529.2 602.0 L530.2 602.9 L531.2 603.7 L532.2 602.9 L533.2 603.8 L534.2 605.5 L535.2 604.7 L536.2 605.0 L537.2 607.1 L538.2 607.1 L539.2 607.9 L540.2 606.9 L541.2 607.0 L542.2 607.1 L543.2 606.5 L544.2 606.2 L545.2 608.0 L546.2 607.7 L547.2 608.9 L548.2 609.4 L549.2 607.7 L550.2 608.0 L551.2 609.4 L552.2 610.5 L553.2 610.8 L554.2 609.2 L555.2 610.0 L556.2 611.2 L557.2 609.7 L558.2 609.6 L559.2 611.6 L560.2 610.1 L561.2 609.9 L562.2 612.1 L563.2 610.7 L564.2 610.8 L565.2 611.6 L566.2 612.4 L567.2 611.9 L568.2 611.5 L569.2 611.7" stroke="#0000ff" stroke-width="1.9" fill="none" stroke-linejoin="round"/>
<path d="M62.2 643.3 L63.2 643.3 L64.2 641.8 L65.2 643.3 L66.2 642.1 L67.2 642.6 L68.2 643.3 L69.2 643.1 L70.2 643.5 L71.2 643.2 L72.2 643.6 L73.2 644.7 L74.2 642.4 L75.2 644.1 L76.2 644.7 L77.2 643.0 L78.2 643.0 L79.2 643.2 L80.2 643.6 L81.2 642.7 L82.2 643.0 L83.2 643.2 L84.2 643.3 L85.2 644.2 L86.2 642.7 L87.2 643.6 L88.2 643.5 L89.2 643.0 L90.2 642.8 L91.2 642.0 L92.2 641.9 L93.2 642.6 L94.2 642.4 L95.2 641.8 L96.2 642.8 L97.2 641.8 L98.2 641.6 L99.2 641.3 L100.2 642.1 L101.2 641.5 L102.2 641.2 L103.2 639.8 L104.2 641.8 L105.2 639.2 L106.2 640.3 L107.2 638.9 L108.2 638.3 L109.2 636.8 L110.2 639.0 L111.2 638.8 L112.2 637.9 L113.2 637.5 L114.2 636.4 L115.2 637.0 L116.2 636.4 L117.2 635.0 L118.2 635.3 L119.2 634.9 L120.2 633.8 L121.2 634.9 L122.2 632.5 L123.2 634.4 L124.2 633.2 L125.2 631.4 L126.2 632.4 L127.2 631.4 L128.2 630.9 L129.2 629.4 L130.2 627.8 L131.2 626.1 L132.2 627.0 L133.2 625.5 L134.2 623.6 L135.2 624.0 L136.2 621.2 L137.2 618.2 L138.2 617.6 L139.2 616.5 L140.2 613.5 L141.2 612.7 L142.2 610.6 L143.2 608.8 L144.2 610.0 L145.2 610.1 L146.2 607.6 L147.2 609.8 L148.2 608.5 L149.2 607.0 L150.2 603.7 L151.2 602.4 L152.2 602.9 L153.2 600.6 L154.2 598.2 L155.2 596.4 L156.2 592.7 L157.2 586.8 L158.2 580.3 L159.2 575.6 L160.2 569.7 L161.2 566.0 L162.2 562.0 L163.2 558.0 L164.2 557.8 L165.2 560.1 L166.2 563.4 L167.2 567.3 L168.2 573.7 L169.2 578.5 L170.2 584.2 L171.2 591.2 L172.2 594.7 L173.2 600.1 L174.2 605.0 L175.2 609.4 L176.2 613.8 L177.2 616.0 L178.2 619.5 L179.2 619.8 L180.2 622.8 L181.2 622.2 L182.2 623.0 L183.2 623.2 L184.2 622.4 L185.2 623.3 L186.2 622.0 L187.2 621.6 L188.2 622.2 L189.2 620.7 L190.2 621.2 L191.2 621.0 L192.2 620.3 L193.2 620.1 L194.2 617.8 L195.2 617.8 L196.2 615.0 L197.2 612.7 L198.2 612.4 L199.2 612.8 L200.2 609.5 L201.2 610.9 L202.2 608.3 L203.2 610.1 L204.2 610.2 L205.2 610.2 L206.2 609.6 L207.2 612.7 L208.2 613.7 L209.2 614.7 L210.2 616.2 L211.2 615.9 L212.2 619.0 L213.2 619.0 L214.2 618.5 L215.2 621.2 L216.2 619.9 L217.2 620.3 L218.2 620.5 L219.2 619.2 L220.2 619.1 L221.2 619.6 L222.2 618.8 L223.2 619.4 L224.2 620.5 L225.2 618.5 L226.2 619.3 L227.2 618.6 L228.2 619.5 L229.2 617.9 L230.2 617.8 L231.2 618.3 L232.2 619.8 L233.2 617.4 L234.2 616.6 L235.2 617.0 L236.2 618.1 L237.2 618.1 L238.2 617.2 L239.2 617.3 L240.2 615.9 L241.2 617.1 L242.2 616.5 L243.2 616.0 L244.2 617.1 L245.2 616.9 L246.2 615.7 L247.2 616.0 L248.2 614.3 L249.2 614.8 L250.2 616.4 L251.2 614.4 L252.2 614.4 L253.2 615.7 L254.2 613.0 L255.2 614.0 L256.2 614.8 L257.2 613.7 L258.2 613.2 L259.2 612.8 L260.2 613.5 L261.2 612.3 L262.2 613.0 L263.2 612.3 L264.2 612.1 L265.2 612.6 L266.2 611.1 L267.2 610.3 L268.2 610.5 L269.2 609.9 L270.2 608.7 L271.2 606.6 L272.2 607.3 L273.2 604.4 L274.2 603.0 L275.2 604.0 L276.2 603.2 L277.2 600.7 L278.2 599.2 L279.2 599.6 L280.2 596.1 L281.2 595.5 L282.2 593.8 L283.2 593.7 L284.2 593.2 L285.2 592.5 L286.2 594.0 L287.2 593.9 L288.2 593.6 L289.2 593.7 L290.2 594.2 L291.2 593.6 L292.2 594.7 L293.2 595.0 L294.2 595.8 L295.2 595.5 L296.2 595.5 L297.2 596.1 L298.2 596.6 L299.2 596.3 L300.2 595.8 L301.2 595.5 L302.2 596.8 L303.2 595.8 L304.2 594.8 L305.2 595.9 L306.2 594.3 L307.2 595.2 L308.2 596.0 L309.2 595.3 L310.2 595.0 L311.2 595.7 L312.2 595.8 L313.2 594.0 L314.2 593.7 L315.2 593.7 L316.2 593.1 L317.2 594.0 L318.2 593.8 L319.2 592.8 L320.2 591.7 L321.2 590.8 L322.2 591.4 L323.2 590.4 L324.2 590.5 L325.2 588.2 L326.2 587.4 L327.2 585.9 L328.2 585.1 L329.2 582.9 L330.2 580.5 L331.2 577.8 L332.2 575.6 L333.2 571.0 L334.2 569.2 L335.2 563.3 L336.2 558.6 L337.2 551.6 L338.2 545.2 L339.2 537.4 L340.2 534.3 L341.2 527.4 L342.2 521.8 L343.2 516.3 L344.2 513.2 L345.2 508.6 L346.2 508.7 L347.2 506.2 L348.2 505.0 L349.2 506.6 L350.2 507.6 L351.2 510.1 L352.2 512.4 L353.2 519.5 L354.2 527.5 L355.2 536.4 L356.2 543.0 L357.2 546.6 L358.2 549.7 L359.2 553.8 L360.2 555.6 L361.2 560.8 L362.2 561.4 L363.2 563.6 L364.2 567.6 L365.2 567.5 L366.2 569.1 L367.2 573.0 L368.2 574.9 L369.2 577.9 L370.2 578.8 L371.2 579.2 L372.2 581.8 L373.2 582.4 L374.2 583.9 L375.2 583.3 L376.2 582.3 L377.2 582.5 L378.2 583.0 L379.2 582.7 L380.2 583.2 L381.2 583.2 L382.2 582.2 L383.2 583.2 L384.2 583.6 L385.2 582.2 L386.2 583.1 L387.2 587.1 L388.2 589.9 L389.2 593.3 L390.2 596.8 L391.2 597.4 L392.2 598.2 L393.2 600.6 L394.2 601.3 L395.2 603.5 L396.2 604.9 L397.2 605.6 L398.2 606.8 L399.2 607.2 L400.2 607.9 L401.2 607.1 L402.2 609.2 L403.2 607.4 L404.2 607.6 L405.2 607.3 L406.2 607.6 L407.2 607.4 L408.2 606.1 L409.2 608.7 L410.2 607.7 L411.2 607.1 L412.2 607.2 L413.2 607.9 L414.2 607.6 L415.2 607.1 L416.2 607.5 L417.2 604.8 L418.2 607.3 L419.2 606.4 L420.2 605.9 L421.2 605.5 L422.2 606.3 L423.2 604.8 L424.2 606.2 L425.2 605.3 L426.2 606.3 L427.2 604.3 L428.2 605.8 L429.2 605.1 L430.2 604.4 L431.2 606.2 L432.2 606.0 L433.2 604.4 L434.2 604.8 L435.2 606.1 L436.2 605.1 L437.2 604.5 L438.2 604.3 L439.2 604.5 L440.2 605.5 L441.2 605.9 L442.2 605.0 L443.2 604.6 L444.2 604.8 L445.2 604.2 L446.2 606.0 L447.2 605.7 L448.2 606.6 L449.2 607.6 L450.2 607.0 L451.2 605.7 L452.2 605.8 L453.2 605.0 L454.2 604.4 L455.2 607.4 L456.2 606.1 L457.2 604.7 L458.2 606.3 L459.2 604.1 L460.2 605.4 L461.2 605.5 L462.2 604.8 L463.2 604.8 L464.2 605.6 L465.2 604.4 L466.2 605.5 L467.2 603.1 L468.2 603.9 L469.2 605.3 L470.2 603.0 L471.2 602.7 L472.2 603.3 L473.2 602.6 L474.2 602.8 L475.2 602.8 L476.2 601.7 L477.2 600.6 L478.2 599.1 L479.2 598.4 L480.2 597.7 L481.2 595.1 L482.2 594.2 L483.2 592.4 L484.2 592.1 L485.2 590.8 L486.2 588.7 L487.2 586.5 L488.2 585.0 L489.2 584.4 L490.2 581.9 L491.2 581.8 L492.2 579.9 L493.2 579.5 L494.2 580.9 L495.2 580.3 L496.2 582.7 L497.2 581.3 L498.2 584.3 L499.2 585.3 L500.2 586.9 L501.2 588.8 L502.2 588.5 L503.2 592.9 L504.2 592.4 L505.2 596.1 L506.2 596.4 L507.2 597.5 L508.2 597.8 L509.2 601.9 L510.2 602.7 L511.2 604.7 L512.2 604.1 L513.2 605.4 L514.2 607.8 L515.2 609.8 L516.2 611.2 L517.2 612.7 L518.2 612.3 L519.2 613.1 L520.2 615.8 L521.2 615.5 L522.2 617.2 L523.2 619.6 L524.2 618.5 L525.2 619.8 L526.2 620.2 L527.2 620.5 L528.2 621.3 L529.2 621.9 L530.2 622.0 L531.2 623.5 L532.2 623.5 L533.2 622.4 L534.2 624.6 L535.2 624.0 L536.2 624.1 L537.2 623.9 L538.2 625.4 L539.2 625.1 L540.2 624.8 L541.2 625.0 L542.2 626.8 L543.2 625.9 L544.2 626.0 L545.2 628.5 L546.2 627.0 L547.2 627.5 L548.2 627.3 L549.2 627.3 L550.2 626.8 L551.2 628.3 L552.2 628.1 L553.2 627.5 L554.2 628.2 L555.2 629.8 L556.2 628.8 L557.2 628.8 L558.2 628.4 L559.2 628.6 L560.2 629.6 L561.2 629.9 L562.2 629.5 L563.2 630.2 L564.2 629.0 L565.2 629.4 L566.2 630.0 L567.2 630.7 L568.2 629.5 L569.2 630.6" stroke="#ff00ff" stroke-width="1.9" fill="none" stroke-linejoin="round"/>
<path d="M62.2 663.6 L63.2 665.3 L64.2 665.4 L65.2 664.2 L66.2 664.7 L67.2 665.0 L68.2 663.9 L69.2 664.1 L70.2 664.0 L71.2 664.8 L72.2 665.0 L73.2 663.6 L74.2 663.7 L75.2 664.7 L76.2 663.8 L77.2 664.1 L78.2 664.8 L79.2 664.2 L80.2 664.9 L81.2 664.2 L82.2 664.0 L83.2 663.4 L84.2 662.3 L85.2 663.6 L86.2 662.4 L87.2 664.3 L88.2 664.2 L89.2 663.9 L90.2 664.3 L91.2 664.9 L92.2 661.9 L93.2 663.0 L94.2 663.6 L95.2 662.6 L96.2 662.6 L97.2 663.3 L98.2 662.8 L99.2 661.2 L100.2 663.1 L101.2 661.2 L102.2 661.8 L103.2 661.8 L104.2 659.9 L105.2 662.1 L106.2 661.1 L107.2 660.5 L108.2 660.5 L109.2 659.4 L110.2 659.7 L111.2 659.3 L112.2 656.8 L113.2 657.2 L114.2 658.4 L115.2 656.5 L116.2 657.2 L117.2 656.2 L118.2 656.4 L119.2 654.0 L120.2 654.9 L121.2 654.3 L122.2 653.9 L123.2 653.4 L124.2 652.7 L125.2 652.3 L126.2 651.8 L127.2 650.5 L128.2 651.5 L129.2 649.9 L130.2 648.8 L131.2 649.1 L132.2 646.6 L133.2 647.4 L134.2 644.5 L135.2 642.2 L136.2 639.5 L137.2 637.4 L138.2 634.0 L139.2 631.6 L140.2 630.1 L141.2 627.9 L142.2 627.3 L143.2 626.5 L144.2 625.6 L145.2 624.5 L146.2 623.4 L147.2 622.5 L148.2 620.5 L149.2 619.1 L150.2 620.3 L151.2 616.4 L152.2 614.8 L153.2 611.9 L154.2 609.5 L155.2 605.9 L156.2 602.8 L157.2 597.8 L158.2 592.5 L159.2 584.6 L160.2 580.1 L161.2 573.4 L162.2 567.8 L163.2 564.0 L164.2 562.7 L165.2 564.2 L166.2 568.7 L167.2 571.7 L168.2 577.1 L169.2 588.5 L170.2 597.8 L171.2 607.4 L172.2 614.3 L173.2 619.5 L174.2 622.0 L175.2 627.2 L176.2 630.0 L177.2 634.2 L178.2 636.8 L179.2 636.6 L180.2 639.3 L181.2 639.4 L182.2 642.0 L183.2 640.0 L184.2 639.8 L185.2 641.3 L186.2 640.8 L187.2 640.3 L188.2 639.0 L189.2 639.3 L190.2 638.4 L191.2 639.5 L192.2 638.4 L193.2 636.8 L194.2 635.8 L195.2 634.2 L196.2 633.6 L197.2 632.7 L198.2 631.8 L199.2 631.1 L200.2 628.9 L201.2 629.3 L202.2 626.3 L203.2 627.6 L204.2 628.3 L205.2 628.0 L206.2 629.3 L207.2 630.7 L208.2 630.8 L209.2 632.6 L210.2 634.6 L211.2 634.2 L212.2 637.1 L213.2 637.2 L214.2 637.1 L215.2 639.1 L216.2 639.7 L217.2 639.1 L218.2 639.5 L219.2 639.6 L220.2 639.2 L221.2 639.2 L222.2 639.6 L223.2 639.5 L224.2 638.8 L225.2 637.3 L226.2 637.6 L227.2 638.1 L228.2 639.1 L229.2 638.4 L230.2 639.2 L231.2 638.1 L232.2 637.9 L233.2 637.2 L234.2 638.2 L235.2 636.1 L236.2 637.2 L237.2 636.7 L238.2 636.2 L239.2 637.2 L240.2 636.8 L241.2 636.5 L242.2 635.9 L243.2 634.9 L244.2 634.9 L245.2 633.9 L246.2 634.7 L247.2 635.8 L248.2 636.5 L249.2 634.6 L250.2 636.2 L251.2 636.6 L252.2 635.9 L253.2 636.2 L254.2 634.8 L255.2 634.4 L256.2 634.8 L257.2 635.2 L258.2 634.7 L259.2 634.3 L260.2 634.6 L261.2 633.2 L262.2 634.2 L263.2 631.9 L264.2 634.3 L265.2 634.0 L266.2 634.4 L267.2 631.7 L268.2 631.3 L269.2 630.0 L270.2 628.5 L271.2 626.4 L272.2 627.2 L273.2 624.9 L274.2 623.3 L275.2 620.3 L276.2 620.2 L277.2 620.1 L278.2 617.4 L279.2 616.5 L280.2 613.5 L281.2 613.7 L282.2 611.5 L283.2 610.4 L284.2 609.9 L285.2 609.2 L286.2 610.0 L287.2 609.7 L288.2 609.9 L289.2 609.9 L290.2 610.4 L291.2 612.5 L292.2 613.3 L293.2 613.0 L294.2 613.5 L295.2 613.8 L296.2 614.9 L297.2 616.2 L298.2 615.6 L299.2 615.3 L300.2 616.8 L301.2 616.8 L302.2 615.1 L303.2 616.4 L304.2 617.8 L305.2 617.3 L306.2 617.1 L307.2 617.5 L308.2 616.2 L309.2 616.1 L310.2 616.7 L311.2 616.6 L312.2 617.4 L313.2 615.7 L314.2 615.6 L315.2 616.1 L316.2 613.9 L317.2 613.6 L318.2 613.2 L319.2 612.7 L320.2 612.0 L321.2 611.7 L322.2 609.5 L323.2 608.6 L324.2 608.6 L325.2 606.3 L326.2 607.4 L327.2 604.0 L328.2 602.4 L329.2 601.4 L330.2 599.0 L331.2 596.8 L332.2 593.8 L333.2 590.1 L334.2 587.3 L335.2 582.0 L336.2 575.4 L337.2 569.9 L338.2 563.9 L339.2 555.4 L340.2 548.7 L341.2 542.2 L342.2 537.1 L343.2 528.4 L344.2 524.2 L345.2 519.4 L346.2 515.1 L347.2 510.9 L348.2 509.2 L349.2 510.8 L350.2 511.7 L351.2 514.7 L352.2 519.5 L353.2 522.2 L354.2 529.6 L355.2 535.0 L356.2 543.6 L357.2 549.5 L358.2 553.3 L359.2 557.8 L360.2 561.7 L361.2 566.8 L362.2 571.0 L363.2 573.2 L364.2 576.4 L365.2 580.9 L366.2 582.4 L367.2 585.0 L368.2 586.9 L369.2 588.7 L370.2 590.1 L371.2 592.2 L372.2 594.0 L373.2 595.0 L374.2 594.1 L375.2 594.6 L376.2 594.8 L377.2 593.7 L378.2 593.7 L379.2 594.8 L380.2 595.3 L381.2 595.6 L382.2 594.6 L383.2 595.6 L384.2 595.2 L385.2 595.2 L386.2 597.3 L387.2 597.4 L388.2 599.7 L389.2 605.9 L390.2 607.4 L391.2 610.5 L392.2 612.2 L393.2 614.3 L394.2 616.6 L395.2 618.7 L396.2 622.5 L397.2 623.6 L398.2 625.7 L399.2 626.7 L400.2 626.5 L401.2 626.7 L402.2 627.8 L403.2 626.9 L404.2 626.9 L405.2 626.6 L406.2 627.9 L407.2 627.8 L408.2 626.4 L409.2 627.2 L410.2 626.8 L411.2 626.6 L412.2 626.2 L413.2 628.3 L414.2 627.3 L415.2 625.3 L416.2 627.7 L417.2 628.3 L418.2 627.0 L419.2 626.8 L420.2 626.9 L421.2 627.5 L422.2 626.3 L423.2 626.9 L424.2 625.4 L425.2 627.4 L426.2 625.6 L427.2 626.0 L428.2 626.6 L429.2 626.9 L430.2 625.6 L431.2 625.5 L432.2 627.1 L433.2 625.4 L434.2 625.3 L435.2 625.5 L436.2 626.3 L437.2 626.3 L438.2 626.6 L439.2 626.2 L440.2 625.6 L441.2 626.3 L442.2 626.6 L443.2 625.3 L444.2 625.8 L445.2 626.3 L446.2 627.7 L447.2 626.3 L448.2 626.7 L449.2 626.7 L450.2 627.0 L451.2 627.3 L452.2 626.1 L453.2 624.7 L454.2 627.4 L455.2 625.2 L456.2 627.0 L457.2 627.0 L458.2 627.1 L459.2 625.7 L460.2 626.7 L461.2 626.8 L462.2 626.7 L463.2 627.0 L464.2 625.1 L465.2 625.3 L466.2 625.3 L467.2 625.3 L468.2 625.9 L469.2 625.5 L470.2 624.7 L471.2 625.7 L472.2 624.6 L473.2 623.0 L474.2 624.4 L475.2 621.8 L476.2 620.9 L477.2 620.5 L478.2 619.1 L479.2 618.0 L480.2 616.6 L481.2 614.5 L482.2 613.1 L483.2 612.7 L484.2 611.2 L485.2 609.3 L486.2 607.1 L487.2 606.0 L488.2 603.5 L489.2 601.5 L490.2 601.8 L491.2 600.4 L492.2 598.8 L493.2 600.0 L494.2 598.9 L495.2 599.9 L496.2 600.5 L497.2 601.1 L498.2 602.1 L499.2 604.3 L500.2 605.0 L501.2 604.2 L502.2 607.2 L503.2 606.4 L504.2 608.8 L505.2 611.6 L506.2 612.3 L507.2 616.1 L508.2 617.0 L509.2 619.8 L510.2 621.7 L511.2 624.1 L512.2 626.4 L513.2 626.2 L514.2 628.8 L515.2 630.4 L516.2 632.3 L517.2 633.1 L518.2 633.7 L519.2 634.0 L520.2 634.9 L521.2 636.4 L522.2 638.2 L523.2 639.0 L524.2 640.7 L525.2 640.4 L526.2 641.3 L527.2 640.2 L528.2 642.0 L529.2 641.9 L530.2 642.3 L531.2 644.1 L532.2 643.6 L533.2 643.9 L534.2 644.4 L535.2 643.7 L536.2 643.8 L537.2 646.8 L538.2 645.7 L539.2 646.0 L540.2 646.5 L541.2 646.2 L542.2 646.6 L543.2 646.4 L544.2 647.5 L545.2 647.4 L546.2 648.4 L547.2 649.0 L548.2 647.2 L549.2 648.8 L550.2 648.1 L551.2 650.2 L552.2 648.9 L553.2 649.7 L554.2 648.8 L555.2 650.3 L556.2 648.9 L557.2 648.7 L558.2 647.9 L559.2 649.8 L560.2 649.7 L561.2 650.3 L562.2 649.5 L563.2 650.3 L564.2 650.4 L565.2 649.7 L566.2 652.0 L567.2 652.3 L568.2 650.8 L569.2 651.1" stroke="#008000" stroke-width="1.9" fill="none" stroke-linejoin="round"/>
<path d="M62.2 685.6 L63.2 685.7 L64.2 684.6 L65.2 685.4 L66.2 686.5 L67.2 685.0 L68.2 685.0 L69.2 684.5 L70.2 684.8 L71.2 683.5 L72.2 685.1 L73.2 686.0 L74.2 685.4 L75.2 685.3 L76.2 685.2 L77.2 685.2 L78.2 684.4 L79.2 683.8 L80.2 686.6 L81.2 685.6 L82.2 683.5 L83.2 686.4 L84.2 684.8 L85.2 685.8 L86.2 684.9 L87.2 684.4 L88.2 685.4 L89.2 684.4 L90.2 682.7 L91.2 684.8 L92.2 684.2 L93.2 684.1 L94.2 683.8 L95.2 684.2 L96.2 684.8 L97.2 684.3 L98.2 683.6 L99.2 683.3 L100.2 682.5 L101.2 684.2 L102.2 681.2 L103.2 681.7 L104.2 682.2 L105.2 682.2 L106.2 682.0 L107.2 681.3 L108.2 682.7 L109.2 682.0 L110.2 679.3 L111.2 679.7 L112.2 679.0 L113.2 680.8 L114.2 679.0 L115.2 677.7 L116.2 678.1 L117.2 676.8 L118.2 677.3 L119.2 677.1 L120.2 675.1 L121.2 675.5 L122.2 674.8 L123.2 673.3 L124.2 673.5 L125.2 671.9 L126.2 672.1 L127.2 670.7 L128.2 669.6 L129.2 670.0 L130.2 668.6 L131.2 666.4 L132.2 662.8 L133.2 663.3 L134.2 660.2 L135.2 658.1 L136.2 655.0 L137.2 652.3 L138.2 650.1 L139.2 649.7 L140.2 648.1 L141.2 646.4 L142.2 643.0 L143.2 642.1 L144.2 641.1 L145.2 638.1 L146.2 639.1 L147.2 636.2 L148.2 636.6 L149.2 634.0 L150.2 633.0 L151.2 629.3 L152.2 625.8 L153.2 623.6 L154.2 619.2 L155.2 614.8 L156.2 610.3 L157.2 605.4 L158.2 600.2 L159.2 592.6 L160.2 584.8 L161.2 579.3 L162.2 574.1 L163.2 570.1 L164.2 569.1 L165.2 572.3 L166.2 576.5 L167.2 581.8 L168.2 597.3 L169.2 604.0 L170.2 613.1 L171.2 619.8 L172.2 628.8 L173.2 635.8 L174.2 642.5 L175.2 646.0 L176.2 648.9 L177.2 652.6 L178.2 652.3 L179.2 654.4 L180.2 655.7 L181.2 658.0 L182.2 658.7 L183.2 658.8 L184.2 660.0 L185.2 659.7 L186.2 658.8 L187.2 657.8 L188.2 660.3 L189.2 658.6 L190.2 657.5 L191.2 657.7 L192.2 657.4 L193.2 656.0 L194.2 656.0 L195.2 654.2 L196.2 652.2 L197.2 651.9 L198.2 649.1 L199.2 649.0 L200.2 646.9 L201.2 645.6 L202.2 646.2 L203.2 645.0 L204.2 646.1 L205.2 647.5 L206.2 647.4 L207.2 648.6 L208.2 651.2 L209.2 653.0 L210.2 652.2 L211.2 655.8 L212.2 657.7 L213.2 657.6 L214.2 659.7 L215.2 659.1 L216.2 658.9 L217.2 659.2 L218.2 660.0 L219.2 659.1 L220.2 658.9 L221.2 659.3 L222.2 659.8 L223.2 657.5 L224.2 659.8 L225.2 660.0 L226.2 658.0 L227.2 658.6 L228.2 658.9 L229.2 658.5 L230.2 659.7 L231.2 658.3 L232.2 657.6 L233.2 657.6 L234.2 658.0 L235.2 657.0 L236.2 657.0 L237.2 656.9 L238.2 658.4 L239.2 657.5 L240.2 656.0 L241.2 657.1 L242.2 654.6 L243.2 656.5 L244.2 656.8 L245.2 656.5 L246.2 656.5 L247.2 656.1 L248.2 655.2 L249.2 655.4 L250.2 655.2 L251.2 654.1 L252.2 655.1 L253.2 654.1 L254.2 655.2 L255.2 656.2 L256.2 655.9 L257.2 656.0 L258.2 653.5 L259.2 653.2 L260.2 653.7 L261.2 652.2 L262.2 653.1 L263.2 651.8 L264.2 652.2 L265.2 651.2 L266.2 652.3 L267.2 651.4 L268.2 650.4 L269.2 647.9 L270.2 648.7 L271.2 646.3 L272.2 644.3 L273.2 644.3 L274.2 643.6 L275.2 640.4 L276.2 640.8 L277.2 638.7 L278.2 637.0 L279.2 635.7 L280.2 633.2 L281.2 631.1 L282.2 630.8 L283.2 626.8 L284.2 628.7 L285.2 626.7 L286.2 628.8 L287.2 627.3 L288.2 629.7 L289.2 627.9 L290.2 631.2 L291.2 630.7 L292.2 631.1 L293.2 631.8 L294.2 633.5 L295.2 633.3 L296.2 634.4 L297.2 634.5 L298.2 633.9 L299.2 636.3 L300.2 635.3 L301.2 635.9 L302.2 636.2 L303.2 636.3 L304.2 637.8 L305.2 636.9 L306.2 636.5 L307.2 636.8 L308.2 636.5 L309.2 635.9 L310.2 637.6 L311.2 636.0 L312.2 637.6 L313.2 636.7 L314.2 637.3 L315.2 636.4 L316.2 635.5 L317.2 636.4 L318.2 632.9 L319.2 630.8 L320.2 629.9 L321.2 628.7 L322.2 624.6 L323.2 623.2 L324.2 622.2 L325.2 619.9 L326.2 617.1 L327.2 613.6 L328.2 611.1 L329.2 607.3 L330.2 604.8 L331.2 600.9 L332.2 597.3 L333.2 592.9 L334.2 588.7 L335.2 582.5 L336.2 575.4 L337.2 570.1 L338.2 562.1 L339.2 554.8 L340.2 548.4 L341.2 543.8 L342.2 537.5 L343.2 532.7 L344.2 527.4 L345.2 524.2 L346.2 520.9 L347.2 518.0 L348.2 516.6 L349.2 517.8 L350.2 519.0 L351.2 523.2 L352.2 526.3 L353.2 529.2 L354.2 535.6 L355.2 540.9 L356.2 548.1 L357.2 554.2 L358.2 557.9 L359.2 562.1 L360.2 569.2 L361.2 573.9 L362.2 578.1 L363.2 582.0 L364.2 585.9 L365.2 588.0 L366.2 594.1 L367.2 594.1 L368.2 598.6 L369.2 600.9 L370.2 603.7 L371.2 604.7 L372.2 606.8 L373.2 609.1 L374.2 608.8 L375.2 610.1 L376.2 609.4 L377.2 610.7 L378.2 611.1 L379.2 610.8 L380.2 611.3 L381.2 610.2 L382.2 610.8 L383.2 611.1 L384.2 612.7 L385.2 611.6 L386.2 613.0 L387.2 615.6 L388.2 617.0 L389.2 620.0 L390.2 621.1 L391.2 625.2 L392.2 627.3 L393.2 631.3 L394.2 635.3 L395.2 637.0 L396.2 642.1 L397.2 642.6 L398.2 644.3 L399.2 643.7 L400.2 644.5 L401.2 643.6 L402.2 644.3 L403.2 646.2 L404.2 645.2 L405.2 646.3 L406.2 646.3 L407.2 645.7 L408.2 646.6 L409.2 646.8 L410.2 647.5 L411.2 646.9 L412.2 646.9 L413.2 648.4 L414.2 648.5 L415.2 647.6 L416.2 646.8 L417.2 647.8 L418.2 647.1 L419.2 648.5 L420.2 647.4 L421.2 646.9 L422.2 647.1 L423.2 646.5 L424.2 647.1 L425.2 646.1 L426.2 647.2 L427.2 647.5 L428.2 647.2 L429.2 646.1 L430.2 647.0 L431.2 646.3 L432.2 645.5 L433.2 646.4 L434.2 647.1 L435.2 646.6 L436.2 646.1 L437.2 645.9 L438.2 646.4 L439.2 646.8 L440.2 646.7 L441.2 647.6 L442.2 647.5 L443.2 647.8 L444.2 647.0 L445.2 647.7 L446.2 647.6 L447.2 648.1 L448.2 648.2 L449.2 649.9 L450.2 647.4 L451.2 648.6 L452.2 648.0 L453.2 648.6 L454.2 648.5 L455.2 649.4 L456.2 648.1 L457.2 647.7 L458.2 648.4 L459.2 648.2 L460.2 646.4 L461.2 649.2 L462.2 647.0 L463.2 648.7 L464.2 648.3 L465.2 648.3 L466.2 647.2 L467.2 646.3 L468.2 646.1 L469.2 647.3 L470.2 645.8 L471.2 646.2 L472.2 645.4 L473.2 644.9 L474.2 645.7 L475.2 643.5 L476.2 642.9 L477.2 641.4 L478.2 640.1 L479.2 638.2 L480.2 635.6 L481.2 634.2 L482.2 632.4 L483.2 632.4 L484.2 630.0 L485.2 627.6 L486.2 625.9 L487.2 623.6 L488.2 623.1 L489.2 620.0 L490.2 618.0 L491.2 620.8 L492.2 616.9 L493.2 617.2 L494.2 617.4 L495.2 619.1 L496.2 619.2 L497.2 620.2 L498.2 622.7 L499.2 624.3 L500.2 624.9 L501.2 625.3 L502.2 627.8 L503.2 628.5 L504.2 631.0 L505.2 633.2 L506.2 634.5 L507.2 638.5 L508.2 640.3 L509.2 642.7 L510.2 644.1 L511.2 647.5 L512.2 647.7 L513.2 649.7 L514.2 650.1 L515.2 651.2 L516.2 652.3 L517.2 653.1 L518.2 655.1 L519.2 657.3 L520.2 658.1 L521.2 657.5 L522.2 658.3 L523.2 660.7 L524.2 660.8 L525.2 660.7 L526.2 660.9 L527.2 661.4 L528.2 660.3 L529.2 662.0 L530.2 664.4 L531.2 664.4 L532.2 663.4 L533.2 664.5 L534.2 664.7 L535.2 664.1 L536.2 664.2 L537.2 664.7 L538.2 665.5 L539.2 666.6 L540.2 666.0 L541.2 666.1 L542.2 666.1 L543.2 667.4 L544.2 667.9 L545.2 667.1 L546.2 666.9 L547.2 667.5 L548.2 667.9 L549.2 668.5 L550.2 668.5 L551.2 667.4 L552.2 668.1 L553.2 668.0 L554.2 669.0 L555.2 667.9 L556.2 667.5 L557.2 669.0 L558.2 668.8 L559.2 668.9 L560.2 669.3 L561.2 668.8 L562.2 669.7 L563.2 668.9 L564.2 669.0 L565.2 670.3 L566.2 669.8 L567.2 670.9 L568.2 670.3 L569.2 669.7" stroke="#000080" stroke-width="1.9" fill="none" stroke-linejoin="round"/>
<path d="M62.2 705.8 L63.2 705.6 L64.2 706.5 L65.2 707.0 L66.2 706.7 L67.2 706.9 L68.2 706.1 L69.2 707.8 L70.2 707.4 L71.2 707.7 L72.2 706.2 L73.2 706.9 L74.2 706.6 L75.2 708.3 L76.2 707.0 L77.2 708.8 L78.2 707.5 L79.2 706.7 L80.2 708.0 L81.2 708.4 L82.2 707.0 L83.2 706.7 L84.2 707.0 L85.2 706.0 L86.2 706.0 L87.2 705.0 L88.2 706.0 L89.2 705.3 L90.2 706.1 L91.2 706.0 L92.2 706.3 L93.2 705.5 L94.2 705.0 L95.2 705.8 L96.2 704.1 L97.2 702.9 L98.2 703.2 L99.2 703.7 L100.2 704.2 L101.2 704.4 L102.2 702.7 L103.2 704.1 L104.2 703.4 L105.2 703.4 L106.2 702.1 L107.2 702.5 L108.2 700.9 L109.2 702.3 L110.2 701.7 L111.2 702.3 L112.2 702.3 L113.2 700.5 L114.2 701.4 L115.2 701.0 L116.2 699.5 L117.2 700.4 L118.2 697.8 L119.2 696.5 L120.2 696.8 L121.2 697.2 L122.2 695.5 L123.2 693.0 L124.2 693.0 L125.2 693.4 L126.2 691.2 L127.2 690.8 L128.2 689.3 L129.2 690.6 L130.2 689.4 L131.2 686.2 L132.2 684.6 L133.2 685.0 L134.2 683.0 L135.2 680.4 L136.2 678.0 L137.2 675.2 L138.2 673.7 L139.2 671.5 L140.2 669.7 L141.2 667.2 L142.2 664.0 L143.2 662.0 L144.2 659.9 L145.2 657.8 L146.2 654.9 L147.2 652.3 L148.2 650.3 L149.2 647.7 L150.2 645.5 L151.2 644.4 L152.2 642.1 L153.2 638.6 L154.2 636.4 L155.2 632.9 L156.2 628.5 L157.2 624.9 L158.2 618.1 L159.2 613.8 L160.2 606.7 L161.2 599.1 L162.2 592.8 L163.2 584.5 L164.2 578.5 L165.2 579.0 L166.2 581.4 L167.2 586.9 L168.2 593.1 L169.2 598.6 L170.2 607.6 L171.2 609.5 L172.2 616.6 L173.2 621.9 L174.2 630.0 L175.2 639.0 L176.2 651.7 L177.2 663.3 L178.2 669.0 L179.2 674.5 L180.2 678.2 L181.2 679.2 L182.2 679.2 L183.2 681.0 L184.2 680.9 L185.2 680.5 L186.2 681.4 L187.2 680.7 L188.2 679.6 L189.2 679.3 L190.2 678.2 L191.2 678.3 L192.2 679.5 L193.2 676.0 L194.2 677.3 L195.2 674.3 L196.2 672.5 L197.2 670.5 L198.2 668.2 L199.2 668.0 L200.2 665.9 L201.2 664.6 L202.2 664.5 L203.2 665.8 L204.2 665.2 L205.2 667.0 L206.2 670.2 L207.2 670.8 L208.2 674.5 L209.2 677.8 L210.2 677.7 L211.2 677.5 L212.2 679.6 L213.2 678.7 L214.2 679.9 L215.2 679.3 L216.2 679.1 L217.2 678.3 L218.2 679.8 L219.2 679.2 L220.2 679.2 L221.2 679.2 L222.2 679.2 L223.2 679.0 L224.2 678.8 L225.2 677.7 L226.2 678.4 L227.2 678.6 L228.2 679.6 L229.2 679.6 L230.2 678.1 L231.2 678.4 L232.2 678.3 L233.2 678.9 L234.2 678.9 L235.2 679.1 L236.2 678.2 L237.2 678.4 L238.2 680.1 L239.2 677.8 L240.2 679.6 L241.2 679.1 L242.2 679.2 L243.2 678.5 L244.2 678.3 L245.2 678.8 L246.2 677.9 L247.2 677.9 L248.2 677.5 L249.2 677.9 L250.2 677.3 L251.2 676.9 L252.2 677.4 L253.2 676.8 L254.2 675.5 L255.2 676.1 L256.2 676.9 L257.2 675.8 L258.2 676.3 L259.2 673.7 L260.2 674.8 L261.2 672.7 L262.2 674.2 L263.2 672.9 L264.2 672.9 L265.2 672.9 L266.2 671.5 L267.2 671.0 L268.2 670.4 L269.2 670.3 L270.2 669.8 L271.2 667.1 L272.2 665.8 L273.2 665.2 L274.2 663.0 L275.2 661.6 L276.2 661.7 L277.2 659.5 L278.2 659.2 L279.2 655.5 L280.2 655.2 L281.2 653.0 L282.2 650.2 L283.2 649.2 L284.2 646.3 L285.2 648.2 L286.2 648.2 L287.2 647.9 L288.2 649.9 L289.2 647.8 L290.2 650.8 L291.2 651.1 L292.2 652.0 L293.2 651.6 L294.2 653.9 L295.2 653.8 L296.2 654.9 L297.2 656.0 L298.2 655.1 L299.2 654.0 L300.2 656.7 L301.2 657.0 L302.2 657.0 L303.2 657.1 L304.2 657.2 L305.2 658.3 L306.2 658.9 L307.2 658.4 L308.2 659.9 L309.2 658.9 L310.2 659.7 L311.2 659.2 L312.2 659.3 L313.2 659.8 L314.2 658.9 L315.2 658.3 L316.2 657.0 L317.2 654.7 L318.2 653.6 L319.2 651.7 L320.2 649.9 L321.2 648.3 L322.2 645.9 L323.2 644.2 L324.2 642.7 L325.2 639.9 L326.2 639.2 L327.2 637.3 L328.2 632.9 L329.2 632.5 L330.2 628.8 L331.2 625.8 L332.2 623.7 L333.2 619.0 L334.2 615.1 L335.2 608.2 L336.2 600.3 L337.2 594.5 L338.2 584.3 L339.2 576.0 L340.2 569.3 L341.2 564.6 L342.2 556.8 L343.2 553.2 L344.2 546.3 L345.2 541.9 L346.2 537.3 L347.2 534.8 L348.2 531.7 L349.2 533.6 L350.2 533.5 L351.2 535.4 L352.2 540.3 L353.2 545.2 L354.2 550.1 L355.2 555.5 L356.2 559.9 L357.2 566.0 L358.2 570.1 L359.2 573.4 L360.2 578.9 L361.2 584.0 L362.2 589.7 L363.2 595.5 L364.2 600.3 L365.2 605.4 L366.2 610.4 L367.2 614.3 L368.2 617.7 L369.2 616.7 L370.2 620.7 L371.2 622.8 L372.2 624.7 L373.2 625.7 L374.2 626.3 L375.2 627.6 L376.2 628.0 L377.2 626.3 L378.2 627.6 L379.2 625.5 L380.2 627.5 L381.2 628.3 L382.2 628.1 L383.2 627.5 L384.2 628.4 L385.2 629.9 L386.2 632.3 L387.2 633.0 L388.2 634.9 L389.2 638.0 L390.2 640.2 L391.2 643.1 L392.2 647.9 L393.2 651.4 L394.2 655.4 L395.2 659.1 L396.2 665.4 L397.2 666.4 L398.2 669.0 L399.2 671.8 L400.2 670.9 L401.2 672.3 L402.2 672.2 L403.2 671.4 L404.2 671.3 L405.2 669.5 L406.2 671.5 L407.2 670.6 L408.2 670.9 L409.2 671.0 L410.2 670.3 L411.2 669.5 L412.2 669.7 L413.2 669.3 L414.2 670.7 L415.2 669.9 L416.2 670.0 L417.2 669.5 L418.2 669.8 L419.2 669.0 L420.2 669.9 L421.2 669.0 L422.2 670.0 L423.2 669.6 L424.2 670.1 L425.2 670.6 L426.2 670.1 L427.2 669.9 L428.2 670.4 L429.2 669.3 L430.2 669.7 L431.2 670.0 L432.2 668.7 L433.2 669.2 L434.2 671.2 L435.2 669.9 L436.2 669.9 L437.2 670.1 L438.2 669.6 L439.2 669.5 L440.2 669.7 L441.2 670.7 L442.2 671.3 L443.2 669.8 L444.2 670.3 L445.2 670.9 L446.2 669.8 L447.2 670.9 L448.2 671.7 L449.2 671.9 L450.2 672.9 L451.2 671.0 L452.2 671.2 L453.2 671.9 L454.2 671.5 L455.2 672.1 L456.2 671.2 L457.2 669.9 L458.2 670.5 L459.2 669.8 L460.2 671.1 L461.2 671.8 L462.2 671.2 L463.2 670.4 L464.2 669.2 L465.2 670.5 L466.2 669.9 L467.2 669.8 L468.2 670.1 L469.2 671.6 L470.2 669.4 L471.2 669.0 L472.2 668.3 L473.2 669.8 L474.2 668.2 L475.2 666.8 L476.2 666.9 L477.2 666.2 L478.2 663.7 L479.2 663.0 L480.2 660.2 L481.2 660.7 L482.2 657.2 L483.2 655.9 L484.2 652.7 L485.2 650.3 L486.2 648.3 L487.2 645.3 L488.2 643.7 L489.2 642.8 L490.2 642.0 L491.2 639.3 L492.2 638.2 L493.2 638.5 L494.2 637.8 L495.2 638.6 L496.2 639.4 L497.2 641.5 L498.2 642.3 L499.2 643.5 L500.2 646.8 L501.2 646.5 L502.2 648.6 L503.2 650.0 L504.2 652.1 L505.2 655.3 L506.2 657.0 L507.2 661.4 L508.2 665.3 L509.2 668.5 L510.2 669.4 L511.2 672.2 L512.2 673.1 L513.2 673.5 L514.2 673.7 L515.2 676.3 L516.2 676.6 L517.2 678.9 L518.2 679.3 L519.2 678.7 L520.2 680.3 L521.2 681.6 L522.2 682.9 L523.2 680.7 L524.2 683.5 L525.2 682.7 L526.2 683.9 L527.2 683.9 L528.2 685.6 L529.2 685.6 L530.2 687.0 L531.2 687.0 L532.2 685.9 L533.2 685.1 L534.2 686.8 L535.2 686.9 L536.2 687.7 L537.2 687.3 L538.2 687.7 L539.2 689.0 L540.2 688.8 L541.2 688.3 L542.2 689.4 L543.2 688.6 L544.2 689.5 L545.2 690.4 L546.2 689.5 L547.2 689.1 L548.2 690.3 L549.2 690.1 L550.2 691.9 L551.2 690.7 L552.2 690.5 L553.2 690.2 L554.2 689.6 L555.2 690.8 L556.2 691.6 L557.2 691.0 L558.2 692.2 L559.2 692.7 L560.2 692.6 L561.2 691.8 L562.2 691.8 L563.2 693.1 L564.2 692.1 L565.2 692.2 L566.2 692.3 L567.2 693.8 L568.2 691.5 L569.2 693.8" stroke="#8000ff" stroke-width="1.9" fill="none" stroke-linejoin="round"/>
<path d="M62.2 732.0 L63.2 732.7 L64.2 731.9 L65.2 733.4 L66.2 732.4 L67.2 731.2 L68.2 730.9 L69.2 732.0 L70.2 732.4 L71.2 732.3 L72.2 732.9 L73.2 733.0 L74.2 730.4 L75.2 732.2 L76.2 732.2 L77.2 732.7 L78.2 731.6 L79.2 733.1 L80.2 732.3 L81.2 733.2 L82.2 731.7 L83.2 732.1 L84.2 731.1 L85.2 731.3 L86.2 731.6 L87.2 731.3 L88.2 731.7 L89.2 731.6 L90.2 731.1 L91.2 730.8 L92.2 729.7 L93.2 730.0 L94.2 729.9 L95.2 729.2 L96.2 730.1 L97.2 729.7 L98.2 728.4 L99.2 728.4 L100.2 728.4 L101.2 728.3 L102.2 729.1 L103.2 727.6 L104.2 727.0 L105.2 727.5 L106.2 727.4 L107.2 727.5 L108.2 725.6 L109.2 725.8 L110.2 725.8 L111.2 725.4 L112.2 723.7 L113.2 724.8 L114.2 725.1 L115.2 724.1 L116.2 723.1 L117.2 721.9 L118.2 721.4 L119.2 721.5 L120.2 720.3 L121.2 719.6 L122.2 718.2 L123.2 718.9 L124.2 718.2 L125.2 716.2 L126.2 715.3 L127.2 713.3 L128.2 712.8 L129.2 709.7 L130.2 707.9 L131.2 705.2 L132.2 704.2 L133.2 701.9 L134.2 699.7 L135.2 698.9 L136.2 696.0 L137.2 693.9 L138.2 691.0 L139.2 687.8 L140.2 686.2 L141.2 684.5 L142.2 680.7 L143.2 678.8 L144.2 676.4 L145.2 674.7 L146.2 671.5 L147.2 669.6 L148.2 667.0 L149.2 663.6 L150.2 661.2 L151.2 657.1 L152.2 654.2 L153.2 651.3 L154.2 647.5 L155.2 643.9 L156.2 640.7 L157.2 638.8 L158.2 636.2 L159.2 633.1 L160.2 627.7 L161.2 625.2 L162.2 622.0 L163.2 620.0 L164.2 622.3 L165.2 622.9 L166.2 629.8 L167.2 634.9 L168.2 641.1 L169.2 646.8 L170.2 655.7 L171.2 666.6 L172.2 676.1 L173.2 682.6 L174.2 691.6 L175.2 696.3 L176.2 703.2 L177.2 704.6 L178.2 704.1 L179.2 706.1 L180.2 705.5 L181.2 706.9 L182.2 705.6 L183.2 706.7 L184.2 705.0 L185.2 706.9 L186.2 705.8 L187.2 706.0 L188.2 704.7 L189.2 705.8 L190.2 703.5 L191.2 703.5 L192.2 702.2 L193.2 702.2 L194.2 699.0 L195.2 697.5 L196.2 697.5 L197.2 695.1 L198.2 693.5 L199.2 693.3 L200.2 691.9 L201.2 689.4 L202.2 691.1 L203.2 690.9 L204.2 691.5 L205.2 694.4 L206.2 696.0 L207.2 698.6 L208.2 699.2 L209.2 700.9 L210.2 705.2 L211.2 705.2 L212.2 705.9 L213.2 704.8 L214.2 705.1 L215.2 706.0 L216.2 703.2 L217.2 704.4 L218.2 705.6 L219.2 703.9 L220.2 705.8 L221.2 705.0 L222.2 703.8 L223.2 705.1 L224.2 705.0 L225.2 704.9 L226.2 705.3 L227.2 703.6 L228.2 704.3 L229.2 705.0 L230.2 704.7 L231.2 704.6 L232.2 706.4 L233.2 703.9 L234.2 703.7 L235.2 704.5 L236.2 703.7 L237.2 704.5 L238.2 703.5 L239.2 704.9 L240.2 703.0 L241.2 703.2 L242.2 703.9 L243.2 703.1 L244.2 703.6 L245.2 703.4 L246.2 703.3 L247.2 701.5 L248.2 702.9 L249.2 702.1 L250.2 702.1 L251.2 700.9 L252.2 701.7 L253.2 701.7 L254.2 701.1 L255.2 700.9 L256.2 700.4 L257.2 699.8 L258.2 699.9 L259.2 699.1 L260.2 698.8 L261.2 698.8 L262.2 698.8 L263.2 699.0 L264.2 698.0 L265.2 696.7 L266.2 695.3 L267.2 695.4 L268.2 693.5 L269.2 692.6 L270.2 691.0 L271.2 692.4 L272.2 691.3 L273.2 688.6 L274.2 688.5 L275.2 687.6 L276.2 687.2 L277.2 685.7 L278.2 682.3 L279.2 681.7 L280.2 678.7 L281.2 678.4 L282.2 677.3 L283.2 676.1 L284.2 674.9 L285.2 675.4 L286.2 677.3 L287.2 675.5 L288.2 676.3 L289.2 677.4 L290.2 677.9 L291.2 677.5 L292.2 679.5 L293.2 680.1 L294.2 679.8 L295.2 680.4 L296.2 680.7 L297.2 681.7 L298.2 682.0 L299.2 683.1 L300.2 681.6 L301.2 684.1 L302.2 683.9 L303.2 685.6 L304.2 685.8 L305.2 685.2 L306.2 685.5 L307.2 685.2 L308.2 684.7 L309.2 685.2 L310.2 685.7 L311.2 684.6 L312.2 683.4 L313.2 683.9 L314.2 682.4 L315.2 682.2 L316.2 681.5 L317.2 680.3 L318.2 678.8 L319.2 675.7 L320.2 672.6 L321.2 672.6 L322.2 670.6 L323.2 669.4 L324.2 667.2 L325.2 664.1 L326.2 661.7 L327.2 659.5 L328.2 655.4 L329.2 651.3 L330.2 650.0 L331.2 646.7 L332.2 643.1 L333.2 641.4 L334.2 637.3 L335.2 633.9 L336.2 631.6 L337.2 629.5 L338.2 623.7 L339.2 621.1 L340.2 614.2 L341.2 609.0 L342.2 601.1 L343.2 594.6 L344.2 589.9 L345.2 585.3 L346.2 576.3 L347.2 572.4 L348.2 568.3 L349.2 568.3 L350.2 568.3 L351.2 570.4 L352.2 575.9 L353.2 581.0 L354.2 586.0 L355.2 592.3 L356.2 597.2 L357.2 603.6 L358.2 608.5 L359.2 615.9 L360.2 621.1 L361.2 623.9 L362.2 630.9 L363.2 632.8 L364.2 635.0 L365.2 637.3 L366.2 640.3 L367.2 643.1 L368.2 646.3 L369.2 647.7 L370.2 650.3 L371.2 653.9 L372.2 653.0 L373.2 655.9 L374.2 654.6 L375.2 653.8 L376.2 654.4 L377.2 656.5 L378.2 655.5 L379.2 654.5 L380.2 656.1 L381.2 655.3 L382.2 654.2 L383.2 653.6 L384.2 653.1 L385.2 654.3 L386.2 656.0 L387.2 659.5 L388.2 663.3 L389.2 667.1 L390.2 669.4 L391.2 673.5 L392.2 677.4 L393.2 680.2 L394.2 683.8 L395.2 686.7 L396.2 690.1 L397.2 693.5 L398.2 695.3 L399.2 695.3 L400.2 697.0 L401.2 697.2 L402.2 697.5 L403.2 700.0 L404.2 699.7 L405.2 701.7 L406.2 700.4 L407.2 700.3 L408.2 699.5 L409.2 699.2 L410.2 700.3 L411.2 699.2 L412.2 700.6 L413.2 700.1 L414.2 699.9 L415.2 699.2 L416.2 698.2 L417.2 699.6 L418.2 698.2 L419.2 698.4 L420.2 698.9 L421.2 697.9 L422.2 697.8 L423.2 697.0 L424.2 698.7 L425.2 699.2 L426.2 697.2 L427.2 698.8 L428.2 699.4 L429.2 699.3 L430.2 698.8 L431.2 697.6 L432.2 697.1 L433.2 697.8 L434.2 698.8 L435.2 699.6 L436.2 699.6 L437.2 698.6 L438.2 699.0 L439.2 698.4 L440.2 697.4 L441.2 698.4 L442.2 699.7 L443.2 699.6 L444.2 699.1 L445.2 699.1 L446.2 700.9 L447.2 699.5 L448.2 699.0 L449.2 698.1 L450.2 698.7 L451.2 699.5 L452.2 698.8 L453.2 699.6 L454.2 698.9 L455.2 701.2 L456.2 698.8 L457.2 699.7 L458.2 698.4 L459.2 699.0 L460.2 699.3 L461.2 698.7 L462.2 697.0 L463.2 699.2 L464.2 698.4 L465.2 697.0 L466.2 697.1 L467.2 697.6 L468.2 696.2 L469.2 697.0 L470.2 695.3 L471.2 696.0 L472.2 696.1 L473.2 694.8 L474.2 694.8 L475.2 694.4 L476.2 694.3 L477.2 693.0 L478.2 691.1 L479.2 689.7 L480.2 687.8 L481.2 686.3 L482.2 684.6 L483.2 682.4 L484.2 681.0 L485.2 677.5 L486.2 674.5 L487.2 672.1 L488.2 670.6 L489.2 669.1 L490.2 666.4 L491.2 664.7 L492.2 665.0 L493.2 665.7 L494.2 664.7 L495.2 665.8 L496.2 665.5 L497.2 669.9 L498.2 668.4 L499.2 669.6 L500.2 672.1 L501.2 673.1 L502.2 675.4 L503.2 675.8 L504.2 678.8 L505.2 681.6 L506.2 684.8 L507.2 688.8 L508.2 690.3 L509.2 692.3 L510.2 695.4 L511.2 696.0 L512.2 698.5 L513.2 699.1 L514.2 700.1 L515.2 699.9 L516.2 700.9 L517.2 702.5 L518.2 703.7 L519.2 703.0 L520.2 704.9 L521.2 706.1 L522.2 706.2 L523.2 707.9 L524.2 708.0 L525.2 709.5 L526.2 708.3 L527.2 709.6 L528.2 707.7 L529.2 709.6 L530.2 711.4 L531.2 710.7 L532.2 711.0 L533.2 710.9 L534.2 713.5 L535.2 713.5 L536.2 712.9 L537.2 713.5 L538.2 713.5 L539.2 712.8 L540.2 714.4 L541.2 714.0 L542.2 714.1 L543.2 715.8 L544.2 715.2 L545.2 714.7 L546.2 716.1 L547.2 715.9 L548.2 716.4 L549.2 716.3 L550.2 716.9 L551.2 717.1 L552.2 716.4 L553.2 718.9 L554.2 717.7 L555.2 715.8 L556.2 718.7 L557.2 717.0 L558.2 718.6 L559.2 719.7 L560.2 718.4 L561.2 718.7 L562.2 719.9 L563.2 719.6 L564.2 719.7 L565.2 719.3 L566.2 719.6 L567.2 718.2 L568.2 719.5 L569.2 719.8" stroke="#800080" stroke-width="1.9" fill="none" stroke-linejoin="round"/>
<path d="M62.2 756.7 L63.2 756.6 L64.2 755.3 L65.2 755.6 L66.2 754.5 L67.2 756.1 L68.2 757.3 L69.2 756.3 L70.2 755.5 L71.2 756.2 L72.2 755.9 L73.2 755.1 L74.2 755.3 L75.2 755.8 L76.2 756.5 L77.2 755.4 L78.2 755.3 L79.2 754.7 L80.2 755.7 L81.2 754.9 L82.2 757.0 L83.2 755.6 L84.2 753.2 L85.2 756.5 L86.2 755.6 L87.2 755.2 L88.2 755.3 L89.2 754.6 L90.2 754.2 L91.2 754.2 L92.2 754.5 L93.2 754.8 L94.2 755.8 L95.2 754.5 L96.2 754.6 L97.2 754.6 L98.2 753.1 L99.2 752.8 L100.2 752.7 L101.2 754.3 L102.2 751.9 L103.2 753.2 L104.2 751.9 L105.2 754.2 L106.2 751.0 L107.2 750.8 L108.2 751.1 L109.2 750.3 L110.2 751.4 L111.2 751.2 L112.2 750.9 L113.2 751.4 L114.2 748.7 L115.2 749.1 L116.2 748.2 L117.2 747.4 L118.2 747.8 L119.2 748.6 L120.2 745.7 L121.2 747.4 L122.2 745.1 L123.2 743.6 L124.2 741.9 L125.2 742.3 L126.2 740.5 L127.2 738.9 L128.2 737.1 L129.2 736.0 L130.2 734.4 L131.2 733.1 L132.2 729.8 L133.2 729.3 L134.2 727.8 L135.2 725.4 L136.2 721.4 L137.2 720.0 L138.2 717.7 L139.2 715.6 L140.2 712.4 L141.2 709.3 L142.2 705.3 L143.2 702.8 L144.2 699.3 L145.2 696.5 L146.2 692.9 L147.2 691.7 L148.2 688.9 L149.2 685.5 L150.2 685.6 L151.2 682.5 L152.2 681.5 L153.2 680.1 L154.2 678.3 L155.2 677.1 L156.2 676.0 L157.2 672.9 L158.2 670.2 L159.2 668.1 L160.2 662.9 L161.2 659.6 L162.2 659.7 L163.2 657.4 L164.2 659.0 L165.2 661.5 L166.2 664.6 L167.2 671.7 L168.2 679.2 L169.2 686.1 L170.2 694.9 L171.2 703.3 L172.2 710.3 L173.2 716.6 L174.2 720.4 L175.2 724.7 L176.2 726.0 L177.2 728.6 L178.2 730.3 L179.2 730.9 L180.2 733.3 L181.2 733.3 L182.2 733.4 L183.2 731.8 L184.2 733.5 L185.2 732.2 L186.2 732.0 L187.2 731.6 L188.2 731.1 L189.2 729.0 L190.2 728.5 L191.2 727.2 L192.2 726.2 L193.2 725.0 L194.2 722.9 L195.2 722.0 L196.2 721.5 L197.2 718.5 L198.2 716.9 L199.2 718.4 L200.2 715.9 L201.2 717.0 L202.2 717.5 L203.2 719.3 L204.2 720.4 L205.2 722.7 L206.2 723.8 L207.2 725.1 L208.2 729.3 L209.2 729.0 L210.2 730.4 L211.2 729.7 L212.2 730.5 L213.2 731.2 L214.2 732.7 L215.2 731.7 L216.2 733.0 L217.2 732.7 L218.2 732.7 L219.2 733.8 L220.2 733.6 L221.2 732.6 L222.2 733.8 L223.2 732.3 L224.2 733.5 L225.2 733.0 L226.2 734.5 L227.2 733.1 L228.2 734.1 L229.2 732.7 L230.2 731.8 L231.2 732.3 L232.2 730.4 L233.2 730.4 L234.2 730.9 L235.2 731.9 L236.2 731.2 L237.2 729.2 L238.2 728.4 L239.2 729.9 L240.2 728.3 L241.2 728.4 L242.2 728.5 L243.2 728.0 L244.2 727.9 L245.2 728.2 L246.2 728.8 L247.2 727.4 L248.2 727.6 L249.2 727.7 L250.2 727.5 L251.2 726.8 L252.2 726.0 L253.2 726.2 L254.2 724.9 L255.2 725.6 L256.2 726.3 L257.2 725.5 L258.2 722.4 L259.2 724.7 L260.2 724.3 L261.2 723.3 L262.2 723.6 L263.2 723.1 L264.2 722.0 L265.2 721.2 L266.2 719.8 L267.2 720.7 L268.2 717.4 L269.2 718.4 L270.2 716.9 L271.2 716.3 L272.2 715.0 L273.2 714.3 L274.2 712.7 L275.2 711.6 L276.2 712.4 L277.2 709.6 L278.2 709.4 L279.2 707.5 L280.2 705.7 L281.2 704.4 L282.2 703.0 L283.2 702.7 L284.2 701.2 L285.2 700.5 L286.2 701.2 L287.2 700.8 L288.2 701.5 L289.2 701.1 L290.2 702.1 L291.2 703.5 L292.2 704.2 L293.2 703.4 L294.2 704.9 L295.2 705.0 L296.2 707.1 L297.2 706.4 L298.2 706.4 L299.2 707.5 L300.2 708.1 L301.2 711.4 L302.2 709.8 L303.2 711.4 L304.2 710.8 L305.2 712.1 L306.2 713.2 L307.2 713.2 L308.2 713.7 L309.2 713.6 L310.2 712.9 L311.2 713.6 L312.2 713.4 L313.2 712.8 L314.2 714.4 L315.2 711.5 L316.2 710.4 L317.2 709.9 L318.2 710.0 L319.2 707.6 L320.2 706.7 L321.2 704.6 L322.2 704.6 L323.2 702.5 L324.2 700.7 L325.2 699.9 L326.2 696.2 L327.2 695.7 L328.2 692.9 L329.2 688.8 L330.2 686.8 L331.2 684.4 L332.2 680.2 L333.2 677.1 L334.2 674.9 L335.2 671.2 L336.2 665.1 L337.2 658.7 L338.2 652.7 L339.2 646.3 L340.2 642.5 L341.2 637.0 L342.2 633.4 L343.2 629.1 L344.2 625.3 L345.2 620.9 L346.2 615.2 L347.2 613.4 L348.2 612.6 L349.2 612.0 L350.2 611.9 L351.2 613.3 L352.2 613.6 L353.2 616.8 L354.2 619.7 L355.2 623.4 L356.2 626.2 L357.2 631.1 L358.2 639.0 L359.2 645.5 L360.2 652.1 L361.2 656.4 L362.2 663.6 L363.2 669.0 L364.2 673.0 L365.2 674.1 L366.2 674.7 L367.2 676.7 L368.2 679.9 L369.2 681.1 L370.2 681.1 L371.2 681.3 L372.2 683.0 L373.2 681.8 L374.2 682.0 L375.2 680.8 L376.2 679.8 L377.2 681.6 L378.2 682.6 L379.2 680.9 L380.2 680.1 L381.2 682.0 L382.2 680.6 L383.2 680.4 L384.2 682.5 L385.2 684.1 L386.2 684.5 L387.2 686.5 L388.2 688.8 L389.2 692.4 L390.2 697.7 L391.2 701.2 L392.2 705.7 L393.2 709.9 L394.2 711.8 L395.2 716.0 L396.2 718.1 L397.2 721.4 L398.2 723.4 L399.2 725.3 L400.2 725.5 L401.2 724.4 L402.2 724.3 L403.2 724.3 L404.2 724.6 L405.2 724.9 L406.2 725.4 L407.2 724.9 L408.2 726.9 L409.2 726.5 L410.2 727.2 L411.2 726.1 L412.2 726.3 L413.2 725.6 L414.2 726.7 L415.2 726.2 L416.2 725.8 L417.2 726.1 L418.2 727.2 L419.2 727.0 L420.2 725.7 L421.2 724.2 L422.2 723.4 L423.2 725.4 L424.2 725.3 L425.2 725.3 L426.2 725.5 L427.2 725.5 L428.2 724.4 L429.2 724.5 L430.2 726.0 L431.2 726.4 L432.2 724.8 L433.2 724.8 L434.2 725.3 L435.2 724.9 L436.2 724.6 L437.2 724.6 L438.2 725.7 L439.2 724.1 L440.2 725.0 L441.2 723.8 L442.2 725.1 L443.2 725.0 L444.2 724.7 L445.2 725.1 L446.2 723.6 L447.2 724.4 L448.2 724.7 L449.2 725.1 L450.2 725.0 L451.2 724.6 L452.2 725.1 L453.2 725.4 L454.2 726.9 L455.2 725.2 L456.2 725.3 L457.2 725.2 L458.2 724.6 L459.2 724.5 L460.2 725.3 L461.2 724.4 L462.2 724.1 L463.2 724.3 L464.2 725.3 L465.2 723.1 L466.2 723.5 L467.2 723.8 L468.2 723.8 L469.2 724.4 L470.2 724.4 L471.2 722.2 L472.2 722.9 L473.2 723.5 L474.2 722.6 L475.2 720.5 L476.2 719.8 L477.2 719.3 L478.2 718.6 L479.2 715.9 L480.2 715.8 L481.2 713.2 L482.2 712.5 L483.2 710.5 L484.2 707.9 L485.2 705.6 L486.2 702.2 L487.2 700.0 L488.2 698.8 L489.2 695.5 L490.2 693.6 L491.2 691.6 L492.2 693.3 L493.2 691.6 L494.2 693.3 L495.2 693.4 L496.2 694.5 L497.2 695.0 L498.2 696.4 L499.2 698.5 L500.2 699.2 L501.2 699.8 L502.2 701.8 L503.2 702.3 L504.2 705.5 L505.2 707.9 L506.2 709.7 L507.2 713.2 L508.2 715.8 L509.2 717.1 L510.2 720.6 L511.2 722.1 L512.2 724.6 L513.2 726.3 L514.2 728.3 L515.2 728.6 L516.2 730.5 L517.2 730.7 L518.2 733.7 L519.2 733.1 L520.2 734.3 L521.2 733.9 L522.2 735.2 L523.2 736.8 L524.2 735.5 L525.2 737.8 L526.2 737.7 L527.2 740.1 L528.2 739.5 L529.2 740.1 L530.2 740.1 L531.2 741.0 L532.2 739.8 L533.2 742.3 L534.2 742.0 L535.2 740.6 L536.2 742.4 L537.2 742.4 L538.2 743.8 L539.2 742.8 L540.2 743.3 L541.2 743.9 L542.2 743.7 L543.2 745.3 L544.2 744.6 L545.2 744.0 L546.2 744.8 L547.2 744.7 L548.2 746.3 L549.2 744.4 L550.2 744.1 L551.2 747.2 L552.2 745.8 L553.2 746.8 L554.2 746.2 L555.2 746.0 L556.2 746.9 L557.2 746.7 L558.2 746.3 L559.2 745.5 L560.2 747.3 L561.2 748.2 L562.2 748.2 L563.2 746.4 L564.2 748.5 L565.2 746.6 L566.2 747.3 L567.2 747.8 L568.2 747.8 L569.2 747.2" stroke="#800000" stroke-width="1.9" fill="none" stroke-linejoin="round"/>
<path d="M62.2 781.0 L63.2 781.3 L64.2 781.4 L65.2 781.8 L66.2 782.0 L67.2 781.5 L68.2 780.9 L69.2 782.0 L70.2 781.4 L71.2 780.9 L72.2 779.7 L73.2 781.6 L74.2 782.0 L75.2 782.3 L76.2 780.8 L77.2 781.4 L78.2 780.2 L79.2 781.6 L80.2 781.7 L81.2 780.8 L82.2 781.8 L83.2 782.2 L84.2 782.1 L85.2 780.6 L86.2 781.2 L87.2 781.8 L88.2 780.8 L89.2 780.5 L90.2 780.4 L91.2 781.0 L92.2 780.0 L93.2 778.5 L94.2 780.2 L95.2 781.6 L96.2 779.6 L97.2 780.0 L98.2 779.0 L99.2 778.4 L100.2 777.5 L101.2 778.4 L102.2 777.8 L103.2 778.2 L104.2 777.3 L105.2 777.4 L106.2 775.1 L107.2 776.5 L108.2 776.4 L109.2 775.8 L110.2 776.2 L111.2 774.7 L112.2 774.8 L113.2 772.4 L114.2 774.0 L115.2 773.5 L116.2 771.8 L117.2 770.3 L118.2 770.6 L119.2 770.8 L120.2 771.4 L121.2 768.7 L122.2 769.3 L123.2 768.7 L124.2 767.9 L125.2 766.1 L126.2 766.2 L127.2 763.8 L128.2 762.4 L129.2 762.7 L130.2 761.0 L131.2 758.8 L132.2 760.2 L133.2 758.4 L134.2 756.9 L135.2 754.2 L136.2 752.6 L137.2 749.7 L138.2 748.2 L139.2 745.2 L140.2 742.4 L141.2 740.6 L142.2 735.9 L143.2 732.8 L144.2 728.4 L145.2 727.4 L146.2 723.7 L147.2 717.4 L148.2 714.1 L149.2 714.1 L150.2 712.2 L151.2 710.1 L152.2 709.6 L153.2 706.7 L154.2 707.4 L155.2 708.4 L156.2 708.9 L157.2 709.7 L158.2 711.0 L159.2 709.6 L160.2 709.5 L161.2 705.6 L162.2 704.3 L163.2 704.3 L164.2 709.3 L165.2 711.4 L166.2 715.8 L167.2 719.2 L168.2 722.9 L169.2 726.2 L170.2 729.3 L171.2 733.8 L172.2 736.4 L173.2 740.7 L174.2 744.1 L175.2 748.0 L176.2 750.0 L177.2 754.9 L178.2 754.3 L179.2 754.1 L180.2 754.4 L181.2 756.1 L182.2 756.0 L183.2 756.5 L184.2 754.6 L185.2 755.3 L186.2 755.2 L187.2 755.1 L188.2 752.5 L189.2 752.7 L190.2 752.0 L191.2 751.9 L192.2 751.2 L193.2 750.8 L194.2 749.3 L195.2 749.4 L196.2 747.1 L197.2 747.5 L198.2 748.7 L199.2 746.1 L200.2 748.3 L201.2 748.3 L202.2 747.6 L203.2 749.1 L204.2 750.1 L205.2 749.9 L206.2 750.2 L207.2 752.8 L208.2 753.2 L209.2 755.8 L210.2 755.1 L211.2 759.0 L212.2 760.1 L213.2 758.4 L214.2 758.0 L215.2 760.0 L216.2 759.4 L217.2 759.7 L218.2 758.6 L219.2 758.6 L220.2 760.1 L221.2 758.6 L222.2 758.0 L223.2 759.9 L224.2 759.9 L225.2 759.1 L226.2 758.4 L227.2 760.4 L228.2 758.8 L229.2 759.4 L230.2 757.8 L231.2 757.6 L232.2 758.7 L233.2 759.6 L234.2 757.5 L235.2 757.7 L236.2 757.7 L237.2 758.9 L238.2 757.6 L239.2 757.8 L240.2 758.1 L241.2 757.7 L242.2 758.3 L243.2 755.8 L244.2 756.8 L245.2 756.7 L246.2 755.2 L247.2 756.0 L248.2 755.8 L249.2 755.0 L250.2 754.5 L251.2 755.6 L252.2 754.5 L253.2 753.9 L254.2 753.8 L255.2 752.8 L256.2 753.0 L257.2 752.8 L258.2 751.3 L259.2 751.5 L260.2 751.0 L261.2 750.8 L262.2 749.8 L263.2 749.6 L264.2 748.6 L265.2 747.7 L266.2 747.2 L267.2 745.6 L268.2 746.5 L269.2 745.4 L270.2 743.6 L271.2 742.6 L272.2 741.7 L273.2 740.5 L274.2 739.6 L275.2 739.8 L276.2 737.8 L277.2 737.3 L278.2 735.4 L279.2 733.7 L280.2 730.8 L281.2 731.5 L282.2 728.5 L283.2 725.6 L284.2 726.0 L285.2 725.1 L286.2 725.3 L287.2 723.9 L288.2 725.0 L289.2 724.8 L290.2 726.5 L291.2 725.8 L292.2 727.1 L293.2 728.1 L294.2 727.4 L295.2 729.0 L296.2 729.6 L297.2 731.5 L298.2 731.4 L299.2 731.2 L300.2 734.1 L301.2 733.3 L302.2 734.7 L303.2 735.8 L304.2 737.0 L305.2 736.9 L306.2 737.9 L307.2 738.3 L308.2 739.3 L309.2 738.9 L310.2 739.6 L311.2 739.1 L312.2 741.7 L313.2 740.6 L314.2 740.7 L315.2 738.4 L316.2 736.5 L317.2 735.3 L318.2 734.2 L319.2 734.0 L320.2 731.6 L321.2 729.9 L322.2 727.7 L323.2 728.5 L324.2 724.6 L325.2 723.8 L326.2 722.0 L327.2 720.2 L328.2 718.3 L329.2 716.6 L330.2 716.2 L331.2 712.7 L332.2 709.7 L333.2 706.1 L334.2 705.0 L335.2 701.4 L336.2 695.6 L337.2 692.0 L338.2 685.2 L339.2 681.8 L340.2 679.1 L341.2 673.0 L342.2 671.5 L343.2 669.3 L344.2 665.3 L345.2 664.4 L346.2 663.8 L347.2 662.9 L348.2 659.8 L349.2 660.0 L350.2 657.9 L351.2 658.4 L352.2 660.7 L353.2 663.2 L354.2 665.5 L355.2 669.5 L356.2 672.7 L357.2 676.6 L358.2 679.5 L359.2 683.1 L360.2 688.0 L361.2 693.0 L362.2 698.1 L363.2 703.1 L364.2 706.0 L365.2 708.5 L366.2 710.3 L367.2 712.1 L368.2 712.3 L369.2 713.8 L370.2 714.2 L371.2 714.0 L372.2 712.7 L373.2 715.1 L374.2 713.8 L375.2 714.0 L376.2 714.0 L377.2 715.8 L378.2 714.9 L379.2 715.7 L380.2 714.5 L381.2 715.2 L382.2 715.2 L383.2 714.5 L384.2 715.1 L385.2 714.5 L386.2 716.3 L387.2 718.6 L388.2 718.4 L389.2 722.1 L390.2 724.5 L391.2 727.3 L392.2 732.3 L393.2 736.1 L394.2 740.3 L395.2 742.4 L396.2 745.1 L397.2 747.1 L398.2 748.0 L399.2 750.9 L400.2 752.2 L401.2 753.1 L402.2 753.1 L403.2 753.7 L404.2 753.0 L405.2 752.5 L406.2 753.5 L407.2 751.5 L408.2 752.0 L409.2 754.0 L410.2 751.9 L411.2 753.3 L412.2 752.2 L413.2 753.6 L414.2 753.3 L415.2 753.8 L416.2 753.5 L417.2 754.0 L418.2 752.3 L419.2 754.2 L420.2 752.7 L421.2 753.6 L422.2 752.8 L423.2 753.8 L424.2 753.2 L425.2 753.0 L426.2 753.3 L427.2 752.8 L428.2 752.8 L429.2 753.8 L430.2 753.2 L431.2 752.8 L432.2 752.4 L433.2 753.6 L434.2 752.0 L435.2 752.6 L436.2 751.7 L437.2 752.1 L438.2 752.5 L439.2 752.9 L440.2 752.6 L441.2 753.4 L442.2 751.3 L443.2 754.3 L444.2 753.2 L445.2 753.1 L446.2 752.2 L447.2 753.6 L448.2 752.3 L449.2 752.8 L450.2 753.0 L451.2 753.3 L452.2 753.3 L453.2 752.3 L454.2 752.0 L455.2 753.9 L456.2 753.5 L457.2 753.3 L458.2 753.2 L459.2 753.3 L460.2 751.4 L461.2 752.9 L462.2 753.5 L463.2 752.9 L464.2 753.3 L465.2 753.0 L466.2 752.3 L467.2 752.0 L468.2 752.5 L469.2 753.3 L470.2 751.2 L471.2 753.0 L472.2 750.8 L473.2 753.7 L474.2 751.9 L475.2 751.6 L476.2 750.2 L477.2 750.0 L478.2 747.3 L479.2 747.3 L480.2 746.2 L481.2 742.9 L482.2 740.4 L483.2 739.3 L484.2 735.3 L485.2 732.5 L486.2 729.9 L487.2 727.8 L488.2 724.0 L489.2 723.2 L490.2 721.1 L491.2 719.1 L492.2 719.1 L493.2 719.0 L494.2 719.6 L495.2 719.7 L496.2 721.1 L497.2 724.9 L498.2 727.5 L499.2 728.3 L500.2 730.9 L501.2 734.3 L502.2 736.1 L503.2 736.8 L504.2 741.4 L505.2 743.6 L506.2 747.0 L507.2 749.4 L508.2 751.1 L509.2 755.5 L510.2 753.7 L511.2 756.1 L512.2 758.8 L513.2 758.8 L514.2 760.1 L515.2 760.0 L516.2 762.1 L517.2 761.7 L518.2 762.1 L519.2 762.8 L520.2 765.1 L521.2 764.8 L522.2 765.9 L523.2 766.1 L524.2 766.1 L525.2 765.8 L526.2 767.3 L527.2 767.9 L528.2 766.9 L529.2 767.6 L530.2 767.8 L531.2 767.2 L532.2 769.2 L533.2 769.7 L534.2 769.5 L535.2 770.0 L536.2 770.2 L537.2 771.2 L538.2 771.2 L539.2 771.5 L540.2 770.4 L541.2 771.5 L542.2 771.3 L543.2 770.7 L544.2 772.0 L545.2 770.6 L546.2 771.2 L547.2 773.0 L548.2 772.8 L549.2 771.1 L550.2 772.9 L551.2 772.9 L552.2 772.7 L553.2 772.2 L554.2 773.0 L555.2 773.9 L556.2 774.8 L557.2 774.2 L558.2 773.0 L559.2 774.3 L560.2 775.5 L561.2 773.9 L562.2 773.1 L563.2 775.0 L564.2 773.8 L565.2 774.4 L566.2 774.6 L567.2 774.3 L568.2 774.5 L569.2 775.0" stroke="#808000" stroke-width="1.9" fill="none" stroke-linejoin="round"/>
<path d="M62.2 804.2 L63.2 803.9 L64.2 804.3 L65.2 804.0 L66.2 803.3 L67.2 805.2 L68.2 804.1 L69.2 804.3 L70.2 804.7 L71.2 803.8 L72.2 802.9 L73.2 802.6 L74.2 803.6 L75.2 804.7 L76.2 804.2 L77.2 804.4 L78.2 803.6 L79.2 802.8 L80.2 803.7 L81.2 802.5 L82.2 803.2 L83.2 804.2 L84.2 803.2 L85.2 802.5 L86.2 803.8 L87.2 803.6 L88.2 803.2 L89.2 801.4 L90.2 803.1 L91.2 802.1 L92.2 802.4 L93.2 802.6 L94.2 801.8 L95.2 802.1 L96.2 801.4 L97.2 800.3 L98.2 799.9 L99.2 801.5 L100.2 801.4 L101.2 799.3 L102.2 799.4 L103.2 799.3 L104.2 799.2 L105.2 797.2 L106.2 798.6 L107.2 797.9 L108.2 797.6 L109.2 796.8 L110.2 797.8 L111.2 796.1 L112.2 797.3 L113.2 796.8 L114.2 794.8 L115.2 795.5 L116.2 795.1 L117.2 793.7 L118.2 791.8 L119.2 792.7 L120.2 792.7 L121.2 793.7 L122.2 792.5 L123.2 791.7 L124.2 790.6 L125.2 790.5 L126.2 788.5 L127.2 787.7 L128.2 786.5 L129.2 785.7 L130.2 785.3 L131.2 785.3 L132.2 780.8 L133.2 780.0 L134.2 777.7 L135.2 774.4 L136.2 773.9 L137.2 770.8 L138.2 771.5 L139.2 769.2 L140.2 765.4 L141.2 762.6 L142.2 759.2 L143.2 755.7 L144.2 753.5 L145.2 749.0 L146.2 746.2 L147.2 741.9 L148.2 740.3 L149.2 736.9 L150.2 736.1 L151.2 734.6 L152.2 733.5 L153.2 736.2 L154.2 736.4 L155.2 737.3 L156.2 737.0 L157.2 737.8 L158.2 738.3 L159.2 737.5 L160.2 736.6 L161.2 739.1 L162.2 739.2 L163.2 739.2 L164.2 739.3 L165.2 742.4 L166.2 742.5 L167.2 745.3 L168.2 748.6 L169.2 753.1 L170.2 757.5 L171.2 759.5 L172.2 764.3 L173.2 765.7 L174.2 769.6 L175.2 771.1 L176.2 772.5 L177.2 776.3 L178.2 775.8 L179.2 776.4 L180.2 778.3 L181.2 778.4 L182.2 778.2 L183.2 776.6 L184.2 776.4 L185.2 777.9 L186.2 776.1 L187.2 776.2 L188.2 774.4 L189.2 774.6 L190.2 772.3 L191.2 772.9 L192.2 773.7 L193.2 772.4 L194.2 771.5 L195.2 771.3 L196.2 771.0 L197.2 772.3 L198.2 771.1 L199.2 771.7 L200.2 771.5 L201.2 773.0 L202.2 773.7 L203.2 773.8 L204.2 774.0 L205.2 776.1 L206.2 778.1 L207.2 777.6 L208.2 778.5 L209.2 780.3 L210.2 779.7 L211.2 778.6 L212.2 781.4 L213.2 780.4 L214.2 780.0 L215.2 780.3 L216.2 781.0 L217.2 780.4 L218.2 782.2 L219.2 781.3 L220.2 781.5 L221.2 781.3 L222.2 780.7 L223.2 781.4 L224.2 782.6 L225.2 780.9 L226.2 781.2 L227.2 781.6 L228.2 780.8 L229.2 782.1 L230.2 780.5 L231.2 781.7 L232.2 780.5 L233.2 780.9 L234.2 780.7 L235.2 782.7 L236.2 780.0 L237.2 780.9 L238.2 780.1 L239.2 778.9 L240.2 779.7 L241.2 778.6 L242.2 777.0 L243.2 776.5 L244.2 777.6 L245.2 777.2 L246.2 775.5 L247.2 776.4 L248.2 775.7 L249.2 776.0 L250.2 774.8 L251.2 775.2 L252.2 774.8 L253.2 775.0 L254.2 775.2 L255.2 775.7 L256.2 772.9 L257.2 774.0 L258.2 772.9 L259.2 772.4 L260.2 771.7 L261.2 772.4 L262.2 772.5 L263.2 772.0 L264.2 772.0 L265.2 771.6 L266.2 771.4 L267.2 770.7 L268.2 770.4 L269.2 769.5 L270.2 768.1 L271.2 766.2 L272.2 764.8 L273.2 764.8 L274.2 762.3 L275.2 762.1 L276.2 759.7 L277.2 758.1 L278.2 757.2 L279.2 756.2 L280.2 755.9 L281.2 752.8 L282.2 751.2 L283.2 750.3 L284.2 749.2 L285.2 747.0 L286.2 745.5 L287.2 745.2 L288.2 744.3 L289.2 744.0 L290.2 742.6 L291.2 744.3 L292.2 744.4 L293.2 745.8 L294.2 745.7 L295.2 747.1 L296.2 747.7 L297.2 750.6 L298.2 749.1 L299.2 750.6 L300.2 751.7 L301.2 751.0 L302.2 753.6 L303.2 756.1 L304.2 756.2 L305.2 757.3 L306.2 757.2 L307.2 757.6 L308.2 758.8 L309.2 758.9 L310.2 759.6 L311.2 762.6 L312.2 762.6 L313.2 764.2 L314.2 762.4 L315.2 763.4 L316.2 761.7 L317.2 763.3 L318.2 761.3 L319.2 759.3 L320.2 758.1 L321.2 758.5 L322.2 755.5 L323.2 754.8 L324.2 753.4 L325.2 750.9 L326.2 750.9 L327.2 749.0 L328.2 745.1 L329.2 743.3 L330.2 741.4 L331.2 738.9 L332.2 736.7 L333.2 732.9 L334.2 731.4 L335.2 727.7 L336.2 725.9 L337.2 723.5 L338.2 720.9 L339.2 716.0 L340.2 715.0 L341.2 711.2 L342.2 710.2 L343.2 707.9 L344.2 705.8 L345.2 704.2 L346.2 701.6 L347.2 698.8 L348.2 697.5 L349.2 696.7 L350.2 694.5 L351.2 695.6 L352.2 696.8 L353.2 697.1 L354.2 700.7 L355.2 702.9 L356.2 704.9 L357.2 707.1 L358.2 709.4 L359.2 713.4 L360.2 717.4 L361.2 722.1 L362.2 725.2 L363.2 729.8 L364.2 732.8 L365.2 733.1 L366.2 735.8 L367.2 737.4 L368.2 738.8 L369.2 740.9 L370.2 741.1 L371.2 742.5 L372.2 742.6 L373.2 742.9 L374.2 741.9 L375.2 741.3 L376.2 741.9 L377.2 741.1 L378.2 741.3 L379.2 740.1 L380.2 739.9 L381.2 740.8 L382.2 740.6 L383.2 740.8 L384.2 742.0 L385.2 742.2 L386.2 743.4 L387.2 744.7 L388.2 744.6 L389.2 747.3 L390.2 748.2 L391.2 750.3 L392.2 753.0 L393.2 755.4 L394.2 757.1 L395.2 760.8 L396.2 762.5 L397.2 766.3 L398.2 768.3 L399.2 768.9 L400.2 771.0 L401.2 772.6 L402.2 772.4 L403.2 772.3 L404.2 772.4 L405.2 772.2 L406.2 773.7 L407.2 773.7 L408.2 773.5 L409.2 773.5 L410.2 774.9 L411.2 774.0 L412.2 774.8 L413.2 773.1 L414.2 773.4 L415.2 773.5 L416.2 774.7 L417.2 774.1 L418.2 775.4 L419.2 774.6 L420.2 775.3 L421.2 774.5 L422.2 775.5 L423.2 774.7 L424.2 775.0 L425.2 774.5 L426.2 774.0 L427.2 774.5 L428.2 775.6 L429.2 775.7 L430.2 774.4 L431.2 774.8 L432.2 774.7 L433.2 776.1 L434.2 775.1 L435.2 775.1 L436.2 776.1 L437.2 775.4 L438.2 776.2 L439.2 776.3 L440.2 775.3 L441.2 774.5 L442.2 775.5 L443.2 777.2 L444.2 774.8 L445.2 776.5 L446.2 775.0 L447.2 774.7 L448.2 776.4 L449.2 774.9 L450.2 773.7 L451.2 774.1 L452.2 774.4 L453.2 774.5 L454.2 775.8 L455.2 775.5 L456.2 774.7 L457.2 775.0 L458.2 774.3 L459.2 773.4 L460.2 774.5 L461.2 774.2 L462.2 774.9 L463.2 774.4 L464.2 774.9 L465.2 773.7 L466.2 773.6 L467.2 773.4 L468.2 773.0 L469.2 774.2 L470.2 773.3 L471.2 772.2 L472.2 772.4 L473.2 773.9 L474.2 773.9 L475.2 772.4 L476.2 770.3 L477.2 769.8 L478.2 766.9 L479.2 764.1 L480.2 762.9 L481.2 760.0 L482.2 758.5 L483.2 758.2 L484.2 755.1 L485.2 752.6 L486.2 750.4 L487.2 746.9 L488.2 744.9 L489.2 741.9 L490.2 740.3 L491.2 740.4 L492.2 740.3 L493.2 740.4 L494.2 742.9 L495.2 744.2 L496.2 746.2 L497.2 749.9 L498.2 751.4 L499.2 753.7 L500.2 754.8 L501.2 756.0 L502.2 758.2 L503.2 762.5 L504.2 761.6 L505.2 765.6 L506.2 768.5 L507.2 769.6 L508.2 773.6 L509.2 774.1 L510.2 776.3 L511.2 778.6 L512.2 779.3 L513.2 779.6 L514.2 780.7 L515.2 782.8 L516.2 784.0 L517.2 783.9 L518.2 783.0 L519.2 784.7 L520.2 786.5 L521.2 785.9 L522.2 786.8 L523.2 786.8 L524.2 787.7 L525.2 789.2 L526.2 789.4 L527.2 788.5 L528.2 790.5 L529.2 788.9 L530.2 791.0 L531.2 791.3 L532.2 790.0 L533.2 789.9 L534.2 792.2 L535.2 792.3 L536.2 792.2 L537.2 791.7 L538.2 792.8 L539.2 791.7 L540.2 793.5 L541.2 794.8 L542.2 793.2 L543.2 794.2 L544.2 793.0 L545.2 794.0 L546.2 793.8 L547.2 794.4 L548.2 794.0 L549.2 793.1 L550.2 795.2 L551.2 793.8 L552.2 795.5 L553.2 794.0 L554.2 795.6 L555.2 795.4 L556.2 794.8 L557.2 796.0 L558.2 795.6 L559.2 796.7 L560.2 796.1 L561.2 796.6 L562.2 794.3 L563.2 796.8 L564.2 795.7 L565.2 795.8 L566.2 795.0 L567.2 795.5 L568.2 795.8 L569.2 796.1" stroke="#3c6eb4" stroke-width="1.9" fill="none" stroke-linejoin="round"/>
<path d="M62.2 821.0 L63.2 820.8 L64.2 821.3 L65.2 822.0 L66.2 821.1 L67.2 821.0 L68.2 822.4 L69.2 822.0 L70.2 821.0 L71.2 822.3 L72.2 822.1 L73.2 823.4 L74.2 822.5 L75.2 822.5 L76.2 821.8 L77.2 821.2 L78.2 821.8 L79.2 821.7 L80.2 821.7 L81.2 822.7 L82.2 821.2 L83.2 823.1 L84.2 821.0 L85.2 820.6 L86.2 822.2 L87.2 821.1 L88.2 820.6 L89.2 821.2 L90.2 820.3 L91.2 820.5 L92.2 819.9 L93.2 820.0 L94.2 819.0 L95.2 819.8 L96.2 818.8 L97.2 818.9 L98.2 817.0 L99.2 818.6 L100.2 817.6 L101.2 817.7 L102.2 817.4 L103.2 817.0 L104.2 816.5 L105.2 817.7 L106.2 816.4 L107.2 816.4 L108.2 816.1 L109.2 815.6 L110.2 816.7 L111.2 815.2 L112.2 815.7 L113.2 814.7 L114.2 813.9 L115.2 813.6 L116.2 814.7 L117.2 812.6 L118.2 812.5 L119.2 812.9 L120.2 813.3 L121.2 811.9 L122.2 812.6 L123.2 811.0 L124.2 810.2 L125.2 810.7 L126.2 809.0 L127.2 807.4 L128.2 806.3 L129.2 806.2 L130.2 805.4 L131.2 802.9 L132.2 801.5 L133.2 800.8 L134.2 797.8 L135.2 796.7 L136.2 794.6 L137.2 792.1 L138.2 789.3 L139.2 785.9 L140.2 784.5 L141.2 780.3 L142.2 777.7 L143.2 773.4 L144.2 770.2 L145.2 768.7 L146.2 765.4 L147.2 761.3 L148.2 759.8 L149.2 756.5 L150.2 753.7 L151.2 753.3 L152.2 752.4 L153.2 753.3 L154.2 754.1 L155.2 755.3 L156.2 755.4 L157.2 757.1 L158.2 756.9 L159.2 758.9 L160.2 759.0 L161.2 758.0 L162.2 760.4 L163.2 760.8 L164.2 760.0 L165.2 761.1 L166.2 764.8 L167.2 768.1 L168.2 771.1 L169.2 775.4 L170.2 779.0 L171.2 780.9 L172.2 784.4 L173.2 787.9 L174.2 792.8 L175.2 793.4 L176.2 794.7 L177.2 795.6 L178.2 796.3 L179.2 796.3 L180.2 797.6 L181.2 796.8 L182.2 796.5 L183.2 795.3 L184.2 795.4 L185.2 795.1 L186.2 795.3 L187.2 793.5 L188.2 793.3 L189.2 792.3 L190.2 789.9 L191.2 791.5 L192.2 792.1 L193.2 789.3 L194.2 790.7 L195.2 788.6 L196.2 788.9 L197.2 788.9 L198.2 789.8 L199.2 789.4 L200.2 789.9 L201.2 791.2 L202.2 792.0 L203.2 792.0 L204.2 793.4 L205.2 794.9 L206.2 795.2 L207.2 795.0 L208.2 796.6 L209.2 796.2 L210.2 799.5 L211.2 798.5 L212.2 797.4 L213.2 798.3 L214.2 798.9 L215.2 799.1 L216.2 798.4 L217.2 798.2 L218.2 797.7 L219.2 799.0 L220.2 799.1 L221.2 798.3 L222.2 798.1 L223.2 797.9 L224.2 797.3 L225.2 797.3 L226.2 797.8 L227.2 797.4 L228.2 797.4 L229.2 796.3 L230.2 797.3 L231.2 795.8 L232.2 797.2 L233.2 795.8 L234.2 795.8 L235.2 794.7 L236.2 794.8 L237.2 793.8 L238.2 794.1 L239.2 792.2 L240.2 793.8 L241.2 792.7 L242.2 792.5 L243.2 791.5 L244.2 791.5 L245.2 790.1 L246.2 789.5 L247.2 789.5 L248.2 788.3 L249.2 789.7 L250.2 788.5 L251.2 788.4 L252.2 787.7 L253.2 788.5 L254.2 788.6 L255.2 787.4 L256.2 788.3 L257.2 787.5 L258.2 787.3 L259.2 785.7 L260.2 786.1 L261.2 787.4 L262.2 787.1 L263.2 787.7 L264.2 785.4 L265.2 786.1 L266.2 784.1 L267.2 784.3 L268.2 783.7 L269.2 783.4 L270.2 783.5 L271.2 783.3 L272.2 781.2 L273.2 778.8 L274.2 779.3 L275.2 777.1 L276.2 774.3 L277.2 775.1 L278.2 772.8 L279.2 772.2 L280.2 769.9 L281.2 768.5 L282.2 767.8 L283.2 764.9 L284.2 764.7 L285.2 764.0 L286.2 762.5 L287.2 761.1 L288.2 760.0 L289.2 759.4 L290.2 760.5 L291.2 759.5 L292.2 759.7 L293.2 759.4 L294.2 761.1 L295.2 762.2 L296.2 760.9 L297.2 764.9 L298.2 765.4 L299.2 765.7 L300.2 765.5 L301.2 769.6 L302.2 769.2 L303.2 769.3 L304.2 769.6 L305.2 772.5 L306.2 771.4 L307.2 773.6 L308.2 774.2 L309.2 774.2 L310.2 775.2 L311.2 775.8 L312.2 777.6 L313.2 777.8 L314.2 778.8 L315.2 777.5 L316.2 779.3 L317.2 778.6 L318.2 779.1 L319.2 777.6 L320.2 777.7 L321.2 776.0 L322.2 776.9 L323.2 775.3 L324.2 773.8 L325.2 773.2 L326.2 772.2 L327.2 769.6 L328.2 769.9 L329.2 767.7 L330.2 767.2 L331.2 766.1 L332.2 766.4 L333.2 763.6 L334.2 760.8 L335.2 760.4 L336.2 757.2 L337.2 755.1 L338.2 752.9 L339.2 751.7 L340.2 749.7 L341.2 746.4 L342.2 742.3 L343.2 740.8 L344.2 738.6 L345.2 732.6 L346.2 730.5 L347.2 729.0 L348.2 722.7 L349.2 720.4 L350.2 718.9 L351.2 720.8 L352.2 721.8 L353.2 724.2 L354.2 727.7 L355.2 729.9 L356.2 732.7 L357.2 738.0 L358.2 739.3 L359.2 743.9 L360.2 746.9 L361.2 749.7 L362.2 753.3 L363.2 754.8 L364.2 755.1 L365.2 756.4 L366.2 758.4 L367.2 758.2 L368.2 759.9 L369.2 759.9 L370.2 760.7 L371.2 760.1 L372.2 760.9 L373.2 759.7 L374.2 760.2 L375.2 760.8 L376.2 759.4 L377.2 758.7 L378.2 759.6 L379.2 759.2 L380.2 757.5 L381.2 758.5 L382.2 758.9 L383.2 758.4 L384.2 759.2 L385.2 760.5 L386.2 762.7 L387.2 762.7 L388.2 763.9 L389.2 763.1 L390.2 767.3 L391.2 770.4 L392.2 772.1 L393.2 777.0 L394.2 780.2 L395.2 783.7 L396.2 785.7 L397.2 787.5 L398.2 790.4 L399.2 790.8 L400.2 789.6 L401.2 789.9 L402.2 792.1 L403.2 792.7 L404.2 792.8 L405.2 792.8 L406.2 794.0 L407.2 790.6 L408.2 792.1 L409.2 793.2 L410.2 793.0 L411.2 792.9 L412.2 791.8 L413.2 793.5 L414.2 792.9 L415.2 792.6 L416.2 792.2 L417.2 790.6 L418.2 791.1 L419.2 790.4 L420.2 791.2 L421.2 790.0 L422.2 790.9 L423.2 790.4 L424.2 790.7 L425.2 789.1 L426.2 789.9 L427.2 790.8 L428.2 791.2 L429.2 789.8 L430.2 791.3 L431.2 792.8 L432.2 790.9 L433.2 790.5 L434.2 789.8 L435.2 790.0 L436.2 790.9 L437.2 791.1 L438.2 791.8 L439.2 792.8 L440.2 790.8 L441.2 791.7 L442.2 792.7 L443.2 792.1 L444.2 791.8 L445.2 791.8 L446.2 790.8 L447.2 790.7 L448.2 792.4 L449.2 792.8 L450.2 792.6 L451.2 792.6 L452.2 793.1 L453.2 793.0 L454.2 791.6 L455.2 792.0 L456.2 790.1 L457.2 792.5 L458.2 791.8 L459.2 791.6 L460.2 792.2 L461.2 790.4 L462.2 791.3 L463.2 790.4 L464.2 792.1 L465.2 789.8 L466.2 790.1 L467.2 790.6 L468.2 791.4 L469.2 789.8 L470.2 788.5 L471.2 788.8 L472.2 789.3 L473.2 789.2 L474.2 787.4 L475.2 788.5 L476.2 785.9 L477.2 784.5 L478.2 783.5 L479.2 781.1 L480.2 779.2 L481.2 778.1 L482.2 774.5 L483.2 774.1 L484.2 771.7 L485.2 770.5 L486.2 766.8 L487.2 765.3 L488.2 762.1 L489.2 759.9 L490.2 758.2 L491.2 756.9 L492.2 758.2 L493.2 759.1 L494.2 759.9 L495.2 761.6 L496.2 763.3 L497.2 764.8 L498.2 766.5 L499.2 768.9 L500.2 770.8 L501.2 773.0 L502.2 775.6 L503.2 776.9 L504.2 779.3 L505.2 783.7 L506.2 784.8 L507.2 787.2 L508.2 788.9 L509.2 791.8 L510.2 791.5 L511.2 793.8 L512.2 795.2 L513.2 795.8 L514.2 797.4 L515.2 799.0 L516.2 799.2 L517.2 799.4 L518.2 798.6 L519.2 800.5 L520.2 802.6 L521.2 803.3 L522.2 803.2 L523.2 803.9 L524.2 804.3 L525.2 803.1 L526.2 804.3 L527.2 804.6 L528.2 805.9 L529.2 806.6 L530.2 806.2 L531.2 807.9 L532.2 806.7 L533.2 806.8 L534.2 807.1 L535.2 806.3 L536.2 808.6 L537.2 808.0 L538.2 809.1 L539.2 809.2 L540.2 809.5 L541.2 808.2 L542.2 809.3 L543.2 809.6 L544.2 810.3 L545.2 809.5 L546.2 809.6 L547.2 811.5 L548.2 809.7 L549.2 811.1 L550.2 810.3 L551.2 811.9 L552.2 811.1 L553.2 811.4 L554.2 811.1 L555.2 810.5 L556.2 813.4 L557.2 812.2 L558.2 813.5 L559.2 813.1 L560.2 812.0 L561.2 812.4 L562.2 813.4 L563.2 813.1 L564.2 812.6 L565.2 813.5 L566.2 814.0 L567.2 814.3 L568.2 814.7 L569.2 813.6" stroke="#28a0a8" stroke-width="1.9" fill="none" stroke-linejoin="round"/>
<path d="M62.2 832.1 L63.2 832.3 L64.2 830.9 L65.2 834.0 L66.2 834.4 L67.2 830.5 L68.2 833.5 L69.2 833.1 L70.2 833.4 L71.2 832.3 L72.2 833.6 L73.2 832.2 L74.2 834.3 L75.2 834.5 L76.2 834.8 L77.2 832.6 L78.2 833.0 L79.2 833.4 L80.2 834.9 L81.2 833.7 L82.2 835.0 L83.2 833.9 L84.2 834.2 L85.2 832.5 L86.2 832.1 L87.2 832.6 L88.2 832.1 L89.2 831.6 L90.2 832.9 L91.2 833.4 L92.2 831.3 L93.2 831.5 L94.2 832.3 L95.2 831.0 L96.2 831.3 L97.2 830.9 L98.2 831.0 L99.2 830.7 L100.2 829.8 L101.2 828.6 L102.2 830.0 L103.2 828.1 L104.2 828.8 L105.2 828.9 L106.2 830.5 L107.2 828.7 L108.2 828.3 L109.2 827.5 L110.2 827.5 L111.2 826.2 L112.2 825.4 L113.2 826.8 L114.2 826.7 L115.2 826.0 L116.2 825.8 L117.2 825.5 L118.2 826.7 L119.2 824.4 L120.2 825.9 L121.2 823.4 L122.2 823.0 L123.2 822.3 L124.2 821.8 L125.2 821.4 L126.2 819.9 L127.2 818.8 L128.2 816.9 L129.2 815.4 L130.2 813.9 L131.2 811.5 L132.2 812.3 L133.2 808.7 L134.2 806.1 L135.2 803.6 L136.2 802.1 L137.2 799.2 L138.2 798.5 L139.2 796.3 L140.2 792.4 L141.2 791.2 L142.2 788.1 L143.2 785.0 L144.2 782.2 L145.2 779.1 L146.2 776.9 L147.2 771.6 L148.2 770.4 L149.2 767.4 L150.2 764.4 L151.2 765.8 L152.2 766.3 L153.2 767.0 L154.2 767.1 L155.2 766.7 L156.2 768.1 L157.2 768.5 L158.2 766.4 L159.2 768.3 L160.2 769.1 L161.2 769.2 L162.2 770.1 L163.2 771.9 L164.2 770.8 L165.2 771.5 L166.2 773.4 L167.2 774.9 L168.2 777.5 L169.2 780.0 L170.2 783.6 L171.2 786.1 L172.2 790.5 L173.2 794.7 L174.2 797.3 L175.2 801.2 L176.2 803.7 L177.2 803.7 L178.2 805.3 L179.2 806.8 L180.2 807.4 L181.2 806.6 L182.2 806.0 L183.2 806.2 L184.2 804.5 L185.2 804.1 L186.2 803.5 L187.2 803.5 L188.2 801.4 L189.2 801.6 L190.2 799.2 L191.2 798.9 L192.2 798.1 L193.2 798.0 L194.2 798.7 L195.2 796.4 L196.2 798.3 L197.2 798.6 L198.2 799.7 L199.2 799.8 L200.2 801.9 L201.2 800.6 L202.2 804.0 L203.2 805.4 L204.2 804.6 L205.2 806.3 L206.2 806.2 L207.2 807.6 L208.2 808.3 L209.2 806.9 L210.2 809.8 L211.2 809.7 L212.2 810.6 L213.2 809.1 L214.2 809.3 L215.2 810.0 L216.2 807.7 L217.2 809.4 L218.2 808.7 L219.2 810.3 L220.2 808.6 L221.2 809.4 L222.2 808.2 L223.2 805.9 L224.2 809.3 L225.2 808.9 L226.2 808.8 L227.2 807.6 L228.2 808.6 L229.2 806.8 L230.2 806.8 L231.2 807.9 L232.2 807.5 L233.2 808.0 L234.2 805.6 L235.2 806.1 L236.2 805.7 L237.2 805.6 L238.2 803.4 L239.2 803.7 L240.2 802.8 L241.2 802.9 L242.2 804.1 L243.2 801.8 L244.2 801.9 L245.2 800.6 L246.2 799.3 L247.2 799.2 L248.2 798.4 L249.2 797.8 L250.2 798.1 L251.2 797.5 L252.2 796.0 L253.2 794.6 L254.2 795.4 L255.2 795.7 L256.2 796.1 L257.2 794.8 L258.2 794.7 L259.2 794.7 L260.2 794.4 L261.2 792.6 L262.2 792.5 L263.2 792.7 L264.2 791.3 L265.2 790.6 L266.2 790.5 L267.2 790.1 L268.2 790.3 L269.2 788.4 L270.2 787.3 L271.2 786.7 L272.2 786.5 L273.2 783.4 L274.2 783.7 L275.2 783.0 L276.2 780.7 L277.2 779.4 L278.2 777.8 L279.2 776.9 L280.2 776.2 L281.2 776.0 L282.2 774.1 L283.2 772.1 L284.2 770.1 L285.2 769.2 L286.2 770.0 L287.2 767.4 L288.2 768.8 L289.2 768.1 L290.2 768.8 L291.2 768.5 L292.2 768.0 L293.2 768.7 L294.2 768.8 L295.2 768.6 L296.2 769.8 L297.2 770.4 L298.2 770.2 L299.2 771.4 L300.2 772.8 L301.2 772.9 L302.2 772.9 L303.2 776.1 L304.2 775.9 L305.2 778.9 L306.2 779.9 L307.2 781.9 L308.2 782.5 L309.2 782.6 L310.2 785.6 L311.2 785.3 L312.2 785.8 L313.2 786.7 L314.2 788.7 L315.2 788.4 L316.2 788.4 L317.2 787.4 L318.2 789.6 L319.2 788.1 L320.2 787.7 L321.2 786.3 L322.2 786.1 L323.2 783.9 L324.2 784.1 L325.2 781.9 L326.2 780.3 L327.2 780.0 L328.2 778.4 L329.2 776.9 L330.2 774.1 L331.2 773.1 L332.2 771.5 L333.2 770.5 L334.2 769.6 L335.2 767.1 L336.2 766.0 L337.2 763.2 L338.2 761.6 L339.2 760.1 L340.2 758.4 L341.2 756.8 L342.2 753.4 L343.2 751.4 L344.2 750.3 L345.2 745.6 L346.2 743.5 L347.2 742.6 L348.2 740.6 L349.2 739.6 L350.2 738.6 L351.2 738.5 L352.2 738.9 L353.2 740.1 L354.2 743.2 L355.2 743.6 L356.2 747.7 L357.2 749.5 L358.2 753.1 L359.2 754.1 L360.2 760.0 L361.2 763.1 L362.2 767.2 L363.2 767.8 L364.2 770.3 L365.2 772.2 L366.2 771.1 L367.2 773.1 L368.2 772.3 L369.2 775.9 L370.2 774.2 L371.2 775.3 L372.2 775.6 L373.2 773.9 L374.2 774.4 L375.2 773.0 L376.2 774.0 L377.2 773.9 L378.2 770.4 L379.2 771.5 L380.2 770.1 L381.2 771.4 L382.2 771.8 L383.2 772.4 L384.2 772.7 L385.2 771.7 L386.2 772.7 L387.2 774.5 L388.2 776.0 L389.2 775.8 L390.2 777.5 L391.2 780.2 L392.2 782.5 L393.2 786.0 L394.2 787.4 L395.2 791.6 L396.2 794.1 L397.2 796.6 L398.2 798.4 L399.2 799.6 L400.2 801.8 L401.2 801.0 L402.2 802.5 L403.2 802.8 L404.2 802.6 L405.2 803.5 L406.2 803.6 L407.2 804.5 L408.2 802.6 L409.2 803.5 L410.2 803.3 L411.2 803.3 L412.2 801.9 L413.2 802.3 L414.2 800.9 L415.2 801.8 L416.2 802.1 L417.2 802.1 L418.2 799.0 L419.2 800.0 L420.2 800.4 L421.2 798.5 L422.2 801.5 L423.2 799.7 L424.2 798.0 L425.2 801.6 L426.2 799.5 L427.2 797.7 L428.2 798.7 L429.2 799.1 L430.2 799.9 L431.2 801.6 L432.2 800.3 L433.2 800.8 L434.2 801.5 L435.2 802.2 L436.2 802.2 L437.2 801.1 L438.2 802.8 L439.2 801.5 L440.2 801.5 L441.2 804.0 L442.2 800.8 L443.2 802.2 L444.2 801.4 L445.2 802.8 L446.2 802.5 L447.2 801.5 L448.2 801.9 L449.2 801.9 L450.2 802.7 L451.2 801.0 L452.2 802.5 L453.2 802.5 L454.2 802.3 L455.2 801.9 L456.2 802.7 L457.2 802.6 L458.2 802.2 L459.2 802.0 L460.2 802.4 L461.2 802.3 L462.2 800.8 L463.2 800.5 L464.2 801.0 L465.2 800.6 L466.2 800.5 L467.2 800.6 L468.2 801.6 L469.2 800.4 L470.2 800.2 L471.2 800.5 L472.2 799.1 L473.2 799.0 L474.2 797.5 L475.2 797.6 L476.2 797.8 L477.2 795.9 L478.2 794.6 L479.2 794.6 L480.2 793.1 L481.2 790.3 L482.2 787.9 L483.2 785.9 L484.2 785.1 L485.2 782.1 L486.2 780.3 L487.2 777.1 L488.2 774.5 L489.2 771.9 L490.2 771.2 L491.2 769.1 L492.2 770.3 L493.2 769.3 L494.2 771.8 L495.2 771.2 L496.2 773.8 L497.2 775.2 L498.2 776.6 L499.2 780.9 L500.2 781.3 L501.2 782.4 L502.2 784.3 L503.2 788.4 L504.2 791.3 L505.2 793.8 L506.2 796.0 L507.2 798.9 L508.2 800.8 L509.2 803.5 L510.2 805.3 L511.2 807.3 L512.2 808.5 L513.2 808.0 L514.2 808.2 L515.2 811.9 L516.2 811.4 L517.2 811.5 L518.2 812.9 L519.2 812.7 L520.2 813.6 L521.2 812.6 L522.2 814.7 L523.2 816.7 L524.2 816.7 L525.2 816.4 L526.2 817.1 L527.2 818.1 L528.2 818.9 L529.2 818.0 L530.2 818.9 L531.2 819.7 L532.2 820.7 L533.2 820.2 L534.2 821.3 L535.2 822.0 L536.2 821.8 L537.2 822.6 L538.2 823.5 L539.2 822.1 L540.2 823.4 L541.2 823.9 L542.2 825.6 L543.2 822.8 L544.2 823.9 L545.2 823.6 L546.2 824.2 L547.2 825.4 L548.2 824.6 L549.2 825.5 L550.2 825.8 L551.2 825.8 L552.2 826.8 L553.2 826.6 L554.2 826.0 L555.2 826.4 L556.2 827.1 L557.2 826.6 L558.2 827.6 L559.2 827.4 L560.2 827.1 L561.2 827.4 L562.2 826.9 L563.2 828.1 L564.2 827.5 L565.2 827.5 L566.2 827.9 L567.2 829.8 L568.2 829.0 L569.2 827.7" stroke="#b47828" stroke-width="1.9" fill="none" stroke-linejoin="round"/>
<path d="M62.2 843.2 L63.2 844.6 L64.2 843.5 L65.2 845.2 L66.2 843.9 L67.2 845.3 L68.2 846.1 L69.2 844.4 L70.2 845.2 L71.2 845.4 L72.2 846.6 L73.2 846.7 L74.2 844.3 L75.2 845.9 L76.2 845.8 L77.2 845.2 L78.2 845.4 L79.2 844.3 L80.2 844.4 L81.2 845.0 L82.2 844.1 L83.2 845.3 L84.2 845.2 L85.2 846.1 L86.2 844.1 L87.2 845.9 L88.2 845.1 L89.2 844.9 L90.2 844.6 L91.2 844.5 L92.2 843.8 L93.2 843.5 L94.2 845.0 L95.2 842.2 L96.2 844.5 L97.2 843.9 L98.2 843.7 L99.2 844.1 L100.2 843.2 L101.2 843.2 L102.2 843.3 L103.2 842.5 L104.2 843.1 L105.2 842.8 L106.2 841.8 L107.2 841.8 L108.2 840.5 L109.2 841.1 L110.2 840.6 L111.2 839.0 L112.2 839.7 L113.2 839.7 L114.2 838.2 L115.2 837.5 L116.2 838.0 L117.2 837.2 L118.2 836.4 L119.2 836.7 L120.2 835.5 L121.2 835.9 L122.2 836.1 L123.2 835.1 L124.2 834.5 L125.2 833.1 L126.2 834.2 L127.2 832.5 L128.2 833.4 L129.2 831.1 L130.2 830.8 L131.2 829.1 L132.2 829.6 L133.2 827.5 L134.2 827.8 L135.2 828.1 L136.2 826.3 L137.2 823.5 L138.2 823.7 L139.2 820.5 L140.2 819.5 L141.2 817.6 L142.2 816.0 L143.2 814.6 L144.2 811.0 L145.2 811.5 L146.2 808.3 L147.2 805.4 L148.2 804.2 L149.2 803.1 L150.2 799.7 L151.2 799.8 L152.2 798.7 L153.2 798.9 L154.2 798.5 L155.2 799.2 L156.2 800.0 L157.2 798.8 L158.2 799.9 L159.2 800.7 L160.2 801.2 L161.2 801.1 L162.2 803.1 L163.2 803.9 L164.2 806.6 L165.2 808.0 L166.2 809.8 L167.2 812.1 L168.2 814.0 L169.2 816.3 L170.2 820.2 L171.2 821.5 L172.2 822.9 L173.2 826.0 L174.2 825.0 L175.2 827.9 L176.2 829.1 L177.2 828.3 L178.2 828.2 L179.2 828.8 L180.2 827.9 L181.2 826.9 L182.2 829.0 L183.2 829.2 L184.2 826.6 L185.2 827.4 L186.2 825.9 L187.2 824.6 L188.2 824.0 L189.2 822.2 L190.2 821.7 L191.2 821.6 L192.2 821.4 L193.2 818.9 L194.2 821.3 L195.2 820.6 L196.2 820.8 L197.2 819.8 L198.2 819.2 L199.2 820.7 L200.2 821.2 L201.2 822.2 L202.2 822.7 L203.2 822.3 L204.2 823.0 L205.2 824.5 L206.2 825.8 L207.2 826.2 L208.2 826.4 L209.2 827.4 L210.2 826.2 L211.2 827.6 L212.2 826.0 L213.2 828.9 L214.2 826.2 L215.2 829.0 L216.2 828.2 L217.2 828.3 L218.2 828.1 L219.2 827.2 L220.2 827.5 L221.2 828.6 L222.2 826.5 L223.2 827.1 L224.2 827.9 L225.2 826.6 L226.2 828.4 L227.2 826.1 L228.2 826.3 L229.2 826.9 L230.2 826.2 L231.2 826.4 L232.2 826.4 L233.2 826.0 L234.2 826.0 L235.2 825.7 L236.2 825.2 L237.2 824.6 L238.2 824.0 L239.2 823.7 L240.2 823.2 L241.2 822.9 L242.2 823.0 L243.2 820.7 L244.2 822.0 L245.2 820.7 L246.2 820.3 L247.2 818.7 L248.2 818.8 L249.2 818.4 L250.2 817.6 L251.2 818.0 L252.2 816.2 L253.2 816.1 L254.2 817.0 L255.2 816.3 L256.2 814.5 L257.2 815.7 L258.2 815.2 L259.2 815.4 L260.2 814.4 L261.2 814.1 L262.2 813.0 L263.2 813.3 L264.2 812.7 L265.2 813.1 L266.2 810.8 L267.2 811.9 L268.2 812.3 L269.2 809.0 L270.2 811.1 L271.2 810.5 L272.2 809.8 L273.2 809.5 L274.2 808.2 L275.2 808.8 L276.2 807.8 L277.2 805.7 L278.2 806.9 L279.2 804.8 L280.2 803.9 L281.2 803.8 L282.2 802.0 L283.2 801.4 L284.2 800.5 L285.2 799.7 L286.2 799.9 L287.2 798.7 L288.2 801.7 L289.2 801.7 L290.2 801.4 L291.2 802.4 L292.2 804.3 L293.2 802.8 L294.2 802.3 L295.2 804.7 L296.2 803.6 L297.2 802.2 L298.2 802.5 L299.2 801.1 L300.2 801.0 L301.2 801.0 L302.2 801.7 L303.2 801.3 L304.2 803.1 L305.2 804.4 L306.2 804.5 L307.2 805.2 L308.2 807.0 L309.2 809.3 L310.2 809.1 L311.2 811.0 L312.2 812.1 L313.2 813.1 L314.2 813.3 L315.2 812.0 L316.2 812.0 L317.2 812.7 L318.2 813.2 L319.2 813.2 L320.2 812.6 L321.2 812.3 L322.2 812.6 L323.2 810.7 L324.2 811.5 L325.2 810.8 L326.2 808.4 L327.2 809.1 L328.2 808.2 L329.2 807.9 L330.2 807.0 L331.2 804.2 L332.2 806.5 L333.2 804.3 L334.2 803.9 L335.2 802.6 L336.2 799.8 L337.2 798.9 L338.2 797.2 L339.2 797.3 L340.2 793.1 L341.2 793.7 L342.2 791.9 L343.2 790.0 L344.2 788.3 L345.2 788.0 L346.2 787.7 L347.2 785.6 L348.2 785.7 L349.2 785.4 L350.2 785.2 L351.2 784.4 L352.2 785.7 L353.2 786.8 L354.2 786.1 L355.2 788.3 L356.2 789.8 L357.2 792.0 L358.2 794.8 L359.2 796.6 L360.2 798.9 L361.2 800.8 L362.2 804.2 L363.2 804.1 L364.2 805.3 L365.2 807.5 L366.2 807.2 L367.2 808.6 L368.2 808.8 L369.2 809.1 L370.2 807.9 L371.2 808.0 L372.2 807.0 L373.2 807.9 L374.2 807.4 L375.2 806.4 L376.2 806.0 L377.2 805.7 L378.2 805.6 L379.2 804.0 L380.2 803.4 L381.2 803.5 L382.2 803.8 L383.2 804.7 L384.2 804.2 L385.2 802.0 L386.2 803.1 L387.2 804.5 L388.2 803.9 L389.2 807.2 L390.2 806.9 L391.2 807.5 L392.2 809.4 L393.2 811.4 L394.2 812.7 L395.2 815.0 L396.2 817.8 L397.2 818.4 L398.2 821.1 L399.2 821.3 L400.2 823.1 L401.2 825.6 L402.2 824.5 L403.2 824.5 L404.2 826.1 L405.2 825.3 L406.2 826.5 L407.2 827.4 L408.2 827.7 L409.2 825.9 L410.2 826.3 L411.2 825.5 L412.2 827.1 L413.2 826.0 L414.2 827.5 L415.2 824.7 L416.2 824.6 L417.2 822.1 L418.2 823.4 L419.2 823.1 L420.2 823.6 L421.2 823.6 L422.2 821.9 L423.2 822.2 L424.2 822.5 L425.2 821.9 L426.2 822.3 L427.2 823.1 L428.2 821.6 L429.2 822.6 L430.2 823.6 L431.2 823.2 L432.2 824.8 L433.2 823.8 L434.2 825.2 L435.2 824.9 L436.2 825.4 L437.2 824.5 L438.2 825.8 L439.2 824.1 L440.2 825.8 L441.2 825.0 L442.2 825.2 L443.2 826.0 L444.2 823.9 L445.2 825.6 L446.2 825.3 L447.2 824.6 L448.2 825.6 L449.2 825.0 L450.2 826.4 L451.2 824.6 L452.2 826.2 L453.2 826.0 L454.2 825.3 L455.2 824.5 L456.2 824.9 L457.2 823.9 L458.2 824.3 L459.2 824.3 L460.2 825.0 L461.2 823.6 L462.2 824.9 L463.2 824.1 L464.2 825.1 L465.2 824.7 L466.2 823.7 L467.2 824.2 L468.2 824.0 L469.2 823.3 L470.2 823.4 L471.2 823.3 L472.2 822.5 L473.2 822.1 L474.2 823.0 L475.2 821.1 L476.2 822.3 L477.2 821.9 L478.2 820.3 L479.2 820.1 L480.2 818.4 L481.2 818.6 L482.2 819.5 L483.2 816.7 L484.2 815.4 L485.2 814.3 L486.2 811.9 L487.2 811.0 L488.2 809.9 L489.2 808.5 L490.2 808.0 L491.2 808.4 L492.2 806.4 L493.2 807.4 L494.2 808.8 L495.2 808.9 L496.2 810.4 L497.2 812.8 L498.2 814.3 L499.2 815.5 L500.2 815.7 L501.2 817.9 L502.2 819.2 L503.2 819.3 L504.2 820.8 L505.2 821.6 L506.2 822.7 L507.2 823.5 L508.2 825.1 L509.2 825.2 L510.2 827.9 L511.2 827.8 L512.2 827.9 L513.2 830.4 L514.2 829.5 L515.2 828.3 L516.2 831.4 L517.2 831.7 L518.2 831.7 L519.2 832.3 L520.2 832.3 L521.2 832.4 L522.2 833.0 L523.2 836.2 L524.2 834.3 L525.2 835.4 L526.2 837.2 L527.2 835.8 L528.2 836.8 L529.2 837.1 L530.2 836.8 L531.2 838.8 L532.2 839.4 L533.2 839.3 L534.2 839.9 L535.2 841.0 L536.2 841.5 L537.2 842.9 L538.2 842.5 L539.2 843.0 L540.2 842.3 L541.2 842.2 L542.2 844.5 L543.2 843.3 L544.2 844.7 L545.2 844.5 L546.2 844.1 L547.2 845.1 L548.2 846.4 L549.2 846.4 L550.2 845.2 L551.2 845.6 L552.2 844.4 L553.2 845.3 L554.2 845.9 L555.2 846.5 L556.2 847.0 L557.2 846.5 L558.2 847.9 L559.2 846.5 L560.2 847.8 L561.2 846.7 L562.2 847.3 L563.2 847.8 L564.2 848.3 L565.2 847.3 L566.2 847.5 L567.2 847.7 L568.2 848.1 L569.2 849.0" stroke="#28c060" stroke-width="1.9" fill="none" stroke-linejoin="round"/>
<path d="M62.2 500.5 H569.7 V876 H62.2 Z" stroke="#000" stroke-width="2" fill="none"/>
<path d="M57.0 500.5 H62.2" stroke="#000" stroke-width="2"/>
<path d="M57.0 575.6 H62.2" stroke="#000" stroke-width="2"/>
<path d="M57.0 650.7 H62.2" stroke="#000" stroke-width="2"/>
<path d="M57.0 725.8 H62.2" stroke="#000" stroke-width="2"/>
<path d="M57.0 800.9 H62.2" stroke="#000" stroke-width="2"/>
<path d="M57.0 876.0 H62.2" stroke="#000" stroke-width="2"/>
<path d="M53.7 537.5 H62.2" stroke="#000" stroke-width="2"/>
<path d="M53.7 612.6 H62.2" stroke="#000" stroke-width="2"/>
<path d="M53.7 687.7 H62.2" stroke="#000" stroke-width="2"/>
<path d="M53.7 762.8 H62.2" stroke="#000" stroke-width="2"/>
<path d="M53.7 837.9 H62.2" stroke="#000" stroke-width="2"/>
<path d="M62.0 876 V883.7" stroke="#000" stroke-width="2"/>
<text x="62.0" y="906.5" font-size="23" text-anchor="middle" >1000</text>
<path d="M134.7 876 V880.3" stroke="#000" stroke-width="2"/>
<path d="M207.3 876 V883.7" stroke="#000" stroke-width="2"/>
<text x="207.3" y="906.5" font-size="23" text-anchor="middle" >1200</text>
<path d="M280.0 876 V880.3" stroke="#000" stroke-width="2"/>
<path d="M352.7 876 V883.7" stroke="#000" stroke-width="2"/>
<text x="352.7" y="906.5" font-size="23" text-anchor="middle" >1400</text>
<path d="M425.4 876 V880.3" stroke="#000" stroke-width="2"/>
<path d="M498.0 876 V883.7" stroke="#000" stroke-width="2"/>
<text x="498.0" y="906.5" font-size="23" text-anchor="middle" >1600</text>
<path d="M570.7 876 V880.3" stroke="#000" stroke-width="2"/>
<rect x="571.7" y="524.2" width="98.39999999999998" height="321.29999999999995" fill="#fff" stroke="#000" stroke-width="2"/>
<path d="M578.3 540.4 H618.2" stroke="#000000" stroke-width="1.6"/>
<text x="623.6" y="546.1" font-size="16" letter-spacing="1.4">-1.2v</text>
<path d="M578.3 563.0 H618.2" stroke="#ff0000" stroke-width="1.6"/>
<text x="623.6" y="568.7" font-size="16" letter-spacing="1.4">-1.1v</text>
<path d="M578.3 586.5 H618.2" stroke="#0000ff" stroke-width="1.6"/>
<text x="623.6" y="592.2" font-size="16" letter-spacing="1.4">-1.0v</text>
<path d="M578.3 608.9 H618.2" stroke="#ff00ff" stroke-width="1.6"/>
<text x="623.6" y="614.6" font-size="16" letter-spacing="1.4">-0.9v</text>
<path d="M578.3 631.6 H618.2" stroke="#008000" stroke-width="1.6"/>
<text x="623.6" y="637.3" font-size="16" letter-spacing="1.4">-0.8v</text>
<path d="M578.3 654.0 H618.2" stroke="#000080" stroke-width="1.6"/>
<text x="623.6" y="659.7" font-size="16" letter-spacing="1.4">-0.7v</text>
<path d="M578.3 676.3 H618.2" stroke="#8000ff" stroke-width="1.6"/>
<text x="623.6" y="682.0" font-size="16" letter-spacing="1.4">-0.6v</text>
<path d="M578.3 699.3 H618.2" stroke="#800080" stroke-width="1.6"/>
<text x="623.6" y="705.0" font-size="16" letter-spacing="1.4">-0.5v</text>
<path d="M578.3 722.3 H618.2" stroke="#800000" stroke-width="1.6"/>
<text x="623.6" y="728.0" font-size="16" letter-spacing="1.4">-0.4v</text>
<path d="M578.3 744.7 H618.2" stroke="#808000" stroke-width="1.6"/>
<text x="623.6" y="750.4" font-size="16" letter-spacing="1.4">-0.3v</text>
<path d="M578.3 767.0 H618.2" stroke="#3c6eb4" stroke-width="1.6"/>
<text x="623.6" y="772.7" font-size="16" letter-spacing="1.4">-0.2v</text>
<path d="M578.3 789.4 H618.2" stroke="#28a0a8" stroke-width="1.6"/>
<text x="623.6" y="795.1" font-size="16" letter-spacing="1.4">-0.1v</text>
<path d="M578.3 813.2 H618.2" stroke="#b47828" stroke-width="1.6"/>
<text x="623.6" y="818.9" font-size="16" letter-spacing="1.6">0v</text>
<path d="M578.3 835.8 H618.2" stroke="#28c060" stroke-width="1.6"/>
<text x="623.6" y="841.5" font-size="16" letter-spacing="2.6">no</text>
<text x="77" y="29.7" font-size="23.5" text-anchor="start" letter-spacing="0.8">(a)</text>
<text x="498.8" y="29.3" font-size="24" text-anchor="start" >pH=9</text>
<text x="74.5" y="539" font-size="22.5" text-anchor="start" letter-spacing="0.8">(b)</text>
<text x="502.3" y="528.7" font-size="19" text-anchor="start" >pH =3</text>
<text x="184" y="486.5" font-size="30.55">Wavenumber / cm</text>
<text x="432.6" y="477" font-size="22" text-anchor="start" >-</text>
<text x="439.6" y="476.8" font-size="24" text-anchor="start" >1</text>
<text x="212" y="943.3" font-size="23.2">Wavenumber / cm</text>
<text x="399.6" y="934.6" font-size="17" text-anchor="start" >-</text>
<text x="407.2" y="933.3" font-size="20" text-anchor="start" >1</text>
<text transform="translate(25.3 349.5) rotate(-90)" x="0" y="0" font-size="31">SERS Intensity (a.u.)</text>
<text transform="translate(20.6 808.5) rotate(-90)" x="0" y="0" font-size="23.4">SERS Intensity(a.u.)</text>
</svg>
</body></html>
